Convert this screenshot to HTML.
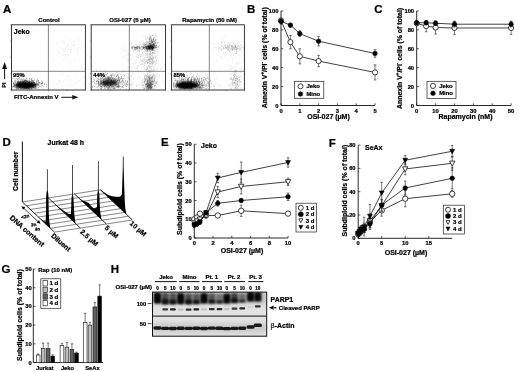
<!DOCTYPE html>
<html lang="en"><head><meta charset="utf-8"><title>Figure</title>
<style>
html,body{margin:0;padding:0;background:#fff;}
body{width:520px;height:371px;overflow:hidden;}
svg{display:block;filter:grayscale(1) blur(0.45px);font-family:'Liberation Sans', sans-serif;fill:#000;}
text{stroke:#000;stroke-width:0.22px;}
</style></head><body>
<svg width="520" height="371" viewBox="0 0 520 371" style="font-family:'Liberation Sans',sans-serif">
<defs>
<filter id="b1" x="-30%" y="-50%" width="160%" height="200%"><feGaussianBlur stdDeviation="1.3"/></filter>
<filter id="b2" x="-50%" y="-50%" width="200%" height="200%"><feGaussianBlur stdDeviation="0.8"/></filter>
<filter id="b3" x="-10%" y="-50%" width="120%" height="200%"><feGaussianBlur stdDeviation="2"/></filter>
<filter id="b4" x="-50%" y="-80%" width="200%" height="260%"><feGaussianBlur stdDeviation="0.6"/></filter>
<clipPath id="cpA0"><rect x="11.9" y="25.2" width="73.1" height="64.4"/></clipPath>
<clipPath id="cpA1"><rect x="91.6" y="25.2" width="73.5" height="64.4"/></clipPath>
<clipPath id="cpA2"><rect x="172.0" y="25.2" width="72.0" height="64.4"/></clipPath>
<clipPath id="cpH"><rect x="152.5" y="292.1" width="114.2" height="44.1"/></clipPath>
</defs>
<rect width="520" height="371" fill="#fff"/>
<text x="3" y="12.5" font-size="11.5" text-anchor="start" font-weight="bold">A</text>
<rect x="11.5" y="24.8" width="73.9" height="65.2" fill="#fff" stroke="#222" stroke-width="0.9"/>
<line x1="48.40" y1="24.80" x2="48.40" y2="90.00" stroke="#333" stroke-width="0.6"/>
<line x1="11.50" y1="71.30" x2="85.40" y2="71.30" stroke="#333" stroke-width="0.6"/>
<text x="49.0" y="21.5" font-size="6" text-anchor="middle" font-weight="bold">Control</text>
<line x1="10.00" y1="24.80" x2="11.50" y2="24.80" stroke="#555" stroke-width="0.4"/>
<line x1="11.50" y1="90.00" x2="11.50" y2="91.50" stroke="#555" stroke-width="0.4"/>
<line x1="10.00" y1="41.10" x2="11.50" y2="41.10" stroke="#555" stroke-width="0.4"/>
<line x1="29.98" y1="90.00" x2="29.98" y2="91.50" stroke="#555" stroke-width="0.4"/>
<line x1="10.00" y1="57.40" x2="11.50" y2="57.40" stroke="#555" stroke-width="0.4"/>
<line x1="48.45" y1="90.00" x2="48.45" y2="91.50" stroke="#555" stroke-width="0.4"/>
<line x1="10.00" y1="73.70" x2="11.50" y2="73.70" stroke="#555" stroke-width="0.4"/>
<line x1="66.93" y1="90.00" x2="66.93" y2="91.50" stroke="#555" stroke-width="0.4"/>
<line x1="10.00" y1="90.00" x2="11.50" y2="90.00" stroke="#555" stroke-width="0.4"/>
<line x1="85.40" y1="90.00" x2="85.40" y2="91.50" stroke="#555" stroke-width="0.4"/>
<rect x="91.2" y="24.8" width="74.3" height="65.2" fill="#fff" stroke="#222" stroke-width="0.9"/>
<line x1="129.30" y1="24.80" x2="129.30" y2="90.00" stroke="#333" stroke-width="0.6"/>
<line x1="91.20" y1="71.30" x2="165.50" y2="71.30" stroke="#333" stroke-width="0.6"/>
<text x="130.0" y="21.5" font-size="6" text-anchor="middle" font-weight="bold">OSI-027 (5 µM)</text>
<line x1="89.70" y1="24.80" x2="91.20" y2="24.80" stroke="#555" stroke-width="0.4"/>
<line x1="91.20" y1="90.00" x2="91.20" y2="91.50" stroke="#555" stroke-width="0.4"/>
<line x1="89.70" y1="41.10" x2="91.20" y2="41.10" stroke="#555" stroke-width="0.4"/>
<line x1="109.78" y1="90.00" x2="109.78" y2="91.50" stroke="#555" stroke-width="0.4"/>
<line x1="89.70" y1="57.40" x2="91.20" y2="57.40" stroke="#555" stroke-width="0.4"/>
<line x1="128.35" y1="90.00" x2="128.35" y2="91.50" stroke="#555" stroke-width="0.4"/>
<line x1="89.70" y1="73.70" x2="91.20" y2="73.70" stroke="#555" stroke-width="0.4"/>
<line x1="146.93" y1="90.00" x2="146.93" y2="91.50" stroke="#555" stroke-width="0.4"/>
<line x1="89.70" y1="90.00" x2="91.20" y2="90.00" stroke="#555" stroke-width="0.4"/>
<line x1="165.50" y1="90.00" x2="165.50" y2="91.50" stroke="#555" stroke-width="0.4"/>
<rect x="171.6" y="24.8" width="72.80000000000001" height="65.2" fill="#fff" stroke="#222" stroke-width="0.9"/>
<line x1="209.30" y1="24.80" x2="209.30" y2="90.00" stroke="#333" stroke-width="0.6"/>
<line x1="171.60" y1="71.30" x2="244.40" y2="71.30" stroke="#333" stroke-width="0.6"/>
<text x="209.6" y="21.5" font-size="6" text-anchor="middle" font-weight="bold">Rapamycin (50 nM)</text>
<line x1="170.10" y1="24.80" x2="171.60" y2="24.80" stroke="#555" stroke-width="0.4"/>
<line x1="171.60" y1="90.00" x2="171.60" y2="91.50" stroke="#555" stroke-width="0.4"/>
<line x1="170.10" y1="41.10" x2="171.60" y2="41.10" stroke="#555" stroke-width="0.4"/>
<line x1="189.80" y1="90.00" x2="189.80" y2="91.50" stroke="#555" stroke-width="0.4"/>
<line x1="170.10" y1="57.40" x2="171.60" y2="57.40" stroke="#555" stroke-width="0.4"/>
<line x1="208.00" y1="90.00" x2="208.00" y2="91.50" stroke="#555" stroke-width="0.4"/>
<line x1="170.10" y1="73.70" x2="171.60" y2="73.70" stroke="#555" stroke-width="0.4"/>
<line x1="226.20" y1="90.00" x2="226.20" y2="91.50" stroke="#555" stroke-width="0.4"/>
<line x1="170.10" y1="90.00" x2="171.60" y2="90.00" stroke="#555" stroke-width="0.4"/>
<line x1="244.40" y1="90.00" x2="244.40" y2="91.50" stroke="#555" stroke-width="0.4"/>
<text x="13.8" y="33.5" font-size="7" text-anchor="start" font-weight="bold">Jeko</text>
<text x="13.9" y="98.8" font-size="6" text-anchor="start" font-weight="bold">FITC-Annexin V</text>
<line x1="61.30" y1="97.30" x2="73.00" y2="97.30" stroke="#111" stroke-width="1.0"/>
<polygon points="72.3,95.0 78.4,97.3 72.3,99.6" fill="#111"/>
<line x1="4.60" y1="68.00" x2="4.60" y2="79.20" stroke="#111" stroke-width="1.0"/>
<polygon points="2.1,69 4.6,62 7.1,69" fill="#111"/>
<text x="6.4" y="87.4" font-size="5" text-anchor="start" font-weight="bold" transform="rotate(-90 6.4 87.4)">PI</text>
<g clip-path="url(#cpA0)">
<ellipse cx="26.0" cy="85.2" rx="11.0" ry="3.0" fill="#000" fill-opacity="0.95" filter="url(#b1)"/>
<ellipse cx="24.0" cy="85.5" rx="7.5" ry="2.3" fill="#000" fill-opacity="0.9" filter="url(#b1)"/>
<path d="M26.5 87.8h0.55M19.6 84.0h0.55M23.0 86.7h0.55M18.8 84.9h0.55M27.0 84.9h0.55M37.0 88.9h0.55M22.7 80.9h0.55M21.7 87.6h0.55M30.3 84.5h0.55M29.3 88.5h0.55M27.3 85.1h0.55M19.2 82.7h0.55M26.3 85.4h0.55M31.9 86.7h0.55M16.0 84.7h0.55M22.9 86.0h0.55M16.4 78.6h0.55M12.1 87.1h0.55M24.7 86.6h0.55M16.6 85.0h0.55M28.6 84.8h0.55M27.7 87.5h0.55M25.0 83.3h0.55M22.3 84.1h0.55M26.1 87.9h0.55M27.4 80.7h0.55M14.6 87.9h0.55M22.8 82.8h0.55M18.9 81.5h0.55M20.2 88.1h0.55M34.8 84.3h0.55M20.2 81.0h0.55M26.2 83.6h0.55M33.4 87.2h0.55M21.9 87.9h0.55M25.6 83.4h0.55M27.4 85.7h0.55M27.0 86.6h0.55M16.9 82.8h0.55M27.1 85.6h0.55M37.1 84.5h0.55M14.4 83.1h0.55M33.2 83.2h0.55M27.4 84.8h0.55M21.5 84.7h0.55M42.1 83.0h0.55M32.4 83.4h0.55M17.1 87.7h0.55M27.1 85.2h0.55M31.0 87.1h0.55M25.0 88.0h0.55M31.8 86.2h0.55M31.7 82.3h0.55M37.7 86.9h0.55M21.2 83.7h0.55M22.9 89.4h0.55M27.5 79.1h0.55M17.2 81.9h0.55M22.0 86.5h0.55M25.0 86.8h0.55M33.5 86.7h0.55M35.4 84.4h0.55M16.2 85.9h0.55M20.3 86.4h0.55M31.5 84.4h0.55M22.9 78.3h0.55M25.7 86.4h0.55M36.3 81.7h0.55M31.9 87.3h0.55M23.9 84.0h0.55M23.6 82.1h0.55M24.5 85.6h0.55M38.4 82.0h0.55M23.2 82.0h0.55M24.1 80.2h0.55M29.3 84.5h0.55M25.6 86.0h0.55M25.0 87.5h0.55M17.8 84.2h0.55M26.4 87.5h0.55M23.0 84.7h0.55M35.6 84.3h0.55M31.6 86.2h0.55M26.3 87.6h0.55M31.7 83.6h0.55M23.8 83.9h0.55M34.7 84.1h0.55M26.5 84.8h0.55M31.1 82.1h0.55M16.4 87.5h0.55M29.2 83.5h0.55M13.3 85.9h0.55M24.1 85.6h0.55M19.5 85.7h0.55M27.8 83.4h0.55M20.0 85.6h0.55M28.1 87.3h0.55M30.3 82.7h0.55M25.1 83.5h0.55M24.9 85.8h0.55M32.0 84.8h0.55M30.6 84.7h0.55M18.4 83.8h0.55M25.9 79.5h0.55M26.8 84.0h0.55M18.3 78.4h0.55M28.5 85.6h0.55M19.8 82.6h0.55M34.1 82.6h0.55M28.0 84.0h0.55M27.2 85.4h0.55M21.9 80.6h0.55M25.6 79.7h0.55M17.7 78.9h0.55M29.3 81.9h0.55M33.1 81.6h0.55M12.9 86.4h0.55M32.4 80.8h0.55M19.9 85.4h0.55M32.6 83.7h0.55M27.5 84.4h0.55M14.5 86.2h0.55M37.7 85.1h0.55M26.0 84.9h0.55M24.4 81.9h0.55M25.3 86.2h0.55M18.9 83.9h0.55M35.1 86.9h0.55M22.3 84.5h0.55M20.3 79.0h0.55M21.6 83.8h0.55M16.5 87.1h0.55M36.3 83.6h0.55M25.3 82.4h0.55M34.0 83.9h0.55M26.6 80.7h0.55M21.1 84.9h0.55M22.1 87.8h0.55M26.6 81.5h0.55M23.6 82.2h0.55M24.2 83.5h0.55M15.7 87.4h0.55M20.2 82.3h0.55M39.4 82.7h0.55M21.3 87.1h0.55M18.3 87.0h0.55M29.1 83.6h0.55M37.5 81.5h0.55M15.2 80.3h0.55M24.9 82.6h0.55M21.6 78.4h0.55M12.8 86.7h0.55M32.2 82.8h0.55M26.3 85.9h0.55M20.6 87.9h0.55M30.0 81.4h0.55M22.3 87.0h0.55M25.4 87.8h0.55M17.9 82.5h0.55M17.0 81.9h0.55M36.9 84.3h0.55M22.5 80.1h0.55M28.8 88.7h0.55M26.2 77.9h0.55M23.1 81.5h0.55M22.5 83.8h0.55M31.4 84.0h0.55M24.1 85.1h0.55M25.3 85.4h0.55M26.7 84.0h0.55M35.7 87.8h0.55M31.8 78.6h0.55M29.5 84.6h0.55M22.1 82.6h0.55M15.7 85.0h0.55M33.9 85.2h0.55M34.0 82.0h0.55M25.4 82.8h0.55M30.7 86.8h0.55M32.6 85.6h0.55M33.0 82.7h0.55M38.3 80.5h0.55M16.8 85.4h0.55M30.4 86.8h0.55M33.3 85.2h0.55M41.2 84.0h0.55M38.1 83.1h0.55M17.6 84.0h0.55M13.3 83.1h0.55M32.9 86.7h0.55M18.6 83.5h0.55M26.4 83.4h0.55M33.0 81.2h0.55M13.7 84.5h0.55M28.5 84.1h0.55M26.8 87.5h0.55M24.6 85.6h0.55M26.8 86.0h0.55M19.8 85.6h0.55M14.7 84.8h0.55M25.2 84.2h0.55M18.9 83.7h0.55M13.7 86.7h0.55M30.4 81.6h0.55M26.0 88.4h0.55M29.7 84.7h0.55M18.8 82.5h0.55M21.4 83.2h0.55M18.7 82.7h0.55M19.6 85.0h0.55M28.0 82.6h0.55M20.4 87.8h0.55M29.3 82.4h0.55M29.2 78.2h0.55M42.3 82.6h0.55M15.6 79.0h0.55M33.4 84.5h0.55M25.8 87.6h0.55M26.4 86.4h0.55M15.2 80.9h0.55M22.9 82.5h0.55M25.9 85.5h0.55M27.1 84.6h0.55M24.2 87.6h0.55M26.3 88.2h0.55M21.1 85.6h0.55M22.4 81.6h0.55M36.9 84.7h0.55M26.9 81.9h0.55M17.4 84.4h0.55M19.2 84.9h0.55M27.7 82.2h0.55M26.9 84.3h0.55M26.1 84.1h0.55M26.8 85.8h0.55M32.8 87.5h0.55M30.8 83.2h0.55M28.2 82.3h0.55M18.4 80.0h0.55M30.5 82.0h0.55M21.2 86.1h0.55M35.0 84.7h0.55M16.6 81.8h0.55M25.4 83.6h0.55M26.4 84.7h0.55M16.2 86.0h0.55M39.9 82.9h0.55M37.9 83.9h0.55M22.9 79.5h0.55M32.5 81.4h0.55M29.5 89.1h0.55M28.5 83.7h0.55M26.0 85.2h0.55M27.1 83.6h0.55M18.1 82.3h0.55M24.4 84.4h0.55M25.1 84.6h0.55M35.8 84.4h0.55M29.1 79.3h0.55M26.5 84.2h0.55M38.4 82.2h0.55M22.2 83.1h0.55M23.5 85.2h0.55M12.3 86.4h0.55M38.7 87.1h0.55M34.0 83.2h0.55M33.7 87.2h0.55M31.7 87.9h0.55M27.4 87.8h0.55M28.2 88.5h0.55M24.5 84.2h0.55M24.9 84.1h0.55M26.9 86.9h0.55M38.3 80.8h0.55M30.8 85.2h0.55M26.0 83.1h0.55M22.0 83.6h0.55M21.5 79.7h0.55M39.0 82.1h0.55M30.5 84.5h0.55M27.0 87.1h0.55M23.8 87.4h0.55M17.8 84.4h0.55M26.0 84.1h0.55M33.3 82.3h0.55M23.4 85.7h0.55M24.7 83.9h0.55M24.8 86.3h0.55M14.1 84.5h0.55M24.7 80.4h0.55M19.8 82.2h0.55M33.4 80.5h0.55M20.5 81.2h0.55M31.0 88.3h0.55M38.4 85.2h0.55M24.1 80.3h0.55M21.8 86.4h0.55M28.0 88.1h0.55M26.5 83.6h0.55M18.7 82.7h0.55M30.1 83.7h0.55M42.2 85.4h0.55M24.5 86.4h0.55M24.9 87.9h0.55M18.3 88.0h0.55M29.0 87.9h0.55M16.8 88.4h0.55M17.9 86.5h0.55M36.5 80.3h0.55M19.4 84.2h0.55M34.9 85.5h0.55M38.4 83.5h0.55M28.5 87.2h0.55M30.8 83.6h0.55M41.7 82.0h0.55M25.0 88.6h0.55M21.9 86.5h0.55M15.9 85.2h0.55M26.8 87.2h0.55M38.0 87.6h0.55M34.0 85.6h0.55M19.2 77.7h0.55M19.8 82.7h0.55M22.6 83.3h0.55M28.8 81.8h0.55M24.9 85.2h0.55M28.2 87.9h0.55M28.8 83.2h0.55M24.2 81.4h0.55M28.1 83.3h0.55M25.8 81.1h0.55M30.4 85.3h0.55M41.1 85.8h0.55M31.1 82.6h0.55M26.9 86.8h0.55M13.3 83.2h0.55M29.5 82.0h0.55M15.5 86.8h0.55M33.2 82.8h0.55M32.0 85.5h0.55M25.3 84.3h0.55M23.6 82.6h0.55M21.2 88.5h0.55M31.5 84.5h0.55M44.1 84.2h0.55M28.2 86.6h0.55M20.4 87.1h0.55M17.4 88.1h0.55M26.1 85.5h0.55M25.1 82.9h0.55M17.5 83.1h0.55M27.4 86.0h0.55M17.5 86.2h0.55M35.2 88.5h0.55M34.8 85.8h0.55M35.0 87.6h0.55M22.8 88.8h0.55M30.5 85.1h0.55M25.5 80.4h0.55M23.5 81.3h0.55M23.9 80.6h0.55M16.4 89.1h0.55M15.2 82.2h0.55M32.7 88.0h0.55M25.0 86.2h0.55M34.3 87.4h0.55M13.0 84.3h0.55M20.4 84.0h0.55M27.9 84.8h0.55M29.6 85.1h0.55M23.6 83.1h0.55M34.5 84.5h0.55M28.1 89.1h0.55M17.0 79.8h0.55M19.2 85.3h0.55M32.8 82.1h0.55M30.1 85.1h0.55M37.0 84.4h0.55M31.2 86.8h0.55M37.0 80.1h0.55M23.5 87.7h0.55M24.2 82.9h0.55M17.7 86.3h0.55M46.3 85.1h0.55M25.1 77.4h0.55M38.9 82.5h0.55M21.5 85.2h0.55M27.8 89.0h0.55M13.5 85.4h0.55M23.5 85.3h0.55M34.2 80.6h0.55M16.7 88.6h0.55M29.1 84.7h0.55M18.4 84.0h0.55M22.6 80.1h0.55M22.9 87.1h0.55M22.3 86.6h0.55M20.0 88.1h0.55M24.1 86.1h0.55M18.5 81.8h0.55M16.4 88.3h0.55M26.1 81.1h0.55M33.4 84.0h0.55M14.6 85.4h0.55M26.5 87.1h0.55M21.4 85.8h0.55M18.9 85.7h0.55M33.2 82.5h0.55M22.5 81.0h0.55M38.2 84.8h0.55M20.4 82.6h0.55M29.5 80.9h0.55M24.7 81.1h0.55M20.6 83.2h0.55M31.1 79.4h0.55M25.3 80.8h0.55M31.2 80.0h0.55M26.1 85.1h0.55M18.0 85.7h0.55M26.9 80.4h0.55M34.0 82.7h0.55M19.4 87.2h0.55M26.2 84.0h0.55M13.1 83.7h0.55M31.6 89.4h0.55M18.1 83.7h0.55M12.4 81.4h0.55M26.0 80.9h0.55M35.1 85.5h0.55M14.6 85.5h0.55M18.0 80.8h0.55M20.7 81.8h0.55M17.7 86.1h0.55M29.5 86.2h0.55M20.2 82.8h0.55M20.9 86.3h0.55M31.0 86.2h0.55M20.6 79.6h0.55M29.9 83.7h0.55M18.9 85.8h0.55M17.0 83.0h0.55M12.2 78.6h0.55M41.0 83.8h0.55M24.0 86.7h0.55M28.4 89.0h0.55M26.3 78.5h0.55M26.9 81.4h0.55M41.4 87.3h0.55M18.4 88.1h0.55M14.4 87.4h0.55M18.6 85.0h0.55M16.1 81.3h0.55M32.3 86.4h0.55M32.9 82.6h0.55M19.0 77.5h0.55M23.7 86.6h0.55M30.6 88.7h0.55M18.1 89.1h0.55M34.6 89.0h0.55M18.1 84.5h0.55M24.3 81.2h0.55M14.8 84.1h0.55M18.9 78.4h0.55M37.3 79.8h0.55M32.9 84.9h0.55M23.4 81.8h0.55M19.7 84.1h0.55M26.3 88.2h0.55M25.8 84.5h0.55M25.8 88.0h0.55M17.7 82.4h0.55M26.0 83.7h0.55M26.2 87.1h0.55M36.6 81.1h0.55M41.1 83.8h0.55M25.4 80.9h0.55M20.5 84.9h0.55M26.0 89.2h0.55M21.8 82.5h0.55M20.7 85.2h0.55M26.0 82.1h0.55M18.4 81.4h0.55M31.2 81.1h0.55M25.7 88.7h0.55M25.1 86.0h0.55M20.8 82.6h0.55M19.1 86.6h0.55M24.6 83.7h0.55M22.2 86.8h0.55M28.3 85.4h0.55M26.5 85.4h0.55M15.9 86.3h0.55M27.0 83.0h0.55M16.0 83.5h0.55M21.7 79.8h0.55M24.2 83.4h0.55M27.2 84.2h0.55M27.7 81.9h0.55M25.3 84.9h0.55M23.2 85.9h0.55M23.6 80.6h0.55M18.9 82.3h0.55M24.4 82.0h0.55M22.2 86.7h0.55M27.2 89.4h0.55M17.1 87.0h0.55M28.3 83.6h0.55M27.6 88.7h0.55M25.4 80.4h0.55M23.1 88.8h0.55M30.8 82.8h0.55M13.5 76.8h0.55M28.4 89.0h0.55M28.7 81.7h0.55M29.5 85.1h0.55M21.4 84.0h0.55M24.5 84.9h0.55M31.5 80.4h0.55M29.9 82.7h0.55M28.1 85.9h0.55M14.7 85.2h0.55M30.7 88.0h0.55M35.6 84.8h0.55M28.3 82.6h0.55M14.4 85.3h0.55M33.9 79.2h0.55M25.4 81.1h0.55M29.4 82.0h0.55M14.9 86.1h0.55M16.4 84.4h0.55M21.5 81.7h0.55M36.4 83.6h0.55M23.6 83.2h0.55M28.6 83.2h0.55M40.1 86.7h0.55M38.9 86.4h0.55M25.7 83.0h0.55M24.6 82.1h0.55M16.7 85.4h0.55M21.1 84.3h0.55M29.8 87.5h0.55M27.4 87.0h0.55M34.3 84.5h0.55M20.5 84.1h0.55M26.1 82.2h0.55M32.2 82.1h0.55M31.1 81.8h0.55M34.9 83.5h0.55M29.6 83.4h0.55M24.1 86.7h0.55M29.3 83.5h0.55M18.7 84.0h0.55M13.7 81.2h0.55M31.0 89.2h0.55M26.1 86.0h0.55M13.3 86.8h0.55M23.7 88.8h0.55M21.8 83.9h0.55M19.8 86.6h0.55M23.9 81.2h0.55M33.5 87.9h0.55M29.5 89.4h0.55M21.8 85.8h0.55M26.4 86.7h0.55M32.4 88.2h0.55M25.5 85.8h0.55M30.7 82.1h0.55M31.8 82.7h0.55M39.8 82.8h0.55M35.4 84.2h0.55M28.9 85.0h0.55M28.9 85.9h0.55M32.6 80.5h0.55M26.2 87.9h0.55M33.6 86.7h0.55M41.8 83.6h0.55M25.3 84.3h0.55M26.1 86.2h0.55M28.0 85.8h0.55M37.0 79.8h0.55M26.3 86.7h0.55M19.0 79.3h0.55M25.0 87.5h0.55M25.0 85.7h0.55M32.6 84.3h0.55M34.7 88.5h0.55M14.7 81.2h0.55M19.4 85.1h0.55M29.1 88.8h0.55M21.4 84.0h0.55M14.6 83.4h0.55M34.6 84.9h0.55M30.4 83.3h0.55M30.3 89.0h0.55M22.8 82.0h0.55M34.5 87.1h0.55M24.6 81.0h0.55M35.1 86.5h0.55M19.4 84.3h0.55M19.8 77.2h0.55M28.1 84.6h0.55M21.0 81.5h0.55M31.8 83.3h0.55M28.5 89.0h0.55M19.3 81.4h0.55M27.1 81.5h0.55M23.8 88.7h0.55M33.6 84.9h0.55M21.6 89.0h0.55M23.1 85.5h0.55M35.9 82.1h0.55M44.0 84.4h0.55M42.1 88.1h0.55M27.0 87.3h0.55M28.2 84.6h0.55M38.5 84.7h0.55M25.5 84.3h0.55M18.9 82.9h0.55M30.0 84.6h0.55M20.0 81.3h0.55M13.7 83.2h0.55M15.3 86.7h0.55M31.7 86.4h0.55M20.6 84.2h0.55M25.4 82.7h0.55M28.2 84.7h0.55M31.3 79.8h0.55M23.9 80.9h0.55M30.4 86.9h0.55M19.6 83.2h0.55M23.7 85.7h0.55M18.5 88.1h0.55M35.3 86.5h0.55M26.3 84.7h0.55M23.8 86.5h0.55M24.8 83.6h0.55M32.0 86.7h0.55M14.1 85.8h0.55M18.4 82.1h0.55M23.6 84.8h0.55M46.3 84.1h0.55M34.0 78.9h0.55M25.6 84.1h0.55M32.1 83.8h0.55M42.5 83.3h0.55M24.7 79.9h0.55M23.6 83.6h0.55M36.0 84.5h0.55M30.4 84.9h0.55M31.7 81.3h0.55M22.5 86.4h0.55M41.5 81.1h0.55M39.8 84.0h0.55M30.9 88.4h0.55M31.8 82.6h0.55M31.5 87.7h0.55M25.0 83.5h0.55M29.9 83.7h0.55M31.8 85.2h0.55M23.8 87.6h0.55M13.3 78.3h0.55M29.4 82.2h0.55M20.7 81.7h0.55M23.9 81.5h0.55M21.8 82.1h0.55M23.8 82.2h0.55M36.0 82.0h0.55M28.5 85.0h0.55M35.2 85.8h0.55M41.9 82.5h0.55M26.7 85.0h0.55M12.4 89.3h0.55M19.5 85.5h0.55M17.1 82.8h0.55M22.6 84.4h0.55M27.1 82.0h0.55M29.2 87.1h0.55M14.7 82.3h0.55M28.8 84.0h0.55M25.6 87.8h0.55M24.1 83.2h0.55M25.9 85.1h0.55M22.3 81.7h0.55M21.7 82.3h0.55M13.4 83.1h0.55M40.9 83.5h0.55M41.9 83.1h0.55M36.8 83.0h0.55M32.0 84.1h0.55M21.2 86.4h0.55M37.8 85.1h0.55M26.0 85.2h0.55M24.2 88.7h0.55M27.2 85.4h0.55M23.1 86.3h0.55M25.8 80.6h0.55M18.0 84.2h0.55M23.6 84.4h0.55M44.3 83.9h0.55M26.0 78.6h0.55M24.6 87.1h0.55M30.7 83.5h0.55M32.0 83.4h0.55M17.8 83.9h0.55M24.9 84.0h0.55M33.7 85.7h0.55M28.6 81.0h0.55M27.5 82.0h0.55M38.6 85.4h0.55M21.2 85.0h0.55M27.1 83.5h0.55M22.4 83.0h0.55M38.1 82.3h0.55M21.3 87.9h0.55M22.4 81.6h0.55M31.7 88.9h0.55M31.2 87.0h0.55M37.4 83.3h0.55M14.2 86.8h0.55M32.4 80.5h0.55M24.2 79.8h0.55M21.3 81.0h0.55M30.7 83.5h0.55M19.3 83.7h0.55M23.6 84.9h0.55M14.8 78.6h0.55M21.4 86.0h0.55M29.4 80.6h0.55M28.9 82.7h0.55M38.9 83.4h0.55M24.9 81.4h0.55M14.5 80.8h0.55M20.6 81.8h0.55M19.3 84.6h0.55M17.0 86.3h0.55M29.9 86.2h0.55M21.5 81.8h0.55M31.9 82.0h0.55M25.6 85.9h0.55M29.3 78.9h0.55M27.3 88.1h0.55M31.4 83.2h0.55M26.8 82.4h0.55M36.1 85.6h0.55M29.8 87.5h0.55M29.6 85.6h0.55M29.7 87.5h0.55M15.1 85.0h0.55M25.2 88.0h0.55M24.5 88.1h0.55M28.1 84.3h0.55M15.9 88.6h0.55M39.2 85.1h0.55M27.3 84.8h0.55M17.1 82.0h0.55M13.2 83.8h0.55M24.3 86.8h0.55M25.8 80.9h0.55M20.9 86.4h0.55M27.2 85.6h0.55M21.5 85.4h0.55M30.8 78.4h0.55M20.8 84.3h0.55M26.2 86.4h0.55M34.1 82.5h0.55M46.6 84.9h0.55M18.6 77.9h0.55M22.9 86.5h0.55M19.9 82.7h0.55M32.6 87.0h0.55M17.5 79.4h0.55M22.7 86.5h0.55M26.3 83.9h0.55M18.9 86.9h0.55M19.0 82.0h0.55M22.8 82.9h0.55M15.2 82.3h0.55M23.3 82.6h0.55M27.7 83.8h0.55M25.1 81.7h0.55M12.7 87.9h0.55M32.7 82.6h0.55M30.8 79.8h0.55M25.9 87.9h0.55M19.6 87.7h0.55M31.4 86.9h0.55M22.0 87.8h0.55M17.4 82.2h0.55M20.2 84.1h0.55M37.8 80.7h0.55M28.2 80.6h0.55M35.5 87.3h0.55M22.8 82.7h0.55M21.8 84.8h0.55M25.3 82.8h0.55M45.9 86.8h0.55M22.6 86.0h0.55M25.8 81.2h0.55M29.0 85.6h0.55M35.9 88.5h0.55M22.7 83.2h0.55M12.9 82.4h0.55M24.3 87.4h0.55M26.6 85.0h0.55M27.4 81.5h0.55M36.8 83.5h0.55M29.0 82.5h0.55M32.8 85.4h0.55M17.9 84.9h0.55M33.3 87.8h0.55M42.9 86.6h0.55M32.5 80.2h0.55M28.5 85.7h0.55M27.7 87.1h0.55M40.4 85.9h0.55M19.3 87.5h0.55M25.6 83.1h0.55M30.1 81.9h0.55M32.3 87.2h0.55M23.1 81.6h0.55M28.9 78.6h0.55M24.3 87.5h0.55M27.4 82.6h0.55M25.5 83.7h0.55M17.6 80.7h0.55M26.3 80.9h0.55M33.3 81.4h0.55M19.0 83.6h0.55M24.6 85.6h0.55M31.7 78.2h0.55M18.2 86.7h0.55M27.9 81.3h0.55M18.2 81.6h0.55" stroke="#000" stroke-width="0.55" stroke-opacity="0.6" fill="none"/>
<path d="M74.1 45.7h0.55M67.3 64.0h0.55M54.2 59.3h0.55M84.6 53.1h0.55M60.3 49.6h0.55M70.2 65.3h0.55M69.8 52.3h0.55M80.7 49.4h0.55M63.9 52.1h0.55M77.1 52.1h0.55M61.3 59.9h0.55M78.1 49.9h0.55M61.1 64.7h0.55M64.7 43.8h0.55M70.9 43.0h0.55M69.0 62.7h0.55M71.3 49.6h0.55M60.7 56.5h0.55M74.6 58.8h0.55M57.4 42.2h0.55M78.2 47.6h0.55M78.9 40.2h0.55M62.8 51.0h0.55M62.3 49.3h0.55M69.6 47.6h0.55M68.1 45.2h0.55M59.2 47.3h0.55M73.1 44.8h0.55M49.6 53.7h0.55M64.1 60.6h0.55M64.4 36.5h0.55M65.5 49.2h0.55M70.8 47.1h0.55M56.9 53.4h0.55M73.3 43.3h0.55M66.4 49.0h0.55M62.1 42.7h0.55M55.7 54.9h0.55M57.4 50.7h0.55M71.2 48.9h0.55M59.3 52.6h0.55M68.6 48.3h0.55M77.6 39.1h0.55M77.3 54.2h0.55M82.0 52.0h0.55M65.3 48.9h0.55M58.2 56.9h0.55M77.2 58.5h0.55M70.8 42.4h0.55M78.1 44.5h0.55M68.1 60.8h0.55M78.8 59.9h0.55M75.6 44.8h0.55M74.4 41.7h0.55M72.5 45.5h0.55M71.6 46.5h0.55M70.1 38.9h0.55M70.0 50.2h0.55M76.9 41.0h0.55M63.4 41.5h0.55M83.6 56.4h0.55M67.0 45.2h0.55M76.9 49.5h0.55M67.2 54.4h0.55M65.8 55.7h0.55M65.2 50.3h0.55M56.5 44.2h0.55M61.6 62.2h0.55M65.1 54.5h0.55M69.9 50.0h0.55M76.4 55.0h0.55M59.0 53.4h0.55M71.2 62.8h0.55M74.0 59.6h0.55M84.2 46.2h0.55M61.7 49.4h0.55M73.4 41.0h0.55M70.7 51.7h0.55M58.8 51.1h0.55M67.8 68.9h0.55M65.6 50.7h0.55M47.1 35.3h0.55M73.4 45.3h0.55M72.9 50.8h0.55M64.0 41.2h0.55M56.0 43.9h0.55M81.3 47.4h0.55M70.4 52.4h0.55M77.2 48.8h0.55M80.7 43.8h0.55M63.3 55.5h0.55M75.3 46.2h0.55M65.8 46.5h0.55M67.4 40.3h0.55M67.2 44.5h0.55M68.0 54.6h0.55M78.0 38.7h0.55M69.1 49.5h0.55M66.6 55.0h0.55M65.5 47.4h0.55M71.1 51.7h0.55M59.9 42.2h0.55M63.5 59.2h0.55M67.5 57.7h0.55M62.9 51.6h0.55M66.9 37.7h0.55" stroke="#000" stroke-width="0.55" stroke-opacity="0.22" fill="none"/>
<path d="M55.5 74.7h0.55M83.1 77.3h0.55M69.0 70.0h0.55M78.5 80.4h0.55M59.9 80.3h0.55M66.0 79.3h0.55M70.2 80.9h0.55M50.7 84.0h0.55M75.4 88.9h0.55M79.2 80.7h0.55M54.5 86.2h0.55M52.4 83.6h0.55M69.5 79.5h0.55M59.5 81.4h0.55M42.3 81.1h0.55M74.1 76.4h0.55M67.6 87.1h0.55M61.2 74.1h0.55M67.4 85.8h0.55M58.5 80.5h0.55M67.0 77.2h0.55M55.6 79.9h0.55M58.4 83.4h0.55M69.9 84.7h0.55M60.5 82.4h0.55M61.5 86.0h0.55M82.7 78.2h0.55M74.6 82.2h0.55M74.0 73.2h0.55M71.3 84.8h0.55M70.8 81.8h0.55M80.6 78.9h0.55M65.8 86.8h0.55M84.6 84.5h0.55M56.5 66.9h0.55M63.4 81.2h0.55M52.2 73.7h0.55M62.6 86.3h0.55M80.5 78.4h0.55M59.4 81.4h0.55M66.1 79.7h0.55M62.4 82.8h0.55M58.6 84.2h0.55M54.1 87.4h0.55M66.6 76.1h0.55M48.7 88.9h0.55M67.1 76.3h0.55M66.2 82.4h0.55M59.4 86.8h0.55M55.9 84.6h0.55M52.2 76.3h0.55M84.7 77.5h0.55M52.6 78.7h0.55M81.6 80.7h0.55M72.0 86.7h0.55M62.4 74.5h0.55M54.4 83.3h0.55M76.4 84.0h0.55M83.3 83.8h0.55M56.7 83.3h0.55M63.0 88.6h0.55M76.5 83.4h0.55M69.4 85.3h0.55M71.4 71.5h0.55" stroke="#000" stroke-width="0.55" stroke-opacity="0.22" fill="none"/>
</g>
<g clip-path="url(#cpA1)">
<ellipse cx="109.0" cy="82.8" rx="8.5" ry="3.3" fill="#000" fill-opacity="0.62" filter="url(#b1)"/>
<ellipse cx="107.5" cy="83" rx="4.5" ry="1.8" fill="#000" fill-opacity="0.5" filter="url(#b1)"/>
<path d="M120.6 76.6h0.55M107.8 76.5h0.55M107.7 88.0h0.55M102.0 85.3h0.55M94.5 82.7h0.55M106.8 80.5h0.55M104.3 82.4h0.55M114.1 82.4h0.55M97.8 80.9h0.55M121.9 79.4h0.55M107.9 83.3h0.55M104.1 79.8h0.55M103.5 76.8h0.55M100.6 79.3h0.55M105.5 85.3h0.55M110.1 85.5h0.55M108.5 81.4h0.55M98.3 82.5h0.55M107.8 81.0h0.55M102.6 77.6h0.55M111.3 87.8h0.55M125.5 83.9h0.55M107.4 79.1h0.55M96.5 81.7h0.55M98.3 86.0h0.55M96.0 81.3h0.55M116.0 76.5h0.55M103.6 78.3h0.55M110.5 82.7h0.55M104.8 83.7h0.55M110.8 81.9h0.55M121.6 86.5h0.55M104.3 86.5h0.55M107.2 83.7h0.55M103.3 82.4h0.55M117.3 81.2h0.55M101.5 84.6h0.55M100.6 86.2h0.55M98.5 82.6h0.55M98.3 84.2h0.55M113.9 80.9h0.55M131.3 76.4h0.55M101.7 78.1h0.55M117.9 85.5h0.55M112.1 84.2h0.55M100.9 89.0h0.55M107.7 82.5h0.55M108.1 85.9h0.55M104.3 87.9h0.55M126.0 86.5h0.55M94.2 79.7h0.55M113.2 81.5h0.55M112.8 82.8h0.55M105.2 78.2h0.55M111.2 84.3h0.55M117.3 86.6h0.55M111.3 80.3h0.55M115.8 81.1h0.55M93.1 81.4h0.55M122.3 81.3h0.55M128.9 79.3h0.55M118.1 84.1h0.55M118.4 82.4h0.55M98.3 89.3h0.55M109.0 84.9h0.55M103.3 84.6h0.55M105.1 81.4h0.55M118.0 76.4h0.55M103.3 81.9h0.55M108.9 78.7h0.55M94.2 86.3h0.55M108.7 82.2h0.55M110.7 89.3h0.55M104.2 85.4h0.55M104.0 85.8h0.55M125.7 83.3h0.55M100.0 83.2h0.55M101.3 85.0h0.55M103.3 86.2h0.55M120.0 79.3h0.55M127.4 84.4h0.55M104.0 81.9h0.55M106.4 81.2h0.55M118.8 79.4h0.55M102.4 76.2h0.55M122.1 87.3h0.55M121.8 82.6h0.55M110.6 83.6h0.55M122.9 78.6h0.55M101.3 86.7h0.55M119.8 84.9h0.55M106.9 84.0h0.55M103.6 84.3h0.55M110.9 82.2h0.55M108.2 89.0h0.55M101.8 84.9h0.55M96.7 83.8h0.55M102.2 87.5h0.55M122.1 86.1h0.55M126.3 84.2h0.55M115.4 83.7h0.55M105.7 84.5h0.55M109.4 81.9h0.55M112.3 78.7h0.55M101.0 80.9h0.55M101.8 77.9h0.55M110.8 82.8h0.55M107.3 83.4h0.55M101.2 73.7h0.55M113.2 82.4h0.55M107.8 85.0h0.55M118.5 83.0h0.55M110.0 78.3h0.55M107.5 87.6h0.55M111.1 79.4h0.55M108.6 77.2h0.55M104.5 77.8h0.55M106.7 82.2h0.55M116.2 86.4h0.55M115.4 87.2h0.55M120.7 83.2h0.55M95.9 77.3h0.55M106.7 79.6h0.55M106.6 78.5h0.55M111.4 81.6h0.55M106.2 74.9h0.55M105.7 82.8h0.55M116.5 85.0h0.55M111.5 81.7h0.55M100.3 84.2h0.55M121.1 78.4h0.55M118.3 76.2h0.55M105.2 79.6h0.55M116.9 87.2h0.55M103.9 86.6h0.55M119.3 80.4h0.55M108.2 87.4h0.55M103.3 80.9h0.55M106.9 88.7h0.55M103.6 84.3h0.55M111.6 80.4h0.55M111.5 85.6h0.55M110.3 79.0h0.55M105.4 78.4h0.55M110.8 83.4h0.55M94.3 82.1h0.55M112.0 82.0h0.55M119.4 80.6h0.55M112.3 88.3h0.55M106.8 80.5h0.55M108.5 79.3h0.55M108.9 87.5h0.55M105.4 88.3h0.55M105.2 83.7h0.55M102.3 75.0h0.55M119.9 79.8h0.55M109.9 84.9h0.55M117.9 82.4h0.55M107.9 88.8h0.55M110.6 76.6h0.55M108.6 85.1h0.55M113.8 79.7h0.55M116.9 87.9h0.55M112.0 82.0h0.55M104.4 86.6h0.55M103.5 79.6h0.55M123.8 76.4h0.55M107.7 77.6h0.55M107.6 79.8h0.55M122.2 78.0h0.55M119.0 87.3h0.55M114.4 87.9h0.55M106.7 83.4h0.55M129.5 78.0h0.55M113.3 81.8h0.55M114.5 79.4h0.55M108.6 88.4h0.55M98.3 83.6h0.55M98.9 84.4h0.55M113.4 80.6h0.55M113.3 73.9h0.55M108.0 79.1h0.55M100.3 77.6h0.55M98.0 83.9h0.55M107.3 82.7h0.55M97.9 78.9h0.55M117.5 80.7h0.55M119.6 88.9h0.55M133.5 78.3h0.55M117.3 78.4h0.55M105.1 81.3h0.55M102.8 79.4h0.55M105.1 84.5h0.55M118.0 74.8h0.55M115.1 82.2h0.55M114.9 82.5h0.55M111.8 81.9h0.55M115.5 81.5h0.55M122.0 80.9h0.55M101.2 86.5h0.55M106.2 80.3h0.55M98.5 81.8h0.55M123.4 82.3h0.55M120.8 82.8h0.55M116.2 81.6h0.55M100.1 86.5h0.55M111.4 82.3h0.55M108.1 83.0h0.55M110.7 82.1h0.55M108.4 78.1h0.55M114.3 78.8h0.55M106.7 77.9h0.55M117.1 83.1h0.55M112.0 79.3h0.55M107.6 77.8h0.55M109.1 83.3h0.55M106.3 84.5h0.55M116.8 74.9h0.55M107.7 89.4h0.55M112.4 82.4h0.55M106.7 81.9h0.55M97.7 86.8h0.55M117.5 82.6h0.55M101.2 79.8h0.55M113.5 77.8h0.55M96.3 81.9h0.55M102.2 85.9h0.55M105.7 77.8h0.55M103.2 81.9h0.55M100.2 83.9h0.55M108.0 78.6h0.55M113.2 82.1h0.55M106.4 85.1h0.55M112.5 82.6h0.55M103.8 77.2h0.55M109.8 84.0h0.55M114.8 82.8h0.55M110.4 84.2h0.55M106.2 87.1h0.55M101.0 86.6h0.55M111.4 84.0h0.55M112.9 83.6h0.55M107.9 77.7h0.55M103.6 81.7h0.55M114.5 83.2h0.55M130.6 80.6h0.55M107.5 82.7h0.55M112.8 78.8h0.55M113.1 88.7h0.55M111.0 80.7h0.55M104.1 84.0h0.55M121.5 81.3h0.55M107.9 87.6h0.55M103.5 84.1h0.55M108.2 82.6h0.55M111.4 81.4h0.55M105.4 82.8h0.55M109.6 78.1h0.55M98.8 85.1h0.55M108.1 79.3h0.55M116.4 84.5h0.55M126.3 82.8h0.55M115.9 86.9h0.55M112.3 82.2h0.55M119.8 86.6h0.55M118.5 78.4h0.55M123.8 84.9h0.55M119.0 81.4h0.55M109.0 83.1h0.55M112.1 82.6h0.55M111.5 86.2h0.55M112.5 73.8h0.55M111.7 83.7h0.55M103.5 76.0h0.55M92.5 87.4h0.55M104.4 74.0h0.55M93.2 78.1h0.55M110.6 75.3h0.55M110.0 89.2h0.55M96.1 76.9h0.55M115.7 82.8h0.55M117.2 80.0h0.55M110.8 74.7h0.55M123.8 80.9h0.55M125.5 85.1h0.55M100.0 81.5h0.55M118.6 86.3h0.55M113.7 80.8h0.55M113.5 82.3h0.55M117.8 80.7h0.55M104.0 83.7h0.55M103.1 83.8h0.55M103.7 83.1h0.55M109.2 79.7h0.55M97.9 79.1h0.55M101.3 88.4h0.55M114.8 77.6h0.55M109.4 78.5h0.55M113.2 81.9h0.55M94.3 80.5h0.55M105.4 72.4h0.55M110.3 83.8h0.55M105.1 85.3h0.55M117.7 77.6h0.55M109.5 79.6h0.55M110.1 84.1h0.55M110.1 89.1h0.55M115.9 78.4h0.55M106.1 75.7h0.55M119.3 86.4h0.55M113.8 88.7h0.55M111.3 80.9h0.55M110.3 73.0h0.55M114.3 88.4h0.55M118.4 81.5h0.55M117.8 87.0h0.55M113.1 82.1h0.55M117.3 80.7h0.55M111.0 80.4h0.55M120.4 88.5h0.55M109.8 88.3h0.55M92.8 73.3h0.55M121.1 78.4h0.55M100.3 80.8h0.55M108.4 76.6h0.55M102.7 82.3h0.55M127.4 81.8h0.55M114.1 81.9h0.55M97.0 80.3h0.55M114.5 81.0h0.55M106.7 80.4h0.55M125.9 83.7h0.55M101.3 78.9h0.55M110.5 81.7h0.55M107.1 87.8h0.55M106.5 83.9h0.55M92.2 81.8h0.55M113.5 84.6h0.55M123.9 84.0h0.55M94.2 86.9h0.55M119.7 84.4h0.55M129.5 87.9h0.55M113.6 82.1h0.55M108.4 80.6h0.55M119.2 86.0h0.55M114.4 84.5h0.55M105.1 81.9h0.55M115.9 76.1h0.55M105.8 74.6h0.55M95.2 83.8h0.55M126.9 85.5h0.55M107.1 85.7h0.55M104.9 76.9h0.55M112.8 86.7h0.55M97.1 80.1h0.55M98.8 83.9h0.55M105.9 84.1h0.55M105.7 78.9h0.55M110.6 79.8h0.55M119.3 73.6h0.55M106.1 78.4h0.55M114.1 74.7h0.55M115.0 84.1h0.55M101.0 82.6h0.55M111.9 86.1h0.55M102.2 83.8h0.55M118.8 79.6h0.55M113.8 83.8h0.55M110.1 80.7h0.55M98.9 84.9h0.55M111.0 83.6h0.55M103.6 78.1h0.55M115.9 82.3h0.55M109.0 82.5h0.55M103.3 81.0h0.55M117.7 86.1h0.55M105.1 80.8h0.55M119.6 80.8h0.55M107.5 72.9h0.55M107.4 81.8h0.55M111.0 80.5h0.55M103.8 73.2h0.55M106.3 83.5h0.55M108.7 84.8h0.55M122.7 79.2h0.55M122.4 80.7h0.55M107.9 78.2h0.55M123.4 85.5h0.55M109.6 75.9h0.55M113.2 81.0h0.55M112.4 82.5h0.55M130.0 84.3h0.55M112.0 81.7h0.55M100.1 77.4h0.55M120.8 82.2h0.55M106.6 84.0h0.55M107.5 78.0h0.55M118.3 87.5h0.55M116.8 86.8h0.55M116.6 75.7h0.55M118.1 78.2h0.55M124.0 75.5h0.55M109.6 86.8h0.55M117.8 84.9h0.55M103.8 85.3h0.55M107.1 78.6h0.55M118.8 77.4h0.55M113.2 82.6h0.55M98.9 82.7h0.55M113.0 78.7h0.55M108.5 82.9h0.55M103.2 85.0h0.55M113.6 83.3h0.55M106.6 77.9h0.55M97.0 73.4h0.55M100.8 81.2h0.55M124.7 83.0h0.55M97.4 81.2h0.55M111.8 80.5h0.55M115.1 79.4h0.55M115.3 85.3h0.55M99.8 82.1h0.55M107.3 82.8h0.55M111.2 78.2h0.55M116.6 79.7h0.55M104.6 83.0h0.55M100.3 78.1h0.55M118.3 77.0h0.55M119.2 80.9h0.55M113.1 87.3h0.55M104.9 83.1h0.55M113.4 88.4h0.55M110.9 81.7h0.55M117.0 81.0h0.55M99.6 76.5h0.55M111.0 79.9h0.55M108.7 88.3h0.55M100.8 83.7h0.55M111.8 85.4h0.55M110.3 85.3h0.55M106.6 82.3h0.55M113.3 81.4h0.55M98.2 82.8h0.55M109.6 85.1h0.55M113.6 84.2h0.55M112.4 84.4h0.55M118.9 82.9h0.55M100.0 79.1h0.55M97.5 81.2h0.55M112.0 78.3h0.55M113.8 86.5h0.55M127.6 73.5h0.55M115.1 81.4h0.55M116.7 80.9h0.55M103.0 77.5h0.55M97.7 82.2h0.55M131.7 87.7h0.55M112.7 81.6h0.55M115.9 84.9h0.55M114.7 82.7h0.55M125.0 80.7h0.55M120.1 82.6h0.55M101.5 80.0h0.55M98.4 80.2h0.55M121.8 83.9h0.55M122.2 84.0h0.55M114.2 85.5h0.55M111.9 82.9h0.55M111.4 76.3h0.55M104.3 84.5h0.55M122.8 81.0h0.55M115.5 81.1h0.55M114.2 76.1h0.55M113.1 79.9h0.55M118.7 79.2h0.55M114.2 82.1h0.55M116.2 76.2h0.55M100.3 82.5h0.55M114.2 82.8h0.55M128.2 77.6h0.55M105.7 79.7h0.55M108.9 78.7h0.55M117.4 86.1h0.55M117.9 71.7h0.55M115.2 80.9h0.55M96.6 75.3h0.55M114.2 80.5h0.55M100.2 85.9h0.55M103.2 79.7h0.55M114.5 82.9h0.55M107.5 78.8h0.55M136.1 86.1h0.55M116.5 87.0h0.55M116.0 76.7h0.55M102.6 77.7h0.55M104.7 86.8h0.55M101.2 81.5h0.55M105.6 81.2h0.55M100.9 83.7h0.55M104.5 77.0h0.55M108.3 85.5h0.55M101.7 82.4h0.55M98.2 84.3h0.55M98.7 79.5h0.55M113.8 84.5h0.55M110.5 79.3h0.55M118.5 86.3h0.55M118.7 87.0h0.55M107.2 86.1h0.55M115.6 84.5h0.55M98.0 85.0h0.55M128.9 70.9h0.55M119.9 85.8h0.55M108.2 81.1h0.55M100.3 82.7h0.55M113.2 81.1h0.55M94.5 76.5h0.55M103.5 80.0h0.55M116.2 85.1h0.55M110.6 88.3h0.55M105.9 79.7h0.55M117.9 78.5h0.55M101.4 88.4h0.55M112.4 78.6h0.55M103.0 82.5h0.55M113.8 78.6h0.55M101.8 86.4h0.55M105.1 76.3h0.55M126.5 88.8h0.55M100.9 81.1h0.55M115.0 88.5h0.55M100.0 80.7h0.55M98.9 75.7h0.55M111.3 84.4h0.55M115.6 86.2h0.55M103.4 85.2h0.55M111.1 81.3h0.55M113.2 80.1h0.55M114.9 81.1h0.55M95.1 78.8h0.55M123.4 81.1h0.55M114.7 71.6h0.55M106.5 83.1h0.55M101.5 82.2h0.55M98.7 85.5h0.55M114.5 80.3h0.55M107.2 84.7h0.55M100.6 77.2h0.55M105.6 79.8h0.55M123.0 74.5h0.55M107.3 88.3h0.55M105.1 84.8h0.55M121.2 77.4h0.55M113.8 82.0h0.55M110.4 86.3h0.55M105.0 84.4h0.55M97.1 83.9h0.55M100.3 78.7h0.55M106.0 79.6h0.55M108.2 82.7h0.55M113.0 86.2h0.55M114.6 78.8h0.55M111.9 77.6h0.55M111.8 87.1h0.55M101.6 78.4h0.55M92.1 86.8h0.55M105.7 83.3h0.55M102.1 86.0h0.55M107.7 85.2h0.55M99.7 85.6h0.55M100.8 78.4h0.55M109.2 79.4h0.55M111.0 85.0h0.55M104.6 88.7h0.55M114.1 88.1h0.55M101.5 83.6h0.55M110.3 83.2h0.55M125.6 86.5h0.55M104.4 82.4h0.55M119.7 82.0h0.55M121.4 77.9h0.55M122.4 86.5h0.55M103.2 77.8h0.55M126.7 84.5h0.55M111.0 76.3h0.55M107.9 86.9h0.55M108.1 78.0h0.55M115.0 85.8h0.55M110.4 75.6h0.55M108.5 80.5h0.55M120.7 87.2h0.55M104.0 78.9h0.55M101.3 82.6h0.55M116.6 80.3h0.55M115.8 72.6h0.55M119.1 83.6h0.55M101.1 84.1h0.55M119.0 77.6h0.55M114.0 84.7h0.55M124.6 79.0h0.55M99.6 78.1h0.55M111.8 82.3h0.55M107.7 79.4h0.55M104.1 75.8h0.55M119.4 85.4h0.55M106.1 86.5h0.55M104.0 74.0h0.55M117.2 75.0h0.55M118.2 84.7h0.55M118.2 80.3h0.55M103.4 83.9h0.55M109.5 87.1h0.55M118.6 80.7h0.55M104.6 77.8h0.55M103.8 70.8h0.55M116.9 83.2h0.55M123.0 78.4h0.55M100.4 83.6h0.55M98.0 76.5h0.55M108.9 86.8h0.55M115.1 85.9h0.55M108.8 77.3h0.55M104.2 80.6h0.55M111.3 80.0h0.55M102.0 80.6h0.55M109.6 77.6h0.55M104.7 84.1h0.55M132.2 83.3h0.55M116.8 83.8h0.55M103.1 80.2h0.55M101.7 87.7h0.55M106.4 83.1h0.55M96.3 70.8h0.55M103.9 79.6h0.55M103.9 82.1h0.55M117.3 86.4h0.55M106.5 81.0h0.55M103.4 81.2h0.55M98.9 79.5h0.55M100.2 85.1h0.55M109.4 80.4h0.55M108.2 79.8h0.55M119.4 79.2h0.55M104.8 84.6h0.55M118.8 80.1h0.55M112.1 75.3h0.55M110.0 84.9h0.55M93.3 79.4h0.55M99.3 83.8h0.55M116.2 83.9h0.55M121.6 87.4h0.55M111.7 86.7h0.55M116.3 79.9h0.55M106.6 81.6h0.55M106.9 76.9h0.55M104.5 89.3h0.55M118.1 84.2h0.55M112.8 88.2h0.55M108.1 81.0h0.55M107.3 73.7h0.55M114.6 88.7h0.55M112.7 82.7h0.55M103.1 82.9h0.55M124.2 82.5h0.55M112.1 85.0h0.55M110.1 84.5h0.55M122.3 75.6h0.55M118.5 86.9h0.55M109.3 80.1h0.55M114.4 80.3h0.55M104.7 86.2h0.55M120.1 74.5h0.55M94.2 83.0h0.55M115.7 84.6h0.55M103.1 82.0h0.55M101.9 77.1h0.55M108.4 79.0h0.55M112.2 77.0h0.55M115.1 83.2h0.55M124.7 85.7h0.55M113.0 86.6h0.55M117.3 79.2h0.55M105.0 83.3h0.55M115.9 84.6h0.55M111.3 80.2h0.55M106.2 81.7h0.55M109.5 83.2h0.55M111.6 86.0h0.55M113.3 80.5h0.55M105.8 82.5h0.55M103.9 75.1h0.55M116.2 82.2h0.55M95.9 87.3h0.55M122.9 87.3h0.55M104.2 82.5h0.55M115.7 79.8h0.55M96.3 81.6h0.55M131.6 84.9h0.55M121.9 86.2h0.55M122.9 78.2h0.55M117.6 74.8h0.55M108.2 78.0h0.55M113.0 75.3h0.55M102.6 76.5h0.55M116.7 87.1h0.55M100.7 81.5h0.55M107.7 83.2h0.55M118.3 87.2h0.55M100.8 87.6h0.55M107.0 80.2h0.55M111.4 87.9h0.55M98.9 83.9h0.55M119.7 82.3h0.55M112.8 84.2h0.55M97.4 76.3h0.55M109.6 79.0h0.55M103.6 81.8h0.55M104.5 84.9h0.55M110.6 80.7h0.55M104.1 81.8h0.55M118.0 86.4h0.55M104.2 88.2h0.55M118.1 85.5h0.55M109.6 87.6h0.55M117.1 80.6h0.55M105.5 81.0h0.55M105.8 83.6h0.55M100.4 81.0h0.55M114.8 80.2h0.55M117.8 89.2h0.55M127.6 81.5h0.55M120.7 78.2h0.55M112.1 84.3h0.55M113.2 82.6h0.55M109.8 87.5h0.55M122.1 80.5h0.55M117.8 80.2h0.55M103.1 79.4h0.55M104.3 81.7h0.55M112.6 77.4h0.55M108.1 89.2h0.55M119.8 78.1h0.55M106.8 81.3h0.55M107.7 85.8h0.55M106.2 84.9h0.55M93.7 83.5h0.55M117.2 75.4h0.55M100.0 83.8h0.55M105.3 78.0h0.55M116.0 81.4h0.55M109.4 83.1h0.55M110.1 77.5h0.55M96.1 80.3h0.55M109.3 76.9h0.55M97.7 86.4h0.55M112.5 81.2h0.55M113.0 84.7h0.55M109.9 79.4h0.55M127.0 80.2h0.55M114.4 87.7h0.55M114.9 78.2h0.55M111.2 74.7h0.55M108.4 84.0h0.55M118.0 77.5h0.55M119.1 80.5h0.55M99.2 86.1h0.55M118.8 78.9h0.55M114.3 86.0h0.55M118.0 79.4h0.55M113.9 88.6h0.55M99.7 87.9h0.55M100.3 80.3h0.55M125.1 81.4h0.55M112.1 78.8h0.55M98.2 83.1h0.55M112.9 87.1h0.55M107.0 76.2h0.55M94.7 86.2h0.55M96.7 78.7h0.55M112.3 74.8h0.55M107.9 82.5h0.55M112.4 83.3h0.55M115.0 79.5h0.55M92.5 86.8h0.55M107.5 73.5h0.55M103.1 82.4h0.55M105.5 80.7h0.55M109.0 82.4h0.55M107.8 85.1h0.55M97.9 78.9h0.55M106.0 82.4h0.55M126.7 86.3h0.55M101.2 83.1h0.55M96.0 83.9h0.55M112.3 80.8h0.55M115.0 83.6h0.55M113.9 82.5h0.55M100.7 88.4h0.55M118.3 85.3h0.55M103.5 81.3h0.55M100.6 72.0h0.55M104.9 85.3h0.55M109.1 85.5h0.55M115.9 78.4h0.55M115.2 73.9h0.55M109.8 77.5h0.55M117.7 86.2h0.55M110.7 77.8h0.55M117.4 80.4h0.55M98.3 83.2h0.55M96.9 87.4h0.55M116.4 82.2h0.55M98.5 81.9h0.55M107.5 80.0h0.55M109.2 89.1h0.55M106.0 86.8h0.55M106.2 81.9h0.55M121.6 76.4h0.55M117.3 84.7h0.55M129.0 79.3h0.55M110.2 86.0h0.55M109.8 83.8h0.55M116.0 83.5h0.55M125.2 85.0h0.55M100.1 84.4h0.55M110.7 78.7h0.55M108.5 80.9h0.55M111.3 77.2h0.55M115.5 80.3h0.55M106.5 86.8h0.55M110.4 81.6h0.55M104.4 78.9h0.55M104.5 76.7h0.55M108.8 84.6h0.55M108.8 86.6h0.55M100.3 88.2h0.55M123.0 82.5h0.55M108.9 86.7h0.55M98.5 78.0h0.55M119.1 83.0h0.55M103.8 79.5h0.55M114.2 83.0h0.55M109.9 85.5h0.55M112.1 86.8h0.55M111.4 78.1h0.55M105.2 87.6h0.55M110.3 80.3h0.55M126.9 78.0h0.55M110.5 76.2h0.55M113.6 82.3h0.55M101.3 83.5h0.55M98.6 81.5h0.55M127.9 84.6h0.55M106.9 81.0h0.55M127.3 82.3h0.55M114.4 76.2h0.55M110.6 82.5h0.55M114.0 78.7h0.55M115.3 80.4h0.55M119.8 81.9h0.55M113.6 83.1h0.55M111.2 75.4h0.55M111.5 75.7h0.55M121.2 81.0h0.55M116.8 84.3h0.55M101.7 83.8h0.55M104.7 86.0h0.55M112.7 87.8h0.55M104.8 84.4h0.55M106.9 82.2h0.55M102.1 78.0h0.55M107.8 78.3h0.55M113.5 80.3h0.55M118.3 83.4h0.55M110.1 83.2h0.55M127.2 82.3h0.55M109.4 81.7h0.55M136.5 84.9h0.55M118.3 83.2h0.55M114.1 83.6h0.55M105.9 83.6h0.55M108.7 78.0h0.55M111.5 84.4h0.55M126.0 84.1h0.55M98.5 81.4h0.55M125.8 80.6h0.55M116.0 79.1h0.55M111.2 83.4h0.55M107.1 77.5h0.55M115.7 82.8h0.55M100.5 86.2h0.55M117.9 85.0h0.55M115.8 84.8h0.55M115.0 82.8h0.55M118.4 86.3h0.55M119.1 81.6h0.55M109.8 80.5h0.55" stroke="#000" stroke-width="0.55" stroke-opacity="0.55" fill="none"/>
<ellipse cx="150.3" cy="47.4" rx="3.0" ry="1.0" fill="#000" fill-opacity="0.9" filter="url(#b2)"/>
<ellipse cx="151.5" cy="46.8" rx="1.6" ry="1.5" fill="#000" fill-opacity="0.6" filter="url(#b2)"/>
<path d="M150.6 47.0h0.55M153.2 49.8h0.55M151.4 49.5h0.55M152.5 48.2h0.55M143.8 47.6h0.55M154.1 45.8h0.55M157.8 48.1h0.55M154.6 47.3h0.55M149.3 47.6h0.55M147.6 46.5h0.55M151.2 47.2h0.55M147.1 47.0h0.55M152.6 47.7h0.55M148.6 49.4h0.55M153.4 47.8h0.55M154.7 44.7h0.55M143.8 45.8h0.55M151.2 44.9h0.55M148.1 46.0h0.55M145.8 48.1h0.55M148.3 47.8h0.55M149.6 46.3h0.55M153.6 47.6h0.55M145.4 46.1h0.55M153.7 45.1h0.55M156.8 45.1h0.55M152.2 45.9h0.55M152.0 49.4h0.55M150.3 45.2h0.55M146.5 49.1h0.55M152.0 49.2h0.55M151.5 47.0h0.55M152.6 47.2h0.55M158.5 46.3h0.55M152.6 47.2h0.55M151.7 48.2h0.55M155.3 47.2h0.55M146.0 48.7h0.55M146.6 49.0h0.55M149.1 47.7h0.55M148.2 47.7h0.55M152.5 47.1h0.55M149.3 47.7h0.55M155.9 45.6h0.55M155.2 47.8h0.55M152.8 47.5h0.55M149.1 45.9h0.55M152.3 50.4h0.55M152.9 45.8h0.55M146.9 45.9h0.55M151.4 47.6h0.55M152.6 44.3h0.55M151.0 46.0h0.55M155.3 44.9h0.55M154.2 45.8h0.55M147.7 47.0h0.55M150.7 47.7h0.55M147.6 48.9h0.55M152.2 48.4h0.55M147.5 49.0h0.55M153.3 48.1h0.55M151.5 46.5h0.55M153.4 48.9h0.55M149.8 46.5h0.55M145.6 46.3h0.55M156.0 49.5h0.55M149.7 48.4h0.55M154.7 47.5h0.55M151.7 48.3h0.55M152.5 48.5h0.55M156.2 45.2h0.55M151.4 47.1h0.55M154.8 45.5h0.55M145.6 47.4h0.55M153.1 46.2h0.55M149.5 49.3h0.55M149.9 48.0h0.55M150.3 46.0h0.55M151.4 47.2h0.55M155.6 45.4h0.55M144.4 47.3h0.55M150.4 48.0h0.55M148.0 47.6h0.55M154.0 44.3h0.55M148.9 46.7h0.55M151.8 48.0h0.55M149.0 47.7h0.55M152.4 49.0h0.55M153.5 45.3h0.55M149.0 48.0h0.55M150.5 46.2h0.55M145.8 47.5h0.55M151.3 47.8h0.55M153.0 48.2h0.55M148.5 46.3h0.55M153.9 47.5h0.55M143.7 45.5h0.55M144.4 45.1h0.55M145.9 48.0h0.55M148.7 47.1h0.55M150.4 44.8h0.55M150.0 45.9h0.55M150.1 47.2h0.55M152.6 49.5h0.55M148.8 48.8h0.55M146.3 48.4h0.55M146.3 44.5h0.55M157.1 47.1h0.55M142.8 47.9h0.55M149.7 47.8h0.55M155.0 47.8h0.55M151.8 46.9h0.55M147.6 49.8h0.55M150.3 49.4h0.55M153.1 47.1h0.55M154.2 45.7h0.55M147.4 50.3h0.55M152.7 46.4h0.55M151.1 49.0h0.55M153.8 50.1h0.55M154.7 45.8h0.55M149.2 47.6h0.55M145.7 46.7h0.55M151.6 48.0h0.55M156.0 47.7h0.55M152.5 50.1h0.55M151.0 48.1h0.55M158.0 47.2h0.55M147.0 48.9h0.55M153.2 46.8h0.55M148.5 46.7h0.55M150.5 50.6h0.55M150.6 46.0h0.55M155.1 46.5h0.55M147.3 47.3h0.55M148.6 45.6h0.55M145.2 44.0h0.55M151.9 48.8h0.55M148.8 46.0h0.55M151.7 46.4h0.55M146.9 46.7h0.55M149.1 45.7h0.55M153.6 45.6h0.55M149.7 47.5h0.55M152.3 50.8h0.55M152.0 48.3h0.55M149.2 48.3h0.55M145.3 45.0h0.55M153.5 47.2h0.55M150.8 45.4h0.55M153.4 48.4h0.55M143.9 46.9h0.55M145.0 47.3h0.55M143.4 47.1h0.55M147.5 46.3h0.55M153.6 44.9h0.55M152.1 48.1h0.55M150.2 45.1h0.55M150.7 45.4h0.55M152.7 46.8h0.55M149.3 46.2h0.55M151.6 47.6h0.55M150.7 48.7h0.55M143.3 47.6h0.55M149.1 47.5h0.55M154.6 47.2h0.55M149.0 48.5h0.55M149.8 44.4h0.55M148.4 47.8h0.55M148.7 45.8h0.55M153.9 45.4h0.55M149.4 47.2h0.55M147.0 46.6h0.55M140.3 48.1h0.55M148.5 48.9h0.55M144.0 43.7h0.55M144.5 47.1h0.55M152.8 50.1h0.55M152.6 48.5h0.55M144.2 49.4h0.55M153.0 47.4h0.55M151.8 45.1h0.55M147.8 45.5h0.55M152.7 48.3h0.55M145.1 48.6h0.55M146.4 46.1h0.55M145.7 46.8h0.55M146.7 47.6h0.55M153.1 44.6h0.55M146.0 46.7h0.55M146.6 49.6h0.55M147.3 50.5h0.55M150.9 47.0h0.55M149.2 50.0h0.55M153.1 46.4h0.55M148.0 46.0h0.55M146.2 43.9h0.55M148.7 48.6h0.55M150.4 46.7h0.55M147.3 50.7h0.55M151.2 47.7h0.55M156.1 47.5h0.55M148.4 44.5h0.55M150.4 49.5h0.55M154.6 46.7h0.55M148.2 47.0h0.55M147.6 43.9h0.55M146.8 48.6h0.55M151.5 48.7h0.55M151.9 46.3h0.55M149.8 47.4h0.55M150.4 47.8h0.55M154.3 48.7h0.55M153.0 47.4h0.55M145.8 49.8h0.55M150.2 46.9h0.55M150.6 46.3h0.55M152.5 46.5h0.55M149.5 43.4h0.55M148.2 46.0h0.55M148.8 48.7h0.55M144.5 47.6h0.55M150.1 46.0h0.55M148.3 47.7h0.55M151.7 44.2h0.55M146.9 46.8h0.55M148.8 48.0h0.55M147.1 48.3h0.55M146.8 46.1h0.55M152.4 48.6h0.55M148.7 50.0h0.55M151.6 46.6h0.55M146.6 48.3h0.55M150.5 44.9h0.55M144.8 44.3h0.55M148.7 48.1h0.55M148.6 47.3h0.55M152.0 47.5h0.55M150.7 46.3h0.55M149.6 46.8h0.55M152.8 48.4h0.55M150.8 49.8h0.55M151.9 46.9h0.55M152.6 44.7h0.55M150.0 49.1h0.55M149.2 48.1h0.55M151.2 48.2h0.55M148.8 47.5h0.55M151.4 50.7h0.55M153.7 47.3h0.55M152.9 48.0h0.55M148.9 44.4h0.55M146.0 46.4h0.55M150.0 46.2h0.55M149.8 47.2h0.55M153.7 47.7h0.55M148.9 46.1h0.55M149.5 49.8h0.55M152.5 45.6h0.55M148.6 46.5h0.55" stroke="#000" stroke-width="0.55" stroke-opacity="0.55" fill="none"/>
<path d="M133.7 47.6h0.55M134.5 48.7h0.55M145.6 45.9h0.55M139.2 49.0h0.55M136.4 47.1h0.55M149.8 49.2h0.55M147.7 48.0h0.55M136.0 48.9h0.55M139.3 48.2h0.55M141.8 48.8h0.55M134.2 47.6h0.55M139.1 46.6h0.55M136.4 48.3h0.55M146.4 48.3h0.55M132.8 49.9h0.55M149.8 45.4h0.55M135.5 47.3h0.55M137.3 48.7h0.55M132.4 46.2h0.55M148.3 47.3h0.55M146.7 49.9h0.55M132.3 49.1h0.55M141.0 46.6h0.55M138.4 49.1h0.55M142.5 48.9h0.55M137.4 48.4h0.55M149.2 48.0h0.55M135.1 47.8h0.55M146.6 46.6h0.55M136.1 47.0h0.55M143.3 48.4h0.55M139.1 47.7h0.55M141.0 49.6h0.55M140.9 47.2h0.55M142.9 44.9h0.55M132.3 47.2h0.55M132.1 47.9h0.55M149.4 48.0h0.55M135.8 47.6h0.55M137.8 46.7h0.55M135.6 49.2h0.55M143.3 46.8h0.55M149.7 48.4h0.55M138.7 47.3h0.55M137.1 46.3h0.55M137.6 49.1h0.55M131.5 44.8h0.55M132.7 46.6h0.55M131.9 48.0h0.55M137.2 47.2h0.55M149.7 48.4h0.55M133.7 47.5h0.55M141.4 47.1h0.55M134.9 50.0h0.55M131.7 47.3h0.55M146.9 47.4h0.55M133.4 46.4h0.55M133.6 46.8h0.55M146.5 48.3h0.55M135.6 48.2h0.55M134.8 47.6h0.55M148.9 46.8h0.55M134.7 48.3h0.55M146.8 45.7h0.55M136.8 47.2h0.55M141.7 47.3h0.55M136.9 46.6h0.55M137.4 47.7h0.55M148.7 46.8h0.55M148.2 46.7h0.55M134.3 49.6h0.55M144.8 48.4h0.55M133.7 48.9h0.55M136.7 47.6h0.55M132.3 48.6h0.55M143.3 48.4h0.55M144.8 48.9h0.55M145.2 50.2h0.55M145.7 47.3h0.55M138.5 47.9h0.55M134.4 47.5h0.55M131.1 43.7h0.55M139.4 46.1h0.55M148.7 47.6h0.55M139.5 48.3h0.55M142.7 47.0h0.55M148.4 48.8h0.55M147.4 49.0h0.55M145.1 47.1h0.55M142.3 49.2h0.55M135.4 49.5h0.55M145.2 48.1h0.55M138.9 46.5h0.55M144.4 49.2h0.55M135.2 47.4h0.55M148.9 47.2h0.55M134.1 47.7h0.55M146.0 47.0h0.55M147.9 48.8h0.55M133.9 48.5h0.55M147.4 48.9h0.55M143.2 48.2h0.55M142.5 46.7h0.55M135.8 47.4h0.55M137.2 48.6h0.55M135.5 47.2h0.55M139.4 50.8h0.55M143.3 47.3h0.55M144.8 47.0h0.55M144.4 48.9h0.55M137.6 48.4h0.55M137.4 47.6h0.55M145.5 47.3h0.55M149.5 48.1h0.55M135.2 48.5h0.55M138.8 48.4h0.55M136.2 47.3h0.55M149.5 48.1h0.55M131.3 48.5h0.55M148.0 48.4h0.55M145.6 44.2h0.55M137.3 46.6h0.55M143.9 46.7h0.55M138.0 47.3h0.55M143.1 47.8h0.55M139.1 48.6h0.55M148.4 48.3h0.55M139.7 47.5h0.55M146.4 47.6h0.55M141.9 49.5h0.55M138.1 46.9h0.55M149.4 47.9h0.55M134.7 49.3h0.55M148.3 48.0h0.55M149.6 45.4h0.55M147.1 48.0h0.55M142.6 47.2h0.55M142.8 47.5h0.55M148.6 48.8h0.55M139.2 48.1h0.55M146.7 47.3h0.55M145.7 48.6h0.55M147.3 48.1h0.55M139.4 47.7h0.55M143.4 47.9h0.55M132.8 47.9h0.55M132.4 47.2h0.55M133.0 47.1h0.55M145.0 47.6h0.55M137.7 46.6h0.55M148.3 46.2h0.55M132.5 49.0h0.55M134.3 47.3h0.55M146.9 47.6h0.55M139.0 47.5h0.55M135.2 47.6h0.55M145.8 47.6h0.55M135.5 47.7h0.55M149.5 46.7h0.55M136.2 48.6h0.55M147.3 46.8h0.55M140.1 48.7h0.55M148.8 45.5h0.55M136.6 46.4h0.55M148.6 48.7h0.55M136.8 47.4h0.55M139.5 46.9h0.55M143.0 48.0h0.55M141.5 46.4h0.55M143.7 47.7h0.55M144.2 45.2h0.55M136.1 47.1h0.55M131.2 46.9h0.55M144.7 48.2h0.55M142.4 48.6h0.55M141.7 46.7h0.55M140.4 49.4h0.55M148.6 46.9h0.55M136.6 45.3h0.55M148.3 45.0h0.55M134.2 49.3h0.55M144.2 47.5h0.55M148.9 46.9h0.55M133.9 46.8h0.55M145.6 46.4h0.55M136.2 49.1h0.55M132.1 47.5h0.55M139.2 49.6h0.55M144.3 47.4h0.55M136.4 45.0h0.55M149.1 48.5h0.55M131.0 47.2h0.55M136.1 47.3h0.55M137.5 49.3h0.55M138.0 47.3h0.55M136.7 48.9h0.55M131.4 47.6h0.55M135.0 46.8h0.55M136.0 48.2h0.55M143.8 46.9h0.55" stroke="#000" stroke-width="0.55" stroke-opacity="0.4" fill="none"/>
<path d="M155.1 39.7h0.55M154.4 44.3h0.55M152.2 44.6h0.55M153.5 37.8h0.55M153.4 39.1h0.55M151.3 39.1h0.55M154.2 38.0h0.55M151.4 40.4h0.55M153.5 39.7h0.55M149.6 38.2h0.55M152.3 42.8h0.55M153.0 44.2h0.55M150.0 38.6h0.55M151.0 40.9h0.55M150.7 42.6h0.55M153.8 41.8h0.55M150.2 40.4h0.55M153.1 45.0h0.55M155.8 45.1h0.55M152.9 44.6h0.55M148.0 41.9h0.55M152.3 48.5h0.55M154.6 47.8h0.55M151.3 41.3h0.55M154.8 42.2h0.55M153.6 46.1h0.55M153.1 40.1h0.55M151.4 43.7h0.55M150.7 42.7h0.55M151.4 40.4h0.55M152.2 41.8h0.55M153.3 37.8h0.55M153.1 40.9h0.55M151.3 36.5h0.55M152.2 49.4h0.55M153.0 47.0h0.55M148.0 46.2h0.55M150.1 43.4h0.55M150.0 45.5h0.55M151.5 46.3h0.55M151.3 45.6h0.55M151.4 45.3h0.55M149.9 39.8h0.55M153.7 43.8h0.55M152.7 40.9h0.55M147.9 39.0h0.55M152.1 39.1h0.55M149.2 43.8h0.55M156.3 45.7h0.55M150.9 38.4h0.55M151.1 47.8h0.55M152.2 46.9h0.55M151.5 41.4h0.55M151.9 41.1h0.55M155.9 42.3h0.55M152.6 45.5h0.55M154.1 41.4h0.55M154.9 39.2h0.55M149.6 43.5h0.55M156.3 36.3h0.55M153.8 42.9h0.55M154.4 46.0h0.55M149.9 43.4h0.55M154.1 44.8h0.55M153.1 44.0h0.55M150.7 44.7h0.55M157.8 42.9h0.55M153.5 40.0h0.55M151.4 41.8h0.55M152.5 42.3h0.55M154.3 46.3h0.55M154.9 47.4h0.55M153.5 43.8h0.55M155.1 40.2h0.55M155.7 40.3h0.55M149.0 41.9h0.55M150.8 46.7h0.55M149.7 43.5h0.55M152.3 42.3h0.55M155.7 40.2h0.55M153.7 45.1h0.55M149.4 43.4h0.55M151.3 42.3h0.55M154.6 42.8h0.55M150.7 47.6h0.55M151.8 42.0h0.55M152.8 47.6h0.55M147.5 46.2h0.55M154.0 42.7h0.55M152.9 45.2h0.55M153.5 42.1h0.55M149.6 40.0h0.55M150.1 41.7h0.55M150.6 39.8h0.55M152.7 44.0h0.55M152.2 42.5h0.55M152.4 44.2h0.55M156.5 45.0h0.55M155.3 33.1h0.55M150.3 43.4h0.55M150.4 37.1h0.55M156.3 43.0h0.55M151.3 39.9h0.55M155.5 42.8h0.55M156.0 46.6h0.55M150.7 37.4h0.55M151.4 43.1h0.55M152.3 42.3h0.55M149.9 36.8h0.55M149.6 44.4h0.55M151.0 42.6h0.55M154.2 41.0h0.55M150.9 40.3h0.55M151.5 52.1h0.55M150.9 41.3h0.55M148.6 37.1h0.55M155.8 39.7h0.55M146.2 41.4h0.55M150.4 41.3h0.55M153.4 42.3h0.55M148.6 39.4h0.55M153.6 44.1h0.55M155.2 41.0h0.55M149.9 38.4h0.55M152.6 40.1h0.55M149.3 41.3h0.55M153.3 45.0h0.55M152.3 44.0h0.55M152.6 41.5h0.55M155.5 42.6h0.55M153.2 43.1h0.55M155.4 48.6h0.55M153.6 40.6h0.55M149.0 43.9h0.55M152.7 44.7h0.55M153.3 39.6h0.55M148.4 43.1h0.55M155.4 43.0h0.55M152.2 41.1h0.55M153.0 44.2h0.55M149.8 45.6h0.55M152.2 45.9h0.55M152.8 41.9h0.55M151.2 43.1h0.55M152.2 49.6h0.55M146.7 39.2h0.55M155.5 43.2h0.55M149.3 45.2h0.55M146.6 43.0h0.55M149.6 44.5h0.55M150.0 43.0h0.55M153.4 44.8h0.55M149.8 46.3h0.55M152.8 41.8h0.55M149.6 43.1h0.55M157.6 42.3h0.55M153.4 41.3h0.55M156.9 42.4h0.55M149.5 39.1h0.55M153.7 44.7h0.55" stroke="#000" stroke-width="0.55" stroke-opacity="0.4" fill="none"/>
<path d="M155.6 47.8h0.55M155.6 61.9h0.55M154.3 42.5h0.55M147.6 63.7h0.55M155.1 42.8h0.55M148.4 51.0h0.55M150.3 45.8h0.55M156.0 39.7h0.55M147.3 67.7h0.55M153.0 47.6h0.55M151.3 62.8h0.55M150.0 68.0h0.55M147.9 45.5h0.55M151.8 35.2h0.55M149.1 54.4h0.55M153.6 43.7h0.55M154.2 67.3h0.55M146.4 41.1h0.55M149.0 61.7h0.55M149.5 36.0h0.55M147.0 45.0h0.55M147.1 42.3h0.55M150.8 66.5h0.55M149.9 57.2h0.55M145.5 59.4h0.55M148.9 38.0h0.55M152.1 46.4h0.55M146.9 68.0h0.55M147.7 57.7h0.55M155.3 63.0h0.55M154.5 53.6h0.55M145.6 42.6h0.55M146.4 68.8h0.55M151.6 44.8h0.55M146.9 41.3h0.55M149.7 59.0h0.55M149.1 38.2h0.55M152.2 63.3h0.55M142.9 61.3h0.55M143.9 49.2h0.55M146.8 54.1h0.55M153.5 53.0h0.55M150.0 37.8h0.55M145.4 37.9h0.55M152.0 48.0h0.55M152.6 35.2h0.55M149.8 41.9h0.55M149.5 48.5h0.55M151.8 58.2h0.55M154.1 54.1h0.55M151.0 41.4h0.55M152.1 63.1h0.55M150.4 64.4h0.55M149.4 59.5h0.55M147.8 60.5h0.55M151.3 44.4h0.55M149.6 66.0h0.55M149.8 56.6h0.55M153.3 41.6h0.55M152.0 60.3h0.55M153.1 58.2h0.55M145.8 56.0h0.55M152.2 52.4h0.55M148.7 63.4h0.55M148.1 62.0h0.55M147.9 56.8h0.55M154.1 37.5h0.55M153.0 43.6h0.55M148.3 71.2h0.55M147.1 49.9h0.55M150.5 58.4h0.55M149.1 39.9h0.55M155.5 56.1h0.55M146.1 57.5h0.55M145.0 63.2h0.55M149.7 70.9h0.55M150.5 51.9h0.55M150.9 46.6h0.55M152.8 40.9h0.55M156.7 47.4h0.55M149.5 51.4h0.55M148.9 70.7h0.55M145.2 53.9h0.55M151.2 60.0h0.55M153.1 62.1h0.55M149.7 35.5h0.55M154.0 43.6h0.55M150.6 55.0h0.55M155.0 37.1h0.55M151.5 40.6h0.55M147.3 62.8h0.55M148.6 59.9h0.55M145.9 40.1h0.55M145.3 39.4h0.55M151.3 66.2h0.55M153.1 52.5h0.55M156.4 46.7h0.55M150.3 61.6h0.55M149.8 59.8h0.55M147.2 71.8h0.55M153.5 38.8h0.55M151.7 63.4h0.55M148.7 52.0h0.55M152.6 44.2h0.55M152.2 53.4h0.55M144.9 35.8h0.55M152.7 39.6h0.55M150.9 39.0h0.55M149.3 60.6h0.55M149.2 61.2h0.55M155.7 44.0h0.55M155.1 46.4h0.55M156.0 63.6h0.55M147.1 49.3h0.55M148.5 47.9h0.55M153.2 70.0h0.55M146.9 55.1h0.55M148.3 54.9h0.55M145.1 57.6h0.55M156.1 36.5h0.55M153.7 49.8h0.55M151.9 64.2h0.55M151.2 59.1h0.55M149.2 67.9h0.55M149.3 46.5h0.55M152.3 52.6h0.55M148.4 43.7h0.55M154.2 41.9h0.55M149.0 38.4h0.55M147.9 42.4h0.55M154.4 41.1h0.55M150.1 51.2h0.55M152.2 50.2h0.55M149.3 63.3h0.55M143.7 63.8h0.55M152.1 55.0h0.55M146.5 59.3h0.55M153.7 52.3h0.55M145.8 46.5h0.55M144.9 53.6h0.55M151.4 58.3h0.55M151.8 70.3h0.55M150.8 65.2h0.55M146.9 37.5h0.55M153.2 58.7h0.55M146.1 38.4h0.55M149.1 58.0h0.55M148.1 66.4h0.55M149.4 60.9h0.55M153.1 39.4h0.55M148.6 50.7h0.55M152.2 42.2h0.55M152.6 59.4h0.55M145.4 61.3h0.55M147.0 62.3h0.55M149.3 48.2h0.55M148.7 57.1h0.55M151.4 42.7h0.55M144.7 69.4h0.55M152.7 69.7h0.55M152.7 36.1h0.55M150.0 55.9h0.55M146.4 61.6h0.55M150.5 43.5h0.55M148.9 36.2h0.55M152.2 35.1h0.55M150.2 61.2h0.55M152.7 35.5h0.55M149.2 49.3h0.55M154.8 64.5h0.55M143.6 36.9h0.55M147.5 61.1h0.55M152.0 51.0h0.55M146.0 49.4h0.55M152.7 52.9h0.55M146.8 48.0h0.55M150.8 66.9h0.55M147.8 59.8h0.55M149.2 49.3h0.55M151.0 39.5h0.55M150.2 53.7h0.55M149.4 72.0h0.55M157.0 68.0h0.55M150.5 37.5h0.55M147.6 48.2h0.55M153.3 52.4h0.55M153.0 50.0h0.55M154.2 39.1h0.55M155.9 41.9h0.55M147.7 54.8h0.55M153.7 61.7h0.55M153.9 61.5h0.55M150.5 59.9h0.55M151.2 59.9h0.55M141.5 35.3h0.55M148.8 43.1h0.55M155.9 47.5h0.55M145.1 44.5h0.55M148.9 49.4h0.55M151.4 49.8h0.55M152.2 47.6h0.55M155.4 35.4h0.55M145.2 67.0h0.55M150.6 70.4h0.55M153.1 57.8h0.55M146.6 45.1h0.55M150.4 51.7h0.55M156.2 68.8h0.55M154.4 57.2h0.55M152.1 60.8h0.55M142.7 60.9h0.55M150.1 71.3h0.55M151.7 59.2h0.55M149.6 39.0h0.55M150.3 53.7h0.55M159.8 69.1h0.55M149.9 39.8h0.55M147.6 36.9h0.55M151.2 36.9h0.55M149.6 37.6h0.55M149.6 41.1h0.55M150.2 63.5h0.55M152.8 57.2h0.55M151.2 62.1h0.55M146.9 55.6h0.55M150.1 48.1h0.55M151.9 64.1h0.55M149.1 41.3h0.55M153.9 48.3h0.55M152.8 50.4h0.55M147.5 60.2h0.55M151.5 63.2h0.55M156.5 56.0h0.55M155.2 57.5h0.55M150.3 45.4h0.55M153.2 56.9h0.55M148.5 66.2h0.55M146.2 51.3h0.55M152.2 62.8h0.55M151.2 53.8h0.55M152.0 54.0h0.55M150.4 57.5h0.55M151.5 40.2h0.55M149.0 43.0h0.55M151.9 41.5h0.55M153.0 54.8h0.55M150.3 59.8h0.55M152.9 61.2h0.55M145.2 42.7h0.55M148.1 47.3h0.55M154.8 40.4h0.55M155.8 59.2h0.55M151.3 50.6h0.55M150.2 45.1h0.55M146.7 43.3h0.55M151.6 70.1h0.55M152.8 52.8h0.55M146.1 71.7h0.55M152.2 46.9h0.55M152.0 43.0h0.55M151.8 61.5h0.55M147.1 68.7h0.55M152.1 41.1h0.55M146.0 66.9h0.55M155.0 56.7h0.55M150.9 68.5h0.55M147.0 70.0h0.55M154.5 50.8h0.55M154.0 69.8h0.55M148.5 41.7h0.55M157.1 51.4h0.55M147.5 51.4h0.55M151.4 44.1h0.55M154.0 52.9h0.55M143.7 62.8h0.55M153.5 39.0h0.55M150.3 52.8h0.55M150.5 54.4h0.55M147.3 42.3h0.55M151.5 58.8h0.55M147.2 44.4h0.55M147.6 56.1h0.55M149.2 56.2h0.55M146.8 62.7h0.55M155.2 69.6h0.55M146.5 69.3h0.55M148.2 53.6h0.55M149.6 44.7h0.55M150.5 44.0h0.55M152.9 64.1h0.55M153.0 63.1h0.55M149.6 64.4h0.55M149.3 65.8h0.55M150.6 55.9h0.55M153.0 68.2h0.55M152.6 59.3h0.55M149.0 58.4h0.55M144.3 66.0h0.55M156.9 59.1h0.55M153.4 63.4h0.55M151.3 69.4h0.55M151.5 49.6h0.55M148.9 62.8h0.55M147.5 46.0h0.55M149.5 53.0h0.55M149.8 67.3h0.55M148.6 71.0h0.55M146.1 70.1h0.55M149.6 63.0h0.55M152.2 66.4h0.55M149.0 67.7h0.55M150.6 57.6h0.55M144.3 44.0h0.55M149.9 35.7h0.55M150.1 63.2h0.55M146.8 63.1h0.55M145.3 62.0h0.55M151.7 56.5h0.55M148.1 59.3h0.55M152.0 61.6h0.55M149.2 54.7h0.55M152.4 59.4h0.55M149.5 43.3h0.55M146.0 54.8h0.55M150.2 58.3h0.55M149.5 56.0h0.55M152.5 44.5h0.55M149.1 39.7h0.55M149.3 59.2h0.55M153.1 39.2h0.55" stroke="#000" stroke-width="0.55" stroke-opacity="0.36" fill="none"/>
<path d="M152.1 52.1h0.55M148.4 57.5h0.55M143.4 46.4h0.55M137.4 34.3h0.55M146.9 56.9h0.55M155.2 44.1h0.55M140.9 49.7h0.55M138.0 47.7h0.55M148.3 62.3h0.55M134.2 47.6h0.55M129.8 59.5h0.55M142.3 53.4h0.55M140.6 47.4h0.55M143.5 44.7h0.55M141.5 60.9h0.55M147.7 60.3h0.55M143.9 63.4h0.55M141.2 71.9h0.55M142.2 59.4h0.55M149.8 59.4h0.55M152.1 56.2h0.55M151.7 58.0h0.55M150.3 54.4h0.55M122.3 50.0h0.55M138.4 73.1h0.55M143.2 42.3h0.55M146.8 59.2h0.55M134.1 60.7h0.55M155.4 58.3h0.55M147.5 49.4h0.55M141.1 55.6h0.55M146.6 53.4h0.55M143.0 48.5h0.55M140.1 56.7h0.55M149.0 53.8h0.55M142.2 52.7h0.55M135.5 62.5h0.55M141.0 48.6h0.55M144.6 60.6h0.55M137.9 52.2h0.55M154.3 60.4h0.55M137.8 57.6h0.55M157.7 58.9h0.55M151.7 49.2h0.55M138.8 50.8h0.55M146.3 50.1h0.55M153.7 58.4h0.55M144.1 63.0h0.55M137.1 65.6h0.55M146.2 53.0h0.55M159.4 57.6h0.55M135.0 44.0h0.55M149.3 39.2h0.55M145.5 50.0h0.55M144.6 51.6h0.55M142.7 44.5h0.55M143.2 42.7h0.55M152.7 61.2h0.55M149.6 50.5h0.55M138.5 43.5h0.55M156.4 75.4h0.55M136.4 58.3h0.55M150.1 54.4h0.55M146.8 62.3h0.55M153.9 50.8h0.55M148.0 69.5h0.55M152.9 44.6h0.55M145.3 46.4h0.55M152.3 55.7h0.55M147.9 50.7h0.55M160.5 68.1h0.55M140.6 44.0h0.55M153.9 51.0h0.55M148.8 58.7h0.55M146.7 61.3h0.55M141.5 64.8h0.55M148.6 59.5h0.55M135.2 74.4h0.55M135.9 53.0h0.55M150.5 58.2h0.55M134.6 63.6h0.55M155.6 54.2h0.55M143.6 54.4h0.55M147.3 53.0h0.55M146.0 51.6h0.55M148.5 47.7h0.55M143.6 52.3h0.55M142.9 44.4h0.55M144.6 59.7h0.55M152.9 44.0h0.55M153.5 73.2h0.55M154.4 70.2h0.55M148.1 65.5h0.55M144.1 55.0h0.55M133.8 52.0h0.55M150.0 66.4h0.55M151.4 58.1h0.55M142.7 61.1h0.55M151.2 50.9h0.55M154.6 65.1h0.55M146.2 50.3h0.55M152.9 57.5h0.55M147.7 42.8h0.55M133.4 51.4h0.55M142.2 60.6h0.55M142.7 53.0h0.55M149.2 53.1h0.55M139.5 62.9h0.55M142.5 56.0h0.55M138.8 66.5h0.55M145.3 37.3h0.55M146.0 61.1h0.55M152.4 60.6h0.55M151.1 44.3h0.55M146.7 46.3h0.55M147.2 63.6h0.55M146.3 48.1h0.55M146.3 51.5h0.55M156.4 61.4h0.55M128.1 53.9h0.55M144.3 60.4h0.55M147.7 49.7h0.55M153.4 58.9h0.55M137.9 65.2h0.55M148.0 59.2h0.55M151.6 39.1h0.55M142.4 61.8h0.55M132.2 57.0h0.55M143.0 49.4h0.55M137.1 67.7h0.55M150.1 42.7h0.55M139.6 71.5h0.55M158.0 51.5h0.55M146.5 69.1h0.55M139.9 56.2h0.55M142.0 46.0h0.55M137.9 57.3h0.55M148.3 59.2h0.55M156.0 60.9h0.55M144.0 65.0h0.55M152.0 49.4h0.55M138.9 60.5h0.55M147.7 62.4h0.55M161.7 54.4h0.55M135.7 49.1h0.55M154.2 48.9h0.55M153.8 62.5h0.55M132.4 62.9h0.55M135.5 50.0h0.55M138.7 45.9h0.55M152.3 66.4h0.55M142.5 44.2h0.55M144.4 57.8h0.55M150.5 50.1h0.55M146.4 42.6h0.55M147.1 57.5h0.55M143.3 55.0h0.55M153.4 68.0h0.55M140.1 74.6h0.55M157.3 55.1h0.55M143.2 64.7h0.55M139.9 64.9h0.55M150.1 52.4h0.55M148.7 49.7h0.55M131.7 69.4h0.55M147.1 53.6h0.55M136.1 56.3h0.55M139.7 54.2h0.55M151.0 55.5h0.55M139.5 51.7h0.55M148.0 62.5h0.55M142.9 66.6h0.55M159.0 53.6h0.55M144.8 45.6h0.55M137.3 57.0h0.55M137.8 44.7h0.55M139.2 51.5h0.55M146.4 66.3h0.55M145.5 75.0h0.55M152.3 59.5h0.55M146.7 48.1h0.55M146.4 62.8h0.55M147.7 38.7h0.55M144.6 51.0h0.55M147.5 68.7h0.55M151.0 62.5h0.55M151.0 45.6h0.55M141.6 43.3h0.55M133.1 63.4h0.55M139.8 56.2h0.55M147.4 51.8h0.55M128.0 59.8h0.55M142.1 52.0h0.55M148.6 41.3h0.55M141.5 63.0h0.55M137.6 51.4h0.55M157.7 48.6h0.55M155.1 45.9h0.55M143.6 58.5h0.55M154.7 50.1h0.55M154.5 61.5h0.55M137.5 54.4h0.55M164.2 65.2h0.55M138.9 53.5h0.55M143.6 51.3h0.55M137.7 40.9h0.55M146.0 47.8h0.55M136.2 62.3h0.55M145.4 80.9h0.55M153.0 46.6h0.55M146.9 48.3h0.55M143.5 59.2h0.55M156.2 60.4h0.55M139.1 51.2h0.55M152.2 57.2h0.55M143.3 43.8h0.55M146.9 54.2h0.55M145.6 63.7h0.55M146.3 69.6h0.55M145.0 55.2h0.55M139.9 54.5h0.55M141.4 60.2h0.55M148.4 65.4h0.55M144.6 60.4h0.55M137.2 50.6h0.55M140.4 59.4h0.55M140.5 64.3h0.55M144.9 50.9h0.55M146.6 45.9h0.55M146.0 60.6h0.55" stroke="#000" stroke-width="0.55" stroke-opacity="0.28" fill="none"/>
<ellipse cx="149.5" cy="86.0" rx="2.4" ry="2.8" fill="#000" fill-opacity="0.55" filter="url(#b2)"/>
<path d="M150.6 83.4h0.55M152.8 83.1h0.55M149.6 86.5h0.55M147.0 86.6h0.55M147.7 76.9h0.55M145.6 76.7h0.55M145.9 88.4h0.55M147.3 83.9h0.55M147.6 85.4h0.55M153.3 85.0h0.55M149.1 77.4h0.55M147.2 88.7h0.55M154.6 79.3h0.55M150.3 86.9h0.55M152.2 76.5h0.55M149.6 85.3h0.55M147.6 82.0h0.55M154.8 81.9h0.55M151.9 83.5h0.55M155.5 78.1h0.55M153.5 78.6h0.55M152.1 86.6h0.55M149.8 87.5h0.55M145.4 80.5h0.55M151.9 76.1h0.55M151.8 88.8h0.55M149.3 85.1h0.55M146.9 78.2h0.55M145.7 80.5h0.55M151.8 84.5h0.55M154.0 78.6h0.55M151.0 84.0h0.55M154.3 85.3h0.55M146.4 78.2h0.55M148.1 78.8h0.55M145.3 79.4h0.55M153.6 84.7h0.55M150.3 82.0h0.55M147.7 81.9h0.55M143.4 84.9h0.55M148.7 84.4h0.55M148.3 82.4h0.55M147.8 78.3h0.55M151.6 83.3h0.55M149.5 80.6h0.55M151.5 83.6h0.55M146.6 81.6h0.55M146.4 85.3h0.55M150.2 84.6h0.55M149.0 79.3h0.55M148.5 82.2h0.55M150.1 88.0h0.55M150.2 88.7h0.55M146.1 87.9h0.55M147.0 87.6h0.55M151.0 81.7h0.55M153.4 81.5h0.55M154.2 87.9h0.55M146.3 77.6h0.55M153.3 83.0h0.55M152.1 74.2h0.55M149.3 81.5h0.55M151.1 79.9h0.55M152.3 77.4h0.55M155.8 86.2h0.55M145.6 79.7h0.55M151.5 81.5h0.55M148.9 82.1h0.55M148.6 79.7h0.55M152.3 80.9h0.55M145.8 84.3h0.55M148.4 76.9h0.55M150.2 81.0h0.55M144.3 81.7h0.55M152.5 81.8h0.55M149.1 80.5h0.55M150.0 84.0h0.55M155.8 82.7h0.55M149.5 82.7h0.55M148.1 81.4h0.55M147.5 86.1h0.55M144.4 86.8h0.55M153.2 79.9h0.55M150.4 82.6h0.55M151.1 84.4h0.55M150.0 83.9h0.55M148.9 79.1h0.55M146.6 79.5h0.55M146.6 85.9h0.55M150.9 84.9h0.55M149.8 73.0h0.55M155.2 83.8h0.55M147.7 80.2h0.55M145.8 84.5h0.55M154.3 76.2h0.55M145.0 87.4h0.55M152.1 77.9h0.55M154.5 77.2h0.55M148.9 81.8h0.55M141.8 80.3h0.55M148.0 77.2h0.55M143.5 85.6h0.55M150.0 84.5h0.55M146.7 77.1h0.55M152.8 75.5h0.55M150.7 81.8h0.55M147.5 85.2h0.55M147.6 85.1h0.55M144.2 88.7h0.55M148.7 76.0h0.55M156.9 79.3h0.55M146.9 82.7h0.55M150.9 87.5h0.55M147.5 85.7h0.55M152.3 81.3h0.55M151.0 78.3h0.55M148.6 87.7h0.55M143.1 88.0h0.55M153.7 82.5h0.55M151.6 77.4h0.55M147.7 80.7h0.55M142.8 80.0h0.55M150.9 81.1h0.55M150.5 79.1h0.55M147.4 80.7h0.55M148.1 83.1h0.55M150.4 81.1h0.55M147.3 86.6h0.55M150.6 82.9h0.55M148.7 83.3h0.55M148.9 84.9h0.55M147.3 84.1h0.55M146.4 83.3h0.55M150.8 83.7h0.55M147.7 86.2h0.55M151.3 79.4h0.55M153.3 89.0h0.55M143.9 89.0h0.55M146.8 80.9h0.55M152.7 75.6h0.55M148.5 81.2h0.55M146.5 84.1h0.55M149.1 87.4h0.55M151.2 82.5h0.55M150.3 81.9h0.55M146.5 80.1h0.55M148.4 88.6h0.55M148.5 87.8h0.55M149.3 76.8h0.55M142.0 84.7h0.55M148.6 80.6h0.55M144.7 78.7h0.55M154.4 74.3h0.55M155.0 75.7h0.55M155.4 85.4h0.55M152.3 81.5h0.55M147.7 84.7h0.55M152.8 78.1h0.55M148.7 81.8h0.55M151.6 82.0h0.55M146.2 75.8h0.55M147.3 75.2h0.55M151.1 85.5h0.55M155.7 84.1h0.55M149.3 78.8h0.55M157.5 82.9h0.55M159.2 86.6h0.55M149.3 79.0h0.55M146.0 86.4h0.55M147.5 83.7h0.55M152.9 70.7h0.55M150.4 83.3h0.55M149.5 74.2h0.55M149.9 87.2h0.55M149.9 88.5h0.55M151.5 89.3h0.55M149.5 89.2h0.55M151.2 83.2h0.55M144.8 79.7h0.55M152.3 81.1h0.55M155.7 83.2h0.55M150.1 85.3h0.55M144.4 81.0h0.55M154.3 83.6h0.55M148.3 87.7h0.55M138.8 84.9h0.55M150.8 77.7h0.55M153.9 80.6h0.55M151.7 76.9h0.55M149.9 77.6h0.55M142.4 86.0h0.55M145.5 78.5h0.55M150.1 78.2h0.55M151.9 82.0h0.55M145.8 87.3h0.55M147.3 81.6h0.55M151.1 81.6h0.55M142.7 87.9h0.55M142.5 85.7h0.55M148.6 85.6h0.55M150.4 88.0h0.55M147.7 78.4h0.55M141.3 84.4h0.55M149.5 80.2h0.55M144.7 88.4h0.55M151.8 87.4h0.55M149.1 78.2h0.55M151.7 77.6h0.55M147.6 89.1h0.55M152.4 84.4h0.55M153.9 79.1h0.55M150.9 77.9h0.55M154.2 81.9h0.55M147.2 83.2h0.55M152.7 79.9h0.55M150.4 86.1h0.55M145.9 76.5h0.55M149.2 83.3h0.55M147.6 83.4h0.55M147.5 74.1h0.55M149.8 84.9h0.55M153.2 77.1h0.55M148.3 71.1h0.55M149.9 80.3h0.55M144.2 82.2h0.55M149.8 87.8h0.55M153.6 81.0h0.55M147.6 88.7h0.55M149.1 85.1h0.55M144.7 80.6h0.55M145.1 86.5h0.55M152.8 88.1h0.55M146.2 84.5h0.55M155.9 82.1h0.55M144.4 75.6h0.55M151.0 86.7h0.55M145.3 85.1h0.55M150.1 76.9h0.55M145.8 83.8h0.55M149.6 86.9h0.55M148.9 82.8h0.55M147.8 87.2h0.55M151.3 87.1h0.55M154.8 76.1h0.55M147.4 81.9h0.55M152.6 85.7h0.55M149.8 87.9h0.55M157.3 73.9h0.55M141.7 83.0h0.55M147.0 86.9h0.55M143.0 89.4h0.55M148.6 78.7h0.55M163.0 81.5h0.55M150.7 78.1h0.55M155.9 87.4h0.55M154.1 76.8h0.55M147.9 89.2h0.55M151.2 88.0h0.55M155.4 85.8h0.55M150.1 72.6h0.55M150.2 80.0h0.55M151.3 87.0h0.55M144.1 76.4h0.55M146.6 82.2h0.55M150.7 82.8h0.55M151.4 87.7h0.55M146.2 84.7h0.55M148.3 84.7h0.55M149.0 81.2h0.55M148.9 83.4h0.55M151.9 82.7h0.55M149.8 86.9h0.55M150.0 82.5h0.55M144.4 88.5h0.55M145.7 75.0h0.55M150.6 89.3h0.55M143.8 82.5h0.55M150.4 88.9h0.55M147.1 83.8h0.55M146.6 87.6h0.55M147.0 80.6h0.55M146.4 83.7h0.55M147.0 82.5h0.55M149.6 84.4h0.55M159.3 75.3h0.55M141.9 82.5h0.55M149.4 82.1h0.55M148.6 79.5h0.55M152.8 82.4h0.55M148.1 75.7h0.55M154.2 85.5h0.55M149.2 79.0h0.55M144.5 77.6h0.55M145.5 84.7h0.55M147.6 75.1h0.55M152.5 84.5h0.55M152.4 79.9h0.55M147.3 81.7h0.55M151.2 84.6h0.55M148.1 83.6h0.55M150.0 86.5h0.55M151.6 76.9h0.55M147.2 88.2h0.55M148.9 76.7h0.55M150.2 83.8h0.55M149.7 77.2h0.55M146.6 79.2h0.55M147.8 80.6h0.55M152.1 80.1h0.55M150.1 80.5h0.55M153.8 81.8h0.55M156.7 77.5h0.55M148.6 77.2h0.55M145.0 86.2h0.55M149.9 75.4h0.55M157.5 81.5h0.55M151.2 88.9h0.55M145.0 83.3h0.55M147.7 80.9h0.55M154.2 79.8h0.55M144.4 78.8h0.55M148.7 80.4h0.55M148.3 84.0h0.55M148.3 88.1h0.55M154.1 80.5h0.55M147.0 79.7h0.55M146.5 86.7h0.55M153.0 74.3h0.55M151.6 81.1h0.55M143.2 81.7h0.55M151.7 77.8h0.55M151.7 78.4h0.55M147.2 85.0h0.55M150.2 75.1h0.55M150.4 78.7h0.55M147.7 80.0h0.55M147.3 83.6h0.55M147.0 76.5h0.55M148.4 88.6h0.55M144.6 81.7h0.55M149.2 81.9h0.55M144.0 81.4h0.55M149.7 79.9h0.55M149.1 78.4h0.55M145.7 88.9h0.55M152.4 84.2h0.55M156.3 82.7h0.55M154.1 88.1h0.55M144.5 79.7h0.55M153.9 86.3h0.55M150.2 83.3h0.55M149.2 78.8h0.55M147.3 86.9h0.55M149.4 75.8h0.55M154.3 86.4h0.55M151.3 78.8h0.55M147.9 85.2h0.55M147.9 86.0h0.55M151.5 80.2h0.55M156.0 83.0h0.55M145.6 81.3h0.55M149.4 77.4h0.55M148.0 77.7h0.55M146.7 83.3h0.55M150.8 85.8h0.55M151.3 74.4h0.55M144.3 82.8h0.55M145.7 85.6h0.55M153.6 83.7h0.55M150.5 78.2h0.55M151.2 88.2h0.55M147.6 77.1h0.55M148.0 86.3h0.55M147.6 73.0h0.55M145.4 84.3h0.55M149.4 84.6h0.55M152.6 84.2h0.55M145.7 79.3h0.55M153.1 81.5h0.55M151.9 76.2h0.55M146.3 83.7h0.55" stroke="#000" stroke-width="0.55" stroke-opacity="0.5" fill="none"/>
<path d="M136.5 78.1h0.55M125.8 78.0h0.55M137.6 51.4h0.55M124.4 58.1h0.55M123.5 56.5h0.55M132.6 74.4h0.55M124.3 50.7h0.55M123.2 87.4h0.55M134.8 50.0h0.55M144.4 67.7h0.55M121.4 75.2h0.55M131.1 85.8h0.55M122.3 71.4h0.55M133.5 81.8h0.55M134.4 67.8h0.55M132.3 54.5h0.55M121.0 63.1h0.55M137.5 71.1h0.55M132.7 67.8h0.55M134.3 78.7h0.55M136.7 68.2h0.55M142.7 61.5h0.55M130.9 67.2h0.55M142.8 67.3h0.55M124.4 45.4h0.55M131.3 59.1h0.55M124.4 69.6h0.55M129.3 75.6h0.55M142.6 63.4h0.55M144.4 77.1h0.55M131.8 66.6h0.55M126.9 60.9h0.55M128.1 55.4h0.55M142.5 79.3h0.55M131.0 84.6h0.55M125.0 76.4h0.55M140.9 54.5h0.55M132.7 75.4h0.55M130.7 66.7h0.55M142.6 84.8h0.55M138.7 45.3h0.55M120.4 78.2h0.55M144.2 65.1h0.55M131.4 81.8h0.55M124.5 71.1h0.55M142.8 45.3h0.55M130.5 74.7h0.55M137.1 67.9h0.55M138.8 55.3h0.55M124.9 50.2h0.55M144.6 62.1h0.55M134.1 69.1h0.55M121.4 65.6h0.55M133.4 45.7h0.55M120.5 51.4h0.55M144.5 74.3h0.55M136.7 68.5h0.55M129.5 76.9h0.55M140.0 62.8h0.55M139.9 56.0h0.55M137.5 79.3h0.55M125.9 54.4h0.55M122.3 47.6h0.55M141.4 60.8h0.55M142.2 64.4h0.55M128.6 54.0h0.55M129.7 86.1h0.55M130.1 55.0h0.55M126.9 50.2h0.55M143.5 73.4h0.55M133.3 51.2h0.55M137.7 57.0h0.55M135.1 62.8h0.55M122.2 56.8h0.55M121.8 73.1h0.55M123.7 51.0h0.55M132.4 72.7h0.55M135.7 50.0h0.55M144.9 69.9h0.55M142.5 87.1h0.55M138.5 78.8h0.55M129.6 85.7h0.55M128.6 68.5h0.55M137.4 51.8h0.55M128.6 60.9h0.55M139.1 78.4h0.55M138.2 50.7h0.55M123.0 73.6h0.55M140.1 58.9h0.55M122.3 84.5h0.55M127.9 60.1h0.55M144.4 58.9h0.55M136.3 56.7h0.55M141.4 68.2h0.55M143.2 86.0h0.55M126.6 68.2h0.55M139.9 76.9h0.55M129.3 67.4h0.55M121.6 48.6h0.55M122.7 70.2h0.55M123.2 70.6h0.55M135.8 70.6h0.55M136.0 57.8h0.55M141.2 56.5h0.55M127.4 59.2h0.55M139.1 46.3h0.55M126.7 51.9h0.55M127.8 57.3h0.55M136.4 67.0h0.55M129.8 84.2h0.55M145.0 75.1h0.55M127.9 67.2h0.55M125.9 75.8h0.55M142.0 64.1h0.55M141.8 47.0h0.55M124.1 74.5h0.55M128.4 75.3h0.55M132.8 73.2h0.55M121.7 81.7h0.55M129.3 78.6h0.55" stroke="#000" stroke-width="0.55" stroke-opacity="0.25" fill="none"/>
</g>
<g clip-path="url(#cpA2)">
<ellipse cx="187.0" cy="85.3" rx="11.5" ry="3.3" fill="#000" fill-opacity="0.95" filter="url(#b1)"/>
<ellipse cx="185.5" cy="85.6" rx="8.0" ry="2.6" fill="#000" fill-opacity="0.9" filter="url(#b1)"/>
<path d="M185.7 78.0h0.55M185.7 81.8h0.55M206.3 83.8h0.55M191.8 84.7h0.55M193.2 81.4h0.55M189.7 83.7h0.55M210.1 79.9h0.55M199.7 82.7h0.55M196.1 79.2h0.55M181.1 86.4h0.55M193.7 79.5h0.55M185.9 86.5h0.55M189.6 82.6h0.55M191.0 83.0h0.55M184.9 88.3h0.55M194.9 84.5h0.55M203.9 77.4h0.55M198.5 85.9h0.55M191.2 73.8h0.55M199.0 82.7h0.55M198.9 79.1h0.55M187.6 84.4h0.55M185.0 83.0h0.55M182.1 82.5h0.55M179.7 89.0h0.55M181.1 81.9h0.55M189.5 81.2h0.55M176.3 88.8h0.55M189.4 83.6h0.55M194.1 84.7h0.55M177.6 83.2h0.55M197.6 79.8h0.55M184.4 82.8h0.55M194.3 80.7h0.55M191.3 78.6h0.55M185.3 83.0h0.55M183.2 83.9h0.55M182.5 84.6h0.55M204.1 85.9h0.55M198.5 89.0h0.55M177.2 85.2h0.55M196.6 82.4h0.55M191.4 82.7h0.55M186.0 88.1h0.55M196.5 81.9h0.55M184.4 76.8h0.55M187.0 87.0h0.55M190.9 83.8h0.55M180.7 84.6h0.55M191.1 88.5h0.55M188.7 84.3h0.55M183.4 79.3h0.55M182.0 77.1h0.55M192.2 83.9h0.55M197.3 79.9h0.55M192.4 85.1h0.55M181.8 79.5h0.55M196.1 82.8h0.55M191.0 78.8h0.55M194.7 82.8h0.55M199.8 82.5h0.55M181.4 86.2h0.55M188.2 88.9h0.55M184.2 83.4h0.55M181.7 81.0h0.55M197.8 85.4h0.55M173.8 86.3h0.55M193.3 86.3h0.55M184.5 89.3h0.55M199.7 87.7h0.55M190.2 86.5h0.55M187.9 86.9h0.55M190.7 81.0h0.55M192.9 81.9h0.55M189.7 83.7h0.55M187.5 84.4h0.55M188.3 84.2h0.55M194.0 85.2h0.55M179.5 84.2h0.55M189.5 82.6h0.55M188.4 78.3h0.55M185.2 87.1h0.55M196.0 86.2h0.55M178.0 81.0h0.55M186.2 85.9h0.55M181.9 85.5h0.55M194.3 84.4h0.55M185.3 77.5h0.55M189.9 79.8h0.55M192.9 81.9h0.55M193.5 81.0h0.55M182.9 82.9h0.55M187.2 80.1h0.55M188.5 82.3h0.55M196.7 85.3h0.55M196.0 76.7h0.55M205.2 73.9h0.55M191.1 86.5h0.55M185.3 84.2h0.55M185.0 81.9h0.55M195.3 87.6h0.55M203.7 87.6h0.55M192.5 76.6h0.55M184.4 83.5h0.55M191.9 88.1h0.55M191.8 81.7h0.55M189.8 83.0h0.55M182.9 87.5h0.55M184.7 79.8h0.55M198.8 81.6h0.55M191.4 79.3h0.55M189.5 77.9h0.55M173.1 87.7h0.55M207.2 78.2h0.55M191.2 84.3h0.55M178.8 78.8h0.55M196.6 83.0h0.55M182.6 87.8h0.55M194.5 88.1h0.55M189.7 88.8h0.55M179.0 83.8h0.55M195.4 84.5h0.55M177.6 84.9h0.55M201.4 86.3h0.55M190.0 82.7h0.55M180.4 88.1h0.55M173.4 85.3h0.55M203.8 88.2h0.55M202.4 85.8h0.55M178.3 86.5h0.55M204.1 81.5h0.55M191.0 82.6h0.55M187.5 79.5h0.55M188.7 83.0h0.55M187.1 83.5h0.55M202.2 87.1h0.55M190.8 79.6h0.55M208.1 83.7h0.55M197.3 88.6h0.55M179.8 87.8h0.55M186.3 75.0h0.55M181.5 83.2h0.55M193.0 75.4h0.55M191.6 86.9h0.55M184.2 80.8h0.55M182.4 82.4h0.55M197.0 84.9h0.55M188.6 77.4h0.55M209.5 84.8h0.55M182.3 81.8h0.55M196.5 81.4h0.55M189.9 86.6h0.55M201.6 85.3h0.55M190.6 86.1h0.55M181.6 83.9h0.55M186.7 81.5h0.55M198.5 85.0h0.55M201.7 84.8h0.55M195.6 87.3h0.55M187.0 83.3h0.55M205.0 78.2h0.55M194.8 86.2h0.55M191.0 86.0h0.55M205.9 85.1h0.55M202.8 80.1h0.55M181.3 80.0h0.55M187.7 83.2h0.55M187.6 84.4h0.55M185.8 79.7h0.55M176.2 80.2h0.55M197.5 86.1h0.55M190.2 87.8h0.55M190.4 82.1h0.55M202.0 81.6h0.55M184.5 81.5h0.55M191.9 85.8h0.55M185.6 83.8h0.55M188.5 87.7h0.55M189.4 88.3h0.55M201.4 78.9h0.55M182.8 83.8h0.55M191.3 82.6h0.55M176.8 82.8h0.55M188.4 79.7h0.55M183.2 82.7h0.55M201.6 80.2h0.55M196.1 85.3h0.55M194.0 84.2h0.55M206.0 79.0h0.55M202.4 77.9h0.55M195.9 82.3h0.55M183.3 86.4h0.55M176.6 85.8h0.55M189.2 83.8h0.55M186.3 72.1h0.55M183.7 82.3h0.55M186.9 81.4h0.55M174.7 82.8h0.55M202.8 79.7h0.55M179.3 82.5h0.55M183.5 81.7h0.55M174.9 86.6h0.55M197.7 83.4h0.55M197.9 83.9h0.55M186.7 83.6h0.55M179.8 84.7h0.55M185.3 82.6h0.55M172.9 84.0h0.55M201.9 87.8h0.55M190.0 87.1h0.55M182.9 85.2h0.55M181.4 88.9h0.55M194.6 84.9h0.55M203.0 80.5h0.55M178.1 77.7h0.55M184.3 81.5h0.55M173.7 83.8h0.55M195.6 85.5h0.55M190.9 87.9h0.55M209.8 82.0h0.55M188.4 81.1h0.55M185.6 86.8h0.55M183.1 88.3h0.55M197.2 82.3h0.55M174.9 85.3h0.55M196.2 89.0h0.55M191.7 85.2h0.55M185.0 83.9h0.55M181.4 76.6h0.55M199.0 88.8h0.55M206.2 86.4h0.55M185.5 84.5h0.55M194.3 82.4h0.55M205.2 79.6h0.55M183.9 83.7h0.55M187.2 83.7h0.55M178.5 88.0h0.55M188.2 79.7h0.55M188.8 89.3h0.55M185.7 84.2h0.55M182.8 88.3h0.55M175.2 80.6h0.55M177.4 85.3h0.55M180.7 88.5h0.55M195.3 84.5h0.55M184.9 78.7h0.55M181.8 82.9h0.55M195.4 86.0h0.55M194.6 79.0h0.55M182.7 78.8h0.55M183.8 84.9h0.55M195.5 80.6h0.55M192.8 86.5h0.55M182.0 79.8h0.55M191.7 77.4h0.55M189.2 81.3h0.55M181.7 80.9h0.55M197.5 84.0h0.55M193.4 84.9h0.55M180.4 80.6h0.55M199.0 88.0h0.55M197.7 84.7h0.55M177.6 85.7h0.55M207.4 78.0h0.55M179.1 77.7h0.55M181.2 74.1h0.55M186.6 83.4h0.55M196.5 83.2h0.55M194.8 86.7h0.55M201.9 83.1h0.55M193.2 83.1h0.55M202.2 85.7h0.55M191.3 81.1h0.55M185.4 83.2h0.55M179.7 82.9h0.55M190.3 87.0h0.55M190.4 81.2h0.55M178.3 80.2h0.55M179.0 86.5h0.55M187.1 84.0h0.55M187.7 83.1h0.55M198.4 85.9h0.55M189.8 82.7h0.55M189.4 86.8h0.55M192.2 85.6h0.55M189.0 88.6h0.55M199.0 87.2h0.55M199.4 83.3h0.55M193.7 84.5h0.55M186.9 81.9h0.55M201.6 83.3h0.55M194.3 86.1h0.55M185.6 89.0h0.55M181.5 81.1h0.55M201.0 80.5h0.55M191.2 79.5h0.55M182.6 82.2h0.55M186.9 88.7h0.55M213.5 86.7h0.55M200.7 84.2h0.55M177.1 84.2h0.55M188.3 78.1h0.55M178.1 86.6h0.55M173.5 85.6h0.55M191.1 80.2h0.55M211.9 84.8h0.55M204.0 83.4h0.55M189.9 82.2h0.55M186.0 80.5h0.55M191.4 81.7h0.55M199.1 80.7h0.55M175.9 85.7h0.55M207.0 85.2h0.55M192.1 83.4h0.55M204.5 82.6h0.55M203.3 77.4h0.55M183.8 88.4h0.55M194.1 85.4h0.55M204.0 84.3h0.55M199.0 82.3h0.55M185.2 83.3h0.55M197.9 79.8h0.55M183.3 79.1h0.55M176.1 83.7h0.55M194.4 78.1h0.55M202.6 87.1h0.55M197.5 88.1h0.55M177.7 71.7h0.55M197.7 78.5h0.55M195.9 85.1h0.55M185.2 84.9h0.55M199.0 85.6h0.55M197.8 86.8h0.55M194.2 87.2h0.55M175.5 84.2h0.55M199.0 87.2h0.55M197.1 78.3h0.55M194.2 83.6h0.55M187.2 79.7h0.55M193.2 89.1h0.55M186.6 86.1h0.55M181.3 79.4h0.55M191.9 83.7h0.55M185.6 84.2h0.55M198.5 84.8h0.55M196.3 88.0h0.55M181.8 87.5h0.55M206.8 74.6h0.55M178.9 89.0h0.55M193.8 82.3h0.55M199.7 82.1h0.55M201.6 89.2h0.55M199.0 79.2h0.55M201.0 79.3h0.55M203.1 84.3h0.55M188.6 83.5h0.55M185.3 82.4h0.55M183.1 82.5h0.55M201.1 89.4h0.55M194.8 85.0h0.55M175.7 85.0h0.55M180.1 83.3h0.55M185.1 85.2h0.55M190.4 82.4h0.55M198.9 81.7h0.55M187.8 83.6h0.55M198.1 81.8h0.55M174.6 85.2h0.55M186.3 83.2h0.55M193.9 83.4h0.55M186.1 83.3h0.55M193.5 84.1h0.55M207.9 82.0h0.55M188.5 83.1h0.55M182.6 86.5h0.55M181.5 83.4h0.55M208.2 83.6h0.55M189.1 83.2h0.55M195.3 84.7h0.55M201.1 85.5h0.55M199.7 85.7h0.55M180.7 78.2h0.55M198.6 80.3h0.55M197.5 74.7h0.55M194.1 87.0h0.55M199.1 88.1h0.55M184.2 88.8h0.55M188.8 84.6h0.55M184.5 88.2h0.55M196.7 84.0h0.55M183.3 83.7h0.55M193.2 78.6h0.55M179.1 81.3h0.55M188.3 82.0h0.55M186.1 87.4h0.55M190.8 82.4h0.55M187.8 85.5h0.55M187.4 85.1h0.55M200.0 77.9h0.55M183.6 81.4h0.55M187.2 78.9h0.55M181.6 83.0h0.55M199.0 83.6h0.55M180.9 83.5h0.55M194.3 83.5h0.55M200.7 85.8h0.55M205.1 80.8h0.55M200.8 87.3h0.55M195.4 78.1h0.55M178.1 84.3h0.55M201.8 85.5h0.55M200.8 81.3h0.55M197.5 78.4h0.55M197.1 86.4h0.55M190.3 81.7h0.55M184.6 86.9h0.55M199.8 86.9h0.55M201.6 84.1h0.55M179.7 84.1h0.55M198.2 87.7h0.55M191.9 85.5h0.55M198.0 80.7h0.55M192.2 84.7h0.55M200.1 86.1h0.55M199.3 84.8h0.55M198.0 84.8h0.55M176.5 83.6h0.55M197.4 83.7h0.55M190.1 80.7h0.55M179.0 79.0h0.55M196.3 88.1h0.55M176.7 81.8h0.55M198.1 84.9h0.55M205.7 78.7h0.55M184.9 84.7h0.55M198.3 81.1h0.55M195.8 80.4h0.55M176.9 80.6h0.55M195.4 87.5h0.55M190.9 88.2h0.55M196.7 76.6h0.55M189.8 85.0h0.55M200.0 87.2h0.55M192.3 79.7h0.55M196.1 86.5h0.55M202.6 82.2h0.55M191.4 80.5h0.55M199.1 82.8h0.55M191.9 82.4h0.55M194.7 79.1h0.55M197.0 82.5h0.55M201.3 81.4h0.55M189.0 87.2h0.55M197.2 83.8h0.55M193.8 88.9h0.55M179.4 83.1h0.55M193.1 85.4h0.55M202.2 84.4h0.55M185.2 84.7h0.55M173.1 83.4h0.55M191.7 83.7h0.55M207.6 81.7h0.55M189.4 82.1h0.55M189.8 82.9h0.55M183.9 86.1h0.55M192.2 85.5h0.55M184.5 87.4h0.55M181.4 79.3h0.55M189.2 85.0h0.55M182.2 83.5h0.55M202.1 83.1h0.55M178.9 84.7h0.55M189.1 77.1h0.55M183.4 85.1h0.55M176.9 84.6h0.55M205.4 79.0h0.55M176.7 82.7h0.55M190.7 86.2h0.55M210.9 83.3h0.55M177.0 80.8h0.55M202.1 82.7h0.55M191.4 88.7h0.55M184.7 87.0h0.55M189.5 81.6h0.55M180.8 87.7h0.55M191.0 83.6h0.55M203.8 81.6h0.55M186.3 85.6h0.55M191.1 80.8h0.55M201.0 78.5h0.55M208.3 88.7h0.55M184.4 77.6h0.55M192.6 86.0h0.55M184.6 78.7h0.55M183.8 84.0h0.55M186.1 83.4h0.55M183.9 82.5h0.55M173.7 76.3h0.55M183.0 84.0h0.55M191.1 80.9h0.55M201.1 83.9h0.55M184.9 87.6h0.55M188.3 81.5h0.55M196.0 85.0h0.55M196.7 80.0h0.55M188.8 85.5h0.55M189.3 86.4h0.55M186.7 87.3h0.55M185.3 85.6h0.55M174.7 89.1h0.55M193.9 80.6h0.55M187.4 87.9h0.55M207.6 82.2h0.55M186.7 81.9h0.55M197.4 88.0h0.55M198.5 84.9h0.55M205.2 88.8h0.55M177.6 79.0h0.55M204.4 85.1h0.55M190.0 82.2h0.55M188.9 83.2h0.55M186.9 77.3h0.55M186.2 87.4h0.55M186.6 84.9h0.55M194.6 79.3h0.55M190.4 81.0h0.55M181.0 89.1h0.55M189.2 83.8h0.55M211.2 82.9h0.55M193.4 85.9h0.55M186.2 84.2h0.55M205.7 85.0h0.55M182.4 86.8h0.55M188.4 85.3h0.55M184.7 87.3h0.55M187.6 79.9h0.55M196.6 84.4h0.55M195.2 82.9h0.55M183.0 84.5h0.55M188.6 84.0h0.55M190.6 81.9h0.55M186.0 82.9h0.55M189.5 87.5h0.55M183.1 82.2h0.55M183.0 79.8h0.55M190.2 86.3h0.55M180.2 87.6h0.55M193.7 83.2h0.55M188.0 84.6h0.55M181.3 81.2h0.55M184.1 83.5h0.55M185.4 88.1h0.55M188.3 87.0h0.55M190.9 84.7h0.55M187.9 83.2h0.55M181.8 78.4h0.55M203.0 85.3h0.55M198.2 85.8h0.55M190.8 87.9h0.55M192.8 85.5h0.55M187.4 87.6h0.55M190.6 80.3h0.55M214.4 88.4h0.55M199.0 87.3h0.55M199.4 89.0h0.55M186.1 86.6h0.55M195.3 85.8h0.55M193.7 81.9h0.55M199.7 86.5h0.55M201.4 88.0h0.55M195.7 81.4h0.55M204.3 80.2h0.55M191.9 85.7h0.55M194.4 84.7h0.55M184.0 86.4h0.55M214.1 86.5h0.55M192.6 81.5h0.55M190.8 85.4h0.55M202.6 88.2h0.55M185.3 83.0h0.55M189.7 83.2h0.55M182.6 80.3h0.55M190.0 87.1h0.55M194.8 79.4h0.55M188.6 86.9h0.55M184.3 87.4h0.55M187.1 82.3h0.55M188.7 82.9h0.55M185.1 80.6h0.55M198.4 81.5h0.55M195.9 84.8h0.55M191.1 86.5h0.55M178.8 84.7h0.55M194.5 87.3h0.55M178.0 85.0h0.55M191.5 80.2h0.55M190.2 89.3h0.55M184.3 88.4h0.55M182.1 81.8h0.55M208.6 85.9h0.55M187.3 84.7h0.55M198.6 75.5h0.55M193.6 78.6h0.55M199.5 86.8h0.55M178.5 83.4h0.55M179.8 81.0h0.55M189.4 86.0h0.55M187.1 79.8h0.55M191.2 82.0h0.55M198.8 87.2h0.55M192.4 77.3h0.55M189.5 85.2h0.55M195.9 83.0h0.55M191.3 78.2h0.55M184.9 83.7h0.55M181.8 78.7h0.55M176.3 86.1h0.55M186.1 87.0h0.55M205.0 86.4h0.55M185.9 85.5h0.55M195.4 87.7h0.55M187.8 80.2h0.55M196.1 83.0h0.55M190.0 87.3h0.55M185.1 81.8h0.55M202.1 82.8h0.55M187.3 88.6h0.55M186.7 82.2h0.55M194.7 81.5h0.55M179.6 86.4h0.55M196.9 85.3h0.55M196.7 82.0h0.55M209.1 86.4h0.55M183.9 86.3h0.55M195.8 84.6h0.55M185.9 89.1h0.55M190.7 87.2h0.55M193.5 87.9h0.55M188.9 88.2h0.55M184.1 81.8h0.55M185.7 85.5h0.55M192.5 84.6h0.55M194.8 82.3h0.55M195.6 85.3h0.55M198.8 85.2h0.55M200.6 84.1h0.55M173.3 82.6h0.55M185.0 87.3h0.55M188.3 78.7h0.55M183.9 87.2h0.55M199.3 84.4h0.55M196.6 85.3h0.55M188.8 76.0h0.55M201.3 78.3h0.55M186.6 81.3h0.55M186.9 86.6h0.55M198.0 82.2h0.55M194.0 82.9h0.55M202.7 76.5h0.55M193.1 82.8h0.55M196.6 85.1h0.55M184.8 86.7h0.55M181.2 83.3h0.55M189.7 85.1h0.55M193.5 82.0h0.55M198.6 81.7h0.55M187.7 81.4h0.55M199.6 88.7h0.55M189.4 84.6h0.55M209.7 82.1h0.55M196.3 86.2h0.55M198.3 85.5h0.55M194.2 83.6h0.55M192.0 85.5h0.55M192.3 81.7h0.55M190.4 84.1h0.55M199.6 83.0h0.55M175.1 87.0h0.55M187.3 84.0h0.55M195.7 79.5h0.55M182.1 83.1h0.55M188.8 84.0h0.55M183.4 81.2h0.55M193.8 89.1h0.55M197.6 85.8h0.55M203.0 87.3h0.55M194.3 81.7h0.55M183.2 83.0h0.55M192.0 87.9h0.55M194.9 79.3h0.55M202.6 85.7h0.55M193.1 82.6h0.55M173.2 84.7h0.55M196.2 80.6h0.55M193.8 85.2h0.55M194.3 80.1h0.55M197.8 79.9h0.55M193.3 89.3h0.55M183.9 81.9h0.55M192.9 76.9h0.55M200.6 87.8h0.55M188.7 81.6h0.55M190.0 71.9h0.55M178.7 84.2h0.55M200.3 87.6h0.55M185.2 85.6h0.55M185.7 83.9h0.55M181.9 86.5h0.55M187.5 80.8h0.55M201.3 84.9h0.55M202.7 86.1h0.55M203.2 84.9h0.55M181.6 77.4h0.55M194.1 83.0h0.55M203.4 79.8h0.55M210.6 87.1h0.55M176.9 81.8h0.55M176.8 85.6h0.55M194.0 80.8h0.55M180.7 80.2h0.55M193.2 84.9h0.55M189.5 81.3h0.55M190.9 86.5h0.55M195.5 87.9h0.55M198.3 87.5h0.55M191.4 77.4h0.55M187.6 85.1h0.55M183.7 76.8h0.55M185.7 84.6h0.55M198.8 82.7h0.55M195.6 86.8h0.55M208.3 86.1h0.55M188.3 80.2h0.55M197.2 83.5h0.55M199.1 78.1h0.55M179.1 89.3h0.55M191.1 88.8h0.55M196.2 86.3h0.55M179.5 81.2h0.55M186.6 87.7h0.55M179.0 87.3h0.55M191.0 81.6h0.55M186.3 88.0h0.55M183.6 87.7h0.55M205.5 78.6h0.55M181.1 81.8h0.55M188.4 84.7h0.55M179.4 86.0h0.55M193.1 83.6h0.55M176.0 84.2h0.55M190.5 84.0h0.55M187.9 84.7h0.55M198.0 86.5h0.55M179.7 86.2h0.55M183.8 84.2h0.55M187.5 85.3h0.55M208.6 82.8h0.55M176.3 87.2h0.55M192.3 82.6h0.55M192.5 84.3h0.55M195.6 85.4h0.55M190.9 81.7h0.55M192.0 83.2h0.55M192.2 85.0h0.55M184.3 84.5h0.55M187.7 82.2h0.55M174.6 80.2h0.55M186.4 84.5h0.55M182.6 84.9h0.55M187.3 86.4h0.55M196.3 88.8h0.55M193.1 83.3h0.55M193.9 77.3h0.55M199.6 83.9h0.55M193.5 79.8h0.55M189.4 88.1h0.55M188.7 86.4h0.55M177.7 82.1h0.55M194.6 82.1h0.55M200.0 84.1h0.55M198.9 78.1h0.55M188.8 86.1h0.55M195.4 83.1h0.55M206.1 80.6h0.55M200.7 88.0h0.55M190.8 82.0h0.55M190.4 88.0h0.55M191.1 80.9h0.55M191.6 87.0h0.55M185.1 82.8h0.55M196.5 81.4h0.55M183.3 83.9h0.55M182.3 86.1h0.55M192.8 85.8h0.55M187.3 87.3h0.55M196.7 83.0h0.55M189.5 77.3h0.55M188.4 83.0h0.55M193.7 86.6h0.55M191.4 79.6h0.55M183.2 80.2h0.55M207.7 84.9h0.55M185.4 83.4h0.55M206.1 85.6h0.55M183.9 86.3h0.55M182.1 82.6h0.55M199.0 84.4h0.55M186.5 80.8h0.55M179.6 85.3h0.55M201.5 88.1h0.55M197.8 89.3h0.55M181.5 84.3h0.55M200.3 81.9h0.55M191.3 81.7h0.55M214.1 79.4h0.55M205.1 84.8h0.55M184.5 89.3h0.55M187.1 75.9h0.55M181.6 76.6h0.55M189.9 78.6h0.55M196.2 85.6h0.55M190.3 79.9h0.55M176.2 87.2h0.55M182.2 87.2h0.55M202.3 85.0h0.55M200.0 87.4h0.55M188.0 84.6h0.55M188.3 86.4h0.55M189.7 88.4h0.55M174.3 82.1h0.55M197.6 81.5h0.55M183.5 83.6h0.55M190.8 83.6h0.55M191.6 82.3h0.55M201.6 86.8h0.55M203.3 85.7h0.55M193.8 84.5h0.55M182.9 86.7h0.55M175.1 80.1h0.55M191.9 85.7h0.55M194.9 86.1h0.55M187.0 86.6h0.55M182.3 88.3h0.55M197.4 87.1h0.55M180.8 85.3h0.55M197.7 83.8h0.55M174.3 78.5h0.55M181.1 85.2h0.55M176.3 83.3h0.55M201.4 83.3h0.55M179.2 77.8h0.55M195.5 84.7h0.55M191.6 88.8h0.55M209.4 87.9h0.55M206.2 88.9h0.55M195.1 79.9h0.55M195.8 81.0h0.55M172.9 86.7h0.55M181.5 83.4h0.55M187.9 85.3h0.55M177.0 85.2h0.55M181.0 86.1h0.55M181.8 83.5h0.55M199.2 84.9h0.55M193.4 82.1h0.55M186.5 84.4h0.55M187.0 82.8h0.55M192.1 85.4h0.55M183.2 79.4h0.55M187.1 79.1h0.55M173.9 86.2h0.55M195.6 85.3h0.55M198.2 81.0h0.55M192.8 83.7h0.55M193.8 80.7h0.55M208.0 78.9h0.55M177.5 81.5h0.55M180.0 86.0h0.55M196.0 83.6h0.55M199.2 83.1h0.55M196.5 87.9h0.55M197.1 87.4h0.55M191.2 83.5h0.55M176.0 81.2h0.55M186.0 85.0h0.55M177.1 83.4h0.55M190.4 85.6h0.55M187.9 84.8h0.55M196.1 81.0h0.55M196.4 84.6h0.55M176.8 81.7h0.55M190.8 89.2h0.55M186.8 84.2h0.55M197.3 86.5h0.55M199.2 83.4h0.55M191.1 81.2h0.55M187.9 88.3h0.55M194.1 86.3h0.55M196.6 83.8h0.55M185.3 85.4h0.55M182.2 78.1h0.55M186.0 85.8h0.55M184.2 84.3h0.55M191.0 84.5h0.55M188.6 83.8h0.55M189.4 86.1h0.55M191.0 85.4h0.55M203.7 79.5h0.55M200.4 85.0h0.55M184.1 83.3h0.55M188.5 80.5h0.55M187.1 81.1h0.55M183.7 81.5h0.55M176.9 82.2h0.55M191.2 84.7h0.55M200.2 88.5h0.55M181.1 79.8h0.55M194.0 79.0h0.55M185.8 77.9h0.55M191.9 88.5h0.55M182.0 89.3h0.55M187.2 79.0h0.55M188.3 78.7h0.55M191.3 88.5h0.55M188.1 88.2h0.55M195.3 87.0h0.55M189.0 85.7h0.55M191.2 82.5h0.55M185.5 84.5h0.55M179.4 80.5h0.55M185.2 82.9h0.55M185.4 79.0h0.55M209.7 84.6h0.55M206.2 88.5h0.55M184.8 80.0h0.55M185.5 88.6h0.55M194.5 85.9h0.55M182.9 80.4h0.55M180.1 81.5h0.55M207.0 83.3h0.55M199.0 79.9h0.55M175.0 80.0h0.55M173.0 83.6h0.55M181.7 83.9h0.55M191.3 86.7h0.55M194.3 80.2h0.55M174.4 88.4h0.55M191.3 87.7h0.55M194.8 82.2h0.55M184.7 83.3h0.55M188.7 88.4h0.55M178.9 81.3h0.55M190.1 82.9h0.55M198.1 88.1h0.55M193.5 84.0h0.55M180.0 85.3h0.55M191.2 85.3h0.55M200.8 81.8h0.55M187.9 82.2h0.55M204.4 83.0h0.55M174.9 86.2h0.55M187.7 81.1h0.55M176.0 87.2h0.55M188.6 84.9h0.55M174.2 87.7h0.55M184.2 89.0h0.55M190.5 86.8h0.55M192.7 87.1h0.55M193.2 83.9h0.55M199.9 86.6h0.55M195.7 81.3h0.55M196.1 83.7h0.55M180.1 87.2h0.55M187.8 84.4h0.55M218.8 86.2h0.55M210.3 80.7h0.55M196.1 82.5h0.55M198.4 86.0h0.55M185.5 84.5h0.55M207.4 87.9h0.55M185.7 83.2h0.55M188.5 80.9h0.55M209.5 77.7h0.55M192.6 80.2h0.55" stroke="#000" stroke-width="0.55" stroke-opacity="0.6" fill="none"/>
<path d="M234.7 53.2h0.55M241.5 47.8h0.55M214.0 43.2h0.55M221.0 49.4h0.55M233.0 53.5h0.55M240.0 45.5h0.55M233.0 55.5h0.55M233.1 47.5h0.55M234.5 49.9h0.55M235.0 46.4h0.55M243.1 47.0h0.55M235.3 44.9h0.55M221.4 45.3h0.55M227.2 42.8h0.55M232.3 50.2h0.55M224.6 45.0h0.55M228.7 48.5h0.55M226.8 48.4h0.55M225.4 46.2h0.55M235.9 47.7h0.55M227.8 47.4h0.55M222.5 46.5h0.55M225.3 47.8h0.55M231.0 47.8h0.55M232.7 44.7h0.55M241.9 45.7h0.55M234.4 47.9h0.55M214.5 50.8h0.55M233.6 51.0h0.55M224.3 48.3h0.55M220.5 49.8h0.55M222.6 47.9h0.55M218.8 47.9h0.55M226.0 48.5h0.55M239.4 47.0h0.55M235.7 47.6h0.55M217.8 51.9h0.55M229.9 44.9h0.55M226.8 47.6h0.55M229.2 46.3h0.55M236.4 49.8h0.55M226.3 51.8h0.55M228.3 46.9h0.55M241.7 41.3h0.55M216.8 49.0h0.55M227.9 49.0h0.55M234.2 43.8h0.55M221.3 47.1h0.55M225.9 47.5h0.55M220.8 42.4h0.55M231.9 49.2h0.55M226.0 48.6h0.55M236.6 48.2h0.55M238.4 45.2h0.55M231.0 46.0h0.55M227.8 46.2h0.55M232.7 48.7h0.55M231.1 45.4h0.55M221.5 51.0h0.55M238.8 48.5h0.55M232.4 42.7h0.55M236.6 51.5h0.55M220.4 48.0h0.55M237.3 46.4h0.55M235.3 43.5h0.55M219.7 48.0h0.55M231.0 42.0h0.55M230.2 45.3h0.55M232.3 50.7h0.55M228.9 50.5h0.55M234.4 46.8h0.55M227.2 45.4h0.55M232.4 49.7h0.55M225.5 47.5h0.55M231.4 48.1h0.55M238.2 49.0h0.55M227.0 45.1h0.55M235.7 49.4h0.55M224.0 42.8h0.55M227.8 50.9h0.55M228.9 44.0h0.55M240.1 46.2h0.55M224.9 46.1h0.55M239.9 49.3h0.55M219.6 49.3h0.55M229.5 48.4h0.55M237.6 48.8h0.55M235.9 48.7h0.55M223.0 47.4h0.55M221.4 43.2h0.55M237.3 42.3h0.55M221.1 42.3h0.55M235.0 47.5h0.55M226.7 47.1h0.55M230.6 47.3h0.55M242.4 47.0h0.55M237.0 45.3h0.55M220.2 44.1h0.55M233.1 43.2h0.55M231.0 50.4h0.55M229.9 49.7h0.55M240.8 44.5h0.55M217.6 47.0h0.55M233.0 48.6h0.55M231.6 51.2h0.55M224.9 46.2h0.55M243.7 48.0h0.55M221.0 50.2h0.55M230.8 43.6h0.55M231.2 45.9h0.55M214.0 47.5h0.55M219.8 45.9h0.55M223.3 52.4h0.55M236.6 49.6h0.55M237.8 48.0h0.55M235.1 45.4h0.55M232.4 49.6h0.55M213.9 49.0h0.55M232.2 46.4h0.55M226.7 46.6h0.55M239.5 44.2h0.55M240.8 47.4h0.55M236.0 49.9h0.55M236.8 48.9h0.55M222.8 49.5h0.55M231.2 46.2h0.55M221.2 46.5h0.55M237.4 50.3h0.55M221.5 48.6h0.55M229.0 45.7h0.55M224.4 48.7h0.55M227.0 49.5h0.55M234.1 49.2h0.55M226.3 47.8h0.55M232.3 46.4h0.55M223.0 48.5h0.55M241.2 51.5h0.55M225.7 47.9h0.55M238.3 46.0h0.55M212.0 44.7h0.55M223.0 48.1h0.55M229.0 46.9h0.55M239.5 49.8h0.55M226.9 47.8h0.55M233.5 50.0h0.55M225.0 52.8h0.55M234.8 47.1h0.55M221.3 45.6h0.55M236.9 48.6h0.55M207.8 47.4h0.55M216.2 47.9h0.55M231.9 48.8h0.55M223.7 47.7h0.55M238.6 47.0h0.55M239.2 48.3h0.55M227.3 50.3h0.55M235.3 46.2h0.55M234.4 45.7h0.55M217.9 50.2h0.55M235.1 46.2h0.55M229.1 47.8h0.55M240.4 48.6h0.55M240.5 49.2h0.55M225.6 47.6h0.55M225.9 45.0h0.55M232.0 49.9h0.55M235.5 46.6h0.55M227.4 46.4h0.55M229.7 52.1h0.55M235.2 49.6h0.55M233.8 45.1h0.55M239.4 46.4h0.55M232.4 47.0h0.55M223.7 45.8h0.55M217.0 43.2h0.55M236.7 49.4h0.55M228.0 49.3h0.55M227.9 48.1h0.55M228.3 46.6h0.55M218.5 48.0h0.55M227.5 49.0h0.55M210.6 45.2h0.55M227.4 46.8h0.55M223.6 46.3h0.55M233.9 48.1h0.55M228.9 44.6h0.55M231.8 46.1h0.55M236.1 51.6h0.55M224.7 45.3h0.55M228.7 47.9h0.55M227.8 46.1h0.55" stroke="#000" stroke-width="0.55" stroke-opacity="0.3" fill="none"/>
<path d="M239.9 48.1h0.55M231.7 46.8h0.55M229.4 50.2h0.55M224.8 43.1h0.55M230.6 56.5h0.55M237.3 40.3h0.55M236.3 52.9h0.55M223.9 41.6h0.55M241.8 59.3h0.55M230.6 55.4h0.55M225.5 45.0h0.55M232.9 47.2h0.55M228.2 43.0h0.55M228.5 49.6h0.55M228.2 52.5h0.55M231.5 65.8h0.55M229.0 41.6h0.55M221.5 57.7h0.55M235.3 46.4h0.55M228.8 51.7h0.55M239.5 55.4h0.55M235.4 53.4h0.55M235.9 52.6h0.55M233.2 48.8h0.55M240.1 49.9h0.55M230.0 50.9h0.55M225.9 57.4h0.55M234.2 40.9h0.55M215.2 47.0h0.55M229.8 42.3h0.55M233.4 44.0h0.55M229.5 45.1h0.55M239.9 56.8h0.55M236.4 63.2h0.55M232.8 58.4h0.55M229.6 42.7h0.55M238.9 50.5h0.55M227.9 43.0h0.55M229.5 52.7h0.55M236.7 57.8h0.55M235.8 53.6h0.55M230.7 49.1h0.55M220.4 37.9h0.55M236.1 37.8h0.55M239.8 49.4h0.55M231.0 53.5h0.55M241.7 57.8h0.55M243.1 47.9h0.55M227.9 50.5h0.55M229.1 51.6h0.55M224.3 56.6h0.55M235.4 49.6h0.55M236.5 43.2h0.55M235.8 56.7h0.55M224.4 52.5h0.55M227.3 52.4h0.55M223.2 42.2h0.55M222.0 50.0h0.55M223.7 39.4h0.55M222.2 37.6h0.55M230.9 48.5h0.55M234.7 47.3h0.55M235.9 53.5h0.55M231.9 58.9h0.55M227.9 49.8h0.55M232.0 61.0h0.55M235.5 46.4h0.55M230.2 54.7h0.55M232.3 42.2h0.55" stroke="#000" stroke-width="0.55" stroke-opacity="0.22" fill="none"/>
<ellipse cx="234" cy="47.5" rx="3.5" ry="1.0" fill="#000" fill-opacity="0.22" filter="url(#b2)"/>
<path d="M235.9 85.4h0.55M234.5 71.6h0.55M234.8 83.6h0.55M237.4 84.5h0.55M229.3 71.5h0.55M232.8 74.0h0.55M235.9 87.5h0.55M236.8 77.8h0.55M234.3 83.0h0.55M234.3 77.0h0.55M237.3 87.4h0.55M237.0 85.9h0.55M230.8 85.4h0.55M240.0 82.0h0.55M232.1 79.6h0.55M239.3 84.8h0.55M234.0 82.1h0.55M237.3 80.2h0.55M235.0 72.6h0.55M237.7 79.2h0.55M235.5 84.8h0.55M239.7 78.2h0.55M237.7 83.3h0.55M237.7 80.2h0.55M241.0 74.8h0.55M233.2 75.6h0.55M239.8 76.6h0.55M235.7 79.3h0.55M230.6 79.5h0.55M237.1 88.0h0.55M234.8 74.5h0.55M241.0 68.6h0.55M233.9 85.4h0.55M235.7 78.3h0.55M236.3 80.4h0.55M232.2 84.8h0.55M240.1 87.0h0.55M241.0 81.9h0.55M235.5 87.1h0.55M230.3 77.4h0.55M236.1 76.8h0.55M236.1 78.3h0.55M231.6 77.4h0.55M235.0 88.3h0.55M232.5 80.2h0.55M241.3 87.8h0.55M233.2 79.2h0.55M233.4 87.1h0.55M235.3 80.5h0.55M231.4 79.4h0.55M234.0 81.1h0.55M235.1 82.2h0.55M233.9 77.6h0.55M234.7 72.8h0.55M236.9 78.8h0.55M231.1 70.0h0.55M234.1 67.2h0.55M237.9 63.9h0.55M233.4 77.4h0.55M235.4 71.2h0.55M237.2 79.2h0.55M234.9 69.9h0.55M235.0 88.0h0.55M232.7 83.5h0.55M236.7 83.2h0.55M235.4 87.6h0.55M234.8 77.7h0.55M238.1 73.1h0.55M235.2 74.8h0.55M235.8 70.4h0.55M233.1 80.1h0.55M232.5 82.0h0.55M233.2 82.4h0.55M233.4 77.8h0.55M234.2 88.5h0.55M234.0 83.1h0.55M237.8 80.3h0.55M242.0 69.4h0.55M232.5 86.9h0.55M237.3 76.7h0.55M235.9 78.4h0.55M234.5 82.6h0.55M237.2 81.8h0.55M231.3 88.2h0.55M238.2 77.1h0.55M236.2 82.3h0.55M232.2 83.0h0.55M240.7 81.4h0.55M238.3 85.5h0.55M239.3 79.7h0.55M230.7 88.7h0.55M234.6 76.9h0.55M233.8 72.4h0.55M237.6 81.0h0.55M239.9 88.5h0.55M229.3 78.1h0.55M235.6 77.4h0.55M235.1 79.1h0.55M238.8 82.3h0.55M235.4 80.2h0.55M231.3 83.2h0.55M234.9 70.6h0.55M233.0 84.9h0.55M235.6 75.9h0.55M236.4 84.0h0.55M243.1 74.0h0.55M237.8 81.5h0.55M231.3 68.5h0.55M228.4 85.9h0.55M232.7 79.4h0.55M234.7 75.0h0.55M242.8 79.9h0.55M239.8 69.3h0.55M233.8 84.9h0.55M239.5 79.9h0.55M239.5 79.6h0.55M239.5 81.5h0.55M236.6 77.2h0.55M233.4 75.4h0.55M231.7 80.9h0.55M235.1 87.8h0.55M238.8 77.7h0.55M231.1 74.8h0.55M230.2 87.0h0.55M237.3 81.6h0.55M226.6 81.1h0.55M234.1 73.8h0.55M237.9 82.5h0.55M241.6 70.3h0.55M230.8 79.4h0.55M232.1 84.9h0.55M242.8 88.2h0.55M234.6 73.4h0.55M235.1 86.4h0.55M236.2 86.1h0.55M239.0 80.5h0.55M235.9 81.3h0.55M234.4 75.8h0.55M235.4 83.9h0.55M236.5 69.7h0.55M235.9 87.4h0.55M241.5 78.8h0.55M232.7 85.0h0.55M237.2 84.6h0.55M239.7 77.4h0.55M236.6 73.3h0.55M232.6 68.7h0.55M233.2 79.4h0.55M235.0 71.6h0.55M236.5 80.2h0.55M234.7 83.8h0.55M230.7 78.5h0.55M233.1 75.4h0.55M237.2 88.6h0.55M238.2 80.0h0.55M230.9 82.7h0.55M234.3 87.1h0.55M230.0 73.2h0.55M233.7 75.6h0.55M235.7 80.3h0.55M234.4 74.8h0.55M233.6 79.7h0.55M231.5 77.7h0.55M229.4 73.7h0.55M235.4 78.7h0.55M234.6 81.1h0.55M240.3 81.2h0.55M230.1 84.6h0.55M236.9 70.5h0.55M239.9 72.0h0.55M229.1 86.1h0.55M237.7 78.5h0.55M230.2 88.8h0.55M237.2 83.1h0.55M240.3 72.5h0.55M235.5 84.6h0.55M236.4 75.0h0.55M233.2 82.9h0.55M236.4 88.8h0.55M234.9 80.8h0.55M235.0 85.6h0.55M236.8 83.1h0.55M238.2 86.1h0.55M230.1 65.5h0.55M235.7 78.8h0.55M233.3 83.0h0.55M237.1 84.1h0.55M238.9 76.6h0.55M236.5 86.3h0.55M239.7 88.1h0.55M232.3 81.7h0.55M234.2 79.8h0.55M232.3 79.0h0.55M235.7 82.1h0.55M235.8 88.5h0.55M231.5 78.3h0.55M235.3 75.5h0.55M234.1 76.4h0.55M237.5 87.3h0.55M234.6 82.6h0.55M239.3 83.1h0.55M236.3 84.2h0.55M229.4 83.6h0.55M234.9 80.5h0.55M230.8 74.8h0.55M238.7 77.4h0.55M240.2 82.0h0.55M235.4 83.7h0.55M237.0 79.0h0.55M230.8 78.7h0.55M233.7 78.4h0.55M234.7 82.6h0.55M230.5 79.3h0.55M235.8 76.0h0.55M236.5 71.9h0.55M237.6 77.9h0.55M240.6 76.2h0.55M238.2 86.5h0.55M234.3 74.2h0.55M235.8 78.7h0.55M237.5 85.3h0.55M232.1 80.6h0.55M239.9 84.3h0.55M238.5 86.4h0.55M234.8 71.1h0.55M233.4 78.7h0.55M238.6 80.5h0.55M241.4 84.3h0.55M236.2 79.1h0.55M237.8 81.7h0.55M232.5 83.8h0.55" stroke="#000" stroke-width="0.55" stroke-opacity="0.32" fill="none"/>
<path d="M239.0 46.2h0.55M234.4 77.9h0.55M236.1 52.2h0.55M217.6 58.8h0.55M238.4 62.2h0.55M231.8 85.7h0.55M224.1 35.2h0.55M232.5 44.8h0.55M219.3 81.0h0.55M238.9 59.2h0.55M214.4 54.5h0.55M220.0 85.0h0.55M233.5 40.7h0.55M224.5 35.8h0.55M238.5 83.1h0.55M236.8 78.5h0.55M232.4 63.5h0.55M222.8 49.1h0.55M225.2 76.2h0.55M221.9 43.4h0.55M221.4 57.6h0.55M212.4 44.1h0.55M219.8 56.6h0.55M232.9 35.3h0.55M228.3 59.3h0.55M221.9 59.0h0.55M221.8 87.1h0.55M217.4 55.1h0.55M214.3 63.2h0.55M216.6 43.0h0.55M230.7 50.0h0.55M239.9 47.2h0.55M232.6 86.6h0.55M222.4 41.8h0.55M228.9 69.0h0.55M216.0 79.1h0.55M214.5 84.9h0.55M213.9 72.4h0.55M229.0 44.6h0.55M229.6 83.8h0.55M216.7 62.4h0.55M240.3 63.0h0.55M216.2 82.3h0.55M227.3 35.9h0.55M231.5 73.1h0.55M212.9 75.3h0.55M220.1 70.5h0.55M228.0 45.3h0.55M232.3 83.4h0.55M232.5 47.7h0.55M231.8 52.2h0.55M214.2 79.2h0.55M213.7 83.8h0.55M237.8 49.0h0.55M216.4 60.4h0.55M222.9 80.0h0.55M237.2 63.5h0.55M213.3 47.1h0.55M237.7 54.7h0.55M231.6 68.5h0.55M223.6 73.4h0.55M219.2 51.3h0.55M227.6 45.0h0.55M236.7 76.4h0.55M218.1 51.1h0.55M219.4 48.0h0.55M227.0 50.3h0.55M236.3 47.2h0.55M224.5 42.1h0.55M224.3 55.4h0.55M240.9 45.0h0.55M228.0 69.3h0.55M235.6 40.5h0.55M232.2 53.9h0.55M228.4 85.3h0.55M225.0 59.3h0.55M231.6 82.3h0.55M237.0 47.1h0.55M216.3 76.6h0.55M220.1 39.6h0.55" stroke="#000" stroke-width="0.55" stroke-opacity="0.2" fill="none"/>
</g>
<text x="13.1" y="77.0" font-size="5.8" text-anchor="start" font-weight="bold" style="stroke:#fff;stroke-width:1.4px;stroke-opacity:0.85;stroke-linejoin:round" fill="#fff">95%</text>
<text x="13.1" y="77.0" font-size="5.8" text-anchor="start" font-weight="bold">95%</text>
<text x="93.2" y="77.0" font-size="5.8" text-anchor="start" font-weight="bold" style="stroke:#fff;stroke-width:1.4px;stroke-opacity:0.85;stroke-linejoin:round" fill="#fff">44%</text>
<text x="93.2" y="77.0" font-size="5.8" text-anchor="start" font-weight="bold">44%</text>
<text x="173.6" y="77.0" font-size="5.8" text-anchor="start" font-weight="bold" style="stroke:#fff;stroke-width:1.4px;stroke-opacity:0.85;stroke-linejoin:round" fill="#fff">85%</text>
<text x="173.6" y="77.0" font-size="5.8" text-anchor="start" font-weight="bold">85%</text>
<text x="247" y="12.6" font-size="11.5" text-anchor="start" font-weight="bold">B</text>
<line x1="281.00" y1="10.95" x2="281.00" y2="105.50" stroke="#111" stroke-width="0.9"/>
<line x1="281.00" y1="105.50" x2="375.00" y2="105.50" stroke="#111" stroke-width="0.9"/>
<line x1="281.00" y1="105.50" x2="281.00" y2="103.30" stroke="#111" stroke-width="0.7"/>
<text x="281.0" y="112.5" font-size="5.8" text-anchor="middle" font-weight="bold">0</text>
<line x1="299.80" y1="105.50" x2="299.80" y2="103.30" stroke="#111" stroke-width="0.7"/>
<text x="299.8" y="112.5" font-size="5.8" text-anchor="middle" font-weight="bold">1</text>
<line x1="318.60" y1="105.50" x2="318.60" y2="103.30" stroke="#111" stroke-width="0.7"/>
<text x="318.6" y="112.5" font-size="5.8" text-anchor="middle" font-weight="bold">2</text>
<line x1="337.40" y1="105.50" x2="337.40" y2="103.30" stroke="#111" stroke-width="0.7"/>
<text x="337.4" y="112.5" font-size="5.8" text-anchor="middle" font-weight="bold">3</text>
<line x1="356.20" y1="105.50" x2="356.20" y2="103.30" stroke="#111" stroke-width="0.7"/>
<text x="356.2" y="112.5" font-size="5.8" text-anchor="middle" font-weight="bold">4</text>
<line x1="375.00" y1="105.50" x2="375.00" y2="103.30" stroke="#111" stroke-width="0.7"/>
<text x="375.0" y="112.5" font-size="5.8" text-anchor="middle" font-weight="bold">5</text>
<line x1="281.00" y1="105.50" x2="283.20" y2="105.50" stroke="#111" stroke-width="0.7"/>
<text x="278.4" y="107.5" font-size="5.8" text-anchor="end" font-weight="bold">0</text>
<line x1="281.00" y1="86.59" x2="283.20" y2="86.59" stroke="#111" stroke-width="0.7"/>
<text x="278.4" y="88.59" font-size="5.8" text-anchor="end" font-weight="bold">20</text>
<line x1="281.00" y1="67.68" x2="283.20" y2="67.68" stroke="#111" stroke-width="0.7"/>
<text x="278.4" y="69.68" font-size="5.8" text-anchor="end" font-weight="bold">40</text>
<line x1="281.00" y1="48.77" x2="283.20" y2="48.77" stroke="#111" stroke-width="0.7"/>
<text x="278.4" y="50.769999999999996" font-size="5.8" text-anchor="end" font-weight="bold">60</text>
<line x1="281.00" y1="29.86" x2="283.20" y2="29.86" stroke="#111" stroke-width="0.7"/>
<text x="278.4" y="31.86" font-size="5.8" text-anchor="end" font-weight="bold">80</text>
<line x1="281.00" y1="10.95" x2="283.20" y2="10.95" stroke="#111" stroke-width="0.7"/>
<text x="278.4" y="12.950000000000003" font-size="5.8" text-anchor="end" font-weight="bold">100</text>
<text x="266.8" y="57.8" font-size="6.9" font-weight="bold" text-anchor="middle" transform="rotate(-90 266.8 57.8)">Annexin V<tspan font-size="4.5" dy="-2.3">+</tspan><tspan dy="2.3">/PI</tspan><tspan font-size="4.5" dy="-2.3">-</tspan><tspan dy="2.3"> cells (% of total)</tspan></text>
<text x="328.5" y="118.9" font-size="7" text-anchor="middle" font-weight="bold">OSI-027 (µM)</text>
<polyline points="281.00,20.41 290.40,42.15 299.80,56.33 318.60,61.06 375.00,72.41" fill="none" stroke="#111" stroke-width="0.8"/>
<line x1="290.40" y1="35.54" x2="290.40" y2="48.77" stroke="#222" stroke-width="0.6"/>
<line x1="289.10" y1="35.54" x2="291.70" y2="35.54" stroke="#222" stroke-width="0.6"/>
<line x1="289.10" y1="48.77" x2="291.70" y2="48.77" stroke="#222" stroke-width="0.6"/>
<line x1="299.80" y1="48.77" x2="299.80" y2="63.89" stroke="#222" stroke-width="0.6"/>
<line x1="298.50" y1="48.77" x2="301.10" y2="48.77" stroke="#222" stroke-width="0.6"/>
<line x1="298.50" y1="63.89" x2="301.10" y2="63.89" stroke="#222" stroke-width="0.6"/>
<line x1="318.60" y1="55.39" x2="318.60" y2="66.73" stroke="#222" stroke-width="0.6"/>
<line x1="317.30" y1="55.39" x2="319.90" y2="55.39" stroke="#222" stroke-width="0.6"/>
<line x1="317.30" y1="66.73" x2="319.90" y2="66.73" stroke="#222" stroke-width="0.6"/>
<line x1="375.00" y1="64.85" x2="375.00" y2="79.97" stroke="#222" stroke-width="0.6"/>
<line x1="373.70" y1="64.85" x2="376.30" y2="64.85" stroke="#222" stroke-width="0.6"/>
<line x1="373.70" y1="79.97" x2="376.30" y2="79.97" stroke="#222" stroke-width="0.6"/>
<circle cx="281.00" cy="20.41" r="2.6" fill="#fff" stroke="#111" stroke-width="0.8"/>
<circle cx="290.40" cy="42.15" r="2.6" fill="#fff" stroke="#111" stroke-width="0.8"/>
<circle cx="299.80" cy="56.33" r="2.6" fill="#fff" stroke="#111" stroke-width="0.8"/>
<circle cx="318.60" cy="61.06" r="2.6" fill="#fff" stroke="#111" stroke-width="0.8"/>
<circle cx="375.00" cy="72.41" r="2.6" fill="#fff" stroke="#111" stroke-width="0.8"/>
<polyline points="281.00,21.35 290.40,25.13 299.80,33.64 318.60,41.21 375.00,53.50" fill="none" stroke="#111" stroke-width="0.8"/>
<line x1="281.00" y1="18.52" x2="281.00" y2="24.19" stroke="#222" stroke-width="0.6"/>
<line x1="279.70" y1="18.52" x2="282.30" y2="18.52" stroke="#222" stroke-width="0.6"/>
<line x1="279.70" y1="24.19" x2="282.30" y2="24.19" stroke="#222" stroke-width="0.6"/>
<line x1="290.40" y1="23.24" x2="290.40" y2="27.02" stroke="#222" stroke-width="0.6"/>
<line x1="289.10" y1="23.24" x2="291.70" y2="23.24" stroke="#222" stroke-width="0.6"/>
<line x1="289.10" y1="27.02" x2="291.70" y2="27.02" stroke="#222" stroke-width="0.6"/>
<line x1="299.80" y1="30.81" x2="299.80" y2="36.48" stroke="#222" stroke-width="0.6"/>
<line x1="298.50" y1="30.81" x2="301.10" y2="30.81" stroke="#222" stroke-width="0.6"/>
<line x1="298.50" y1="36.48" x2="301.10" y2="36.48" stroke="#222" stroke-width="0.6"/>
<line x1="318.60" y1="36.48" x2="318.60" y2="45.93" stroke="#222" stroke-width="0.6"/>
<line x1="317.30" y1="36.48" x2="319.90" y2="36.48" stroke="#222" stroke-width="0.6"/>
<line x1="317.30" y1="45.93" x2="319.90" y2="45.93" stroke="#222" stroke-width="0.6"/>
<line x1="375.00" y1="49.72" x2="375.00" y2="57.28" stroke="#222" stroke-width="0.6"/>
<line x1="373.70" y1="49.72" x2="376.30" y2="49.72" stroke="#222" stroke-width="0.6"/>
<line x1="373.70" y1="57.28" x2="376.30" y2="57.28" stroke="#222" stroke-width="0.6"/>
<circle cx="281.00" cy="21.35" r="2.3" fill="#000" stroke="#000" stroke-width="0.5"/>
<circle cx="290.40" cy="25.13" r="2.3" fill="#000" stroke="#000" stroke-width="0.5"/>
<circle cx="299.80" cy="33.64" r="2.3" fill="#000" stroke="#000" stroke-width="0.5"/>
<circle cx="318.60" cy="41.21" r="2.3" fill="#000" stroke="#000" stroke-width="0.5"/>
<circle cx="375.00" cy="53.50" r="2.3" fill="#000" stroke="#000" stroke-width="0.5"/>
<rect x="294.4" y="81.3" width="29.4" height="17.0" fill="#fff" stroke="#222" stroke-width="0.7"/>
<circle cx="300.50" cy="86.30" r="2.5" fill="#fff" stroke="#111" stroke-width="0.8"/>
<text x="306.4" y="88.4" font-size="5.9" text-anchor="start" font-weight="bold">Jeko</text>
<circle cx="300.50" cy="94.00" r="2.3" fill="#000" stroke="#000" stroke-width="0.5"/>
<text x="306.4" y="96.1" font-size="5.9" text-anchor="start" font-weight="bold">Mino</text>
<text x="374.3" y="12.6" font-size="11.5" text-anchor="start" font-weight="bold">C</text>
<line x1="416.70" y1="10.95" x2="416.70" y2="105.50" stroke="#111" stroke-width="0.9"/>
<line x1="416.70" y1="105.50" x2="511.10" y2="105.50" stroke="#111" stroke-width="0.9"/>
<line x1="416.70" y1="105.50" x2="416.70" y2="103.30" stroke="#111" stroke-width="0.7"/>
<text x="416.7" y="112.5" font-size="5.8" text-anchor="middle" font-weight="bold">0</text>
<line x1="435.58" y1="105.50" x2="435.58" y2="103.30" stroke="#111" stroke-width="0.7"/>
<text x="435.58" y="112.5" font-size="5.8" text-anchor="middle" font-weight="bold">10</text>
<line x1="454.46" y1="105.50" x2="454.46" y2="103.30" stroke="#111" stroke-width="0.7"/>
<text x="454.46" y="112.5" font-size="5.8" text-anchor="middle" font-weight="bold">20</text>
<line x1="473.34" y1="105.50" x2="473.34" y2="103.30" stroke="#111" stroke-width="0.7"/>
<text x="473.34" y="112.5" font-size="5.8" text-anchor="middle" font-weight="bold">30</text>
<line x1="492.22" y1="105.50" x2="492.22" y2="103.30" stroke="#111" stroke-width="0.7"/>
<text x="492.21999999999997" y="112.5" font-size="5.8" text-anchor="middle" font-weight="bold">40</text>
<line x1="511.10" y1="105.50" x2="511.10" y2="103.30" stroke="#111" stroke-width="0.7"/>
<text x="511.09999999999997" y="112.5" font-size="5.8" text-anchor="middle" font-weight="bold">50</text>
<line x1="416.70" y1="105.50" x2="418.90" y2="105.50" stroke="#111" stroke-width="0.7"/>
<text x="414.09999999999997" y="107.5" font-size="5.8" text-anchor="end" font-weight="bold">0</text>
<line x1="416.70" y1="86.59" x2="418.90" y2="86.59" stroke="#111" stroke-width="0.7"/>
<text x="414.09999999999997" y="88.59" font-size="5.8" text-anchor="end" font-weight="bold">20</text>
<line x1="416.70" y1="67.68" x2="418.90" y2="67.68" stroke="#111" stroke-width="0.7"/>
<text x="414.09999999999997" y="69.68" font-size="5.8" text-anchor="end" font-weight="bold">40</text>
<line x1="416.70" y1="48.77" x2="418.90" y2="48.77" stroke="#111" stroke-width="0.7"/>
<text x="414.09999999999997" y="50.769999999999996" font-size="5.8" text-anchor="end" font-weight="bold">60</text>
<line x1="416.70" y1="29.86" x2="418.90" y2="29.86" stroke="#111" stroke-width="0.7"/>
<text x="414.09999999999997" y="31.86" font-size="5.8" text-anchor="end" font-weight="bold">80</text>
<line x1="416.70" y1="10.95" x2="418.90" y2="10.95" stroke="#111" stroke-width="0.7"/>
<text x="414.09999999999997" y="12.950000000000003" font-size="5.8" text-anchor="end" font-weight="bold">100</text>
<text x="401.8" y="58.4" font-size="6.9" font-weight="bold" text-anchor="middle" transform="rotate(-90 401.8 58.4)">Annexin V<tspan font-size="4.5" dy="-2.3">+</tspan><tspan dy="2.3">/PI</tspan><tspan font-size="4.5" dy="-2.3">-</tspan><tspan dy="2.3"> cells (% of total)</tspan></text>
<text x="465.5" y="118.9" font-size="7" text-anchor="middle" font-weight="bold">Rapamycin (nM)</text>
<polyline points="416.70,23.24 426.14,26.08 435.58,27.50 454.46,27.97 511.10,27.97" fill="none" stroke="#111" stroke-width="0.8"/>
<line x1="426.14" y1="20.41" x2="426.14" y2="31.75" stroke="#222" stroke-width="0.6"/>
<line x1="424.84" y1="20.41" x2="427.44" y2="20.41" stroke="#222" stroke-width="0.6"/>
<line x1="424.84" y1="31.75" x2="427.44" y2="31.75" stroke="#222" stroke-width="0.6"/>
<line x1="435.58" y1="20.88" x2="435.58" y2="34.11" stroke="#222" stroke-width="0.6"/>
<line x1="434.28" y1="20.88" x2="436.88" y2="20.88" stroke="#222" stroke-width="0.6"/>
<line x1="434.28" y1="34.11" x2="436.88" y2="34.11" stroke="#222" stroke-width="0.6"/>
<line x1="454.46" y1="21.35" x2="454.46" y2="34.58" stroke="#222" stroke-width="0.6"/>
<line x1="453.16" y1="21.35" x2="455.76" y2="21.35" stroke="#222" stroke-width="0.6"/>
<line x1="453.16" y1="34.58" x2="455.76" y2="34.58" stroke="#222" stroke-width="0.6"/>
<line x1="511.10" y1="21.35" x2="511.10" y2="34.58" stroke="#222" stroke-width="0.6"/>
<line x1="509.80" y1="21.35" x2="512.40" y2="21.35" stroke="#222" stroke-width="0.6"/>
<line x1="509.80" y1="34.58" x2="512.40" y2="34.58" stroke="#222" stroke-width="0.6"/>
<circle cx="416.70" cy="23.24" r="2.6" fill="#fff" stroke="#111" stroke-width="0.8"/>
<circle cx="426.14" cy="26.08" r="2.6" fill="#fff" stroke="#111" stroke-width="0.8"/>
<circle cx="435.58" cy="27.50" r="2.6" fill="#fff" stroke="#111" stroke-width="0.8"/>
<circle cx="454.46" cy="27.97" r="2.6" fill="#fff" stroke="#111" stroke-width="0.8"/>
<circle cx="511.10" cy="27.97" r="2.6" fill="#fff" stroke="#111" stroke-width="0.8"/>
<polyline points="416.70,22.77 426.14,22.77 435.58,23.24 454.46,24.19 511.10,24.19" fill="none" stroke="#111" stroke-width="0.8"/>
<line x1="416.70" y1="20.88" x2="416.70" y2="24.66" stroke="#222" stroke-width="0.6"/>
<line x1="415.40" y1="20.88" x2="418.00" y2="20.88" stroke="#222" stroke-width="0.6"/>
<line x1="415.40" y1="24.66" x2="418.00" y2="24.66" stroke="#222" stroke-width="0.6"/>
<line x1="426.14" y1="20.88" x2="426.14" y2="24.66" stroke="#222" stroke-width="0.6"/>
<line x1="424.84" y1="20.88" x2="427.44" y2="20.88" stroke="#222" stroke-width="0.6"/>
<line x1="424.84" y1="24.66" x2="427.44" y2="24.66" stroke="#222" stroke-width="0.6"/>
<line x1="435.58" y1="21.35" x2="435.58" y2="25.13" stroke="#222" stroke-width="0.6"/>
<line x1="434.28" y1="21.35" x2="436.88" y2="21.35" stroke="#222" stroke-width="0.6"/>
<line x1="434.28" y1="25.13" x2="436.88" y2="25.13" stroke="#222" stroke-width="0.6"/>
<line x1="454.46" y1="21.35" x2="454.46" y2="27.02" stroke="#222" stroke-width="0.6"/>
<line x1="453.16" y1="21.35" x2="455.76" y2="21.35" stroke="#222" stroke-width="0.6"/>
<line x1="453.16" y1="27.02" x2="455.76" y2="27.02" stroke="#222" stroke-width="0.6"/>
<line x1="511.10" y1="21.35" x2="511.10" y2="27.02" stroke="#222" stroke-width="0.6"/>
<line x1="509.80" y1="21.35" x2="512.40" y2="21.35" stroke="#222" stroke-width="0.6"/>
<line x1="509.80" y1="27.02" x2="512.40" y2="27.02" stroke="#222" stroke-width="0.6"/>
<circle cx="416.70" cy="22.77" r="2.3" fill="#000" stroke="#000" stroke-width="0.5"/>
<circle cx="426.14" cy="22.77" r="2.3" fill="#000" stroke="#000" stroke-width="0.5"/>
<circle cx="435.58" cy="23.24" r="2.3" fill="#000" stroke="#000" stroke-width="0.5"/>
<circle cx="454.46" cy="24.19" r="2.3" fill="#000" stroke="#000" stroke-width="0.5"/>
<circle cx="511.10" cy="24.19" r="2.3" fill="#000" stroke="#000" stroke-width="0.5"/>
<rect x="427" y="81.3" width="29" height="17.2" fill="#fff" stroke="#222" stroke-width="0.7"/>
<circle cx="433.00" cy="85.90" r="2.6" fill="#fff" stroke="#111" stroke-width="0.8"/>
<text x="439.2" y="88.0" font-size="5.9" text-anchor="start" font-weight="bold">Jeko</text>
<circle cx="433.00" cy="93.30" r="2.3" fill="#000" stroke="#000" stroke-width="0.5"/>
<text x="439.2" y="95.4" font-size="5.9" text-anchor="start" font-weight="bold">Mino</text>
<text x="2.5" y="146.3" font-size="11.5" text-anchor="start" font-weight="bold">D</text>
<text x="47.6" y="145.3" font-size="6.9" text-anchor="start" font-weight="bold">Jurkat 48 h</text>
<text x="18.0" y="171.3" font-size="6.8" text-anchor="middle" font-weight="bold" transform="rotate(-90 18.0 171.3)">Cell number</text>
<line x1="22.40" y1="141.60" x2="22.40" y2="202.00" stroke="#111" stroke-width="1.0"/>
<line x1="22.40" y1="202.00" x2="100.40" y2="189.85" stroke="#222" stroke-width="0.55"/>
<line x1="26.40" y1="205.76" x2="104.40" y2="193.61" stroke="#222" stroke-width="0.55"/>
<line x1="30.40" y1="209.53" x2="108.40" y2="197.38" stroke="#222" stroke-width="0.55"/>
<line x1="34.40" y1="213.29" x2="112.40" y2="201.14" stroke="#222" stroke-width="0.55"/>
<line x1="38.40" y1="217.05" x2="116.40" y2="204.90" stroke="#222" stroke-width="0.55"/>
<line x1="42.40" y1="220.81" x2="120.40" y2="208.66" stroke="#222" stroke-width="0.55"/>
<line x1="46.40" y1="224.57" x2="124.40" y2="212.42" stroke="#222" stroke-width="0.55"/>
<line x1="50.40" y1="228.34" x2="128.40" y2="216.19" stroke="#222" stroke-width="0.55"/>
<line x1="54.40" y1="232.10" x2="132.40" y2="219.95" stroke="#222" stroke-width="0.55"/>
<line x1="22.40" y1="202.00" x2="54.40" y2="232.10" stroke="#111" stroke-width="0.9"/>
<polygon points="39.30,217.90 43.46,221.01 45.70,221.42 46.05,211.42 46.15,197.42 46.40,193.42 46.94,190.42 46.96,169.30 47.64,169.30 47.66,190.42 48.25,193.42 48.50,198.42 48.75,213.42 49.20,220.42 50.34,228.28 47.30,225.42" fill="#000"/>
<text x="53.8" y="232.8" font-size="6.9" text-anchor="start" font-weight="bold" transform="rotate(41 53.8 232.8)" dominant-baseline="hanging">Diluent</text>
<line x1="48.40" y1="197.95" x2="80.40" y2="228.05" stroke="#111" stroke-width="0.9"/>
<polygon points="54.90,204.06 59.70,207.78 64.50,211.29 68.66,214.01 70.90,214.11 71.25,206.62 71.35,201.62 71.60,197.62 72.14,194.62 72.16,165.00 72.84,165.00 72.86,194.62 73.45,197.62 73.70,202.62 73.95,208.62 74.40,215.62 75.54,223.48 72.50,220.62" fill="#000"/>
<text x="82.8" y="229.0" font-size="6.9" text-anchor="start" font-weight="bold" transform="rotate(41 82.8 229.0)" dominant-baseline="hanging">2.5 µM</text>
<line x1="74.40" y1="193.90" x2="106.40" y2="224.00" stroke="#111" stroke-width="0.9"/>
<polygon points="78.46,197.72 82.30,200.13 86.14,201.74 88.70,202.95 91.26,206.16 93.50,208.27 95.74,208.17 97.02,206.68 97.05,202.38 97.15,197.38 97.40,193.38 97.94,190.38 97.96,161.30 98.64,161.30 98.66,190.38 99.25,193.38 99.50,198.38 99.75,204.38 100.20,211.38 101.34,219.24 98.30,216.38" fill="#000"/>
<text x="107.3" y="225.0" font-size="6.9" text-anchor="start" font-weight="bold" transform="rotate(41 107.3 225.0)" dominant-baseline="hanging">5 µM</text>
<line x1="100.40" y1="189.85" x2="132.40" y2="219.95" stroke="#111" stroke-width="0.9"/>
<polygon points="99.52,189.02 104.00,192.24 108.80,195.15 112.32,196.26 115.20,196.77 117.76,196.78 120.00,196.79 121.60,194.79 121.90,194.30 122.20,185.30 122.50,177.30 122.80,167.30 122.86,156.50 123.54,156.50 123.65,167.30 124.00,179.30 124.40,191.30 124.80,201.30 125.20,207.30 126.24,214.16 123.20,211.30" fill="#000"/>
<text x="132.5" y="220.5" font-size="6.9" text-anchor="start" font-weight="bold" transform="rotate(41 132.5 220.5)" dominant-baseline="hanging">10 µM</text>
<line x1="23.50" y1="208.00" x2="38.50" y2="222.00" stroke="#111" stroke-width="0.8"/>
<polygon points="21.5,206.2 25.31,207.34 23.03,209.86" fill="#000"/>
<polygon points="40.5,223.8 36.69,222.64 38.97,220.12" fill="#000"/>
<text x="21.5" y="219.0" font-size="4.8" text-anchor="start" font-weight="bold" transform="rotate(-12 21.5 219.0)">&lt;2n</text>
<text x="31.3" y="226.5" font-size="4.6" text-anchor="start" font-weight="bold" transform="rotate(-8 31.3 226.5)">2n</text>
<text x="35.0" y="231.0" font-size="4.6" text-anchor="start" font-weight="bold" transform="rotate(-8 35.0 231.0)">4n</text>
<text x="13.0" y="214.3" font-size="7.2" text-anchor="start" font-weight="bold" transform="rotate(41.5 13.0 214.3)" dominant-baseline="hanging">DNA content</text>
<text x="161" y="146.2" font-size="11.5" text-anchor="start" font-weight="bold">E</text>
<line x1="194.30" y1="144.25" x2="194.30" y2="238.00" stroke="#111" stroke-width="0.9"/>
<line x1="194.30" y1="238.00" x2="288.05" y2="238.00" stroke="#111" stroke-width="0.9"/>
<line x1="194.30" y1="238.00" x2="194.30" y2="235.80" stroke="#111" stroke-width="0.7"/>
<text x="194.3" y="245.0" font-size="5.8" text-anchor="middle" font-weight="bold">0</text>
<line x1="213.05" y1="238.00" x2="213.05" y2="235.80" stroke="#111" stroke-width="0.7"/>
<text x="213.05" y="245.0" font-size="5.8" text-anchor="middle" font-weight="bold">2</text>
<line x1="231.80" y1="238.00" x2="231.80" y2="235.80" stroke="#111" stroke-width="0.7"/>
<text x="231.8" y="245.0" font-size="5.8" text-anchor="middle" font-weight="bold">4</text>
<line x1="250.55" y1="238.00" x2="250.55" y2="235.80" stroke="#111" stroke-width="0.7"/>
<text x="250.55" y="245.0" font-size="5.8" text-anchor="middle" font-weight="bold">6</text>
<line x1="269.30" y1="238.00" x2="269.30" y2="235.80" stroke="#111" stroke-width="0.7"/>
<text x="269.3" y="245.0" font-size="5.8" text-anchor="middle" font-weight="bold">8</text>
<line x1="288.05" y1="238.00" x2="288.05" y2="235.80" stroke="#111" stroke-width="0.7"/>
<text x="288.05" y="245.0" font-size="5.8" text-anchor="middle" font-weight="bold">10</text>
<line x1="194.30" y1="238.00" x2="196.50" y2="238.00" stroke="#111" stroke-width="0.7"/>
<text x="191.70000000000002" y="240.0" font-size="5.8" text-anchor="end" font-weight="bold">0</text>
<line x1="194.30" y1="219.25" x2="196.50" y2="219.25" stroke="#111" stroke-width="0.7"/>
<text x="191.70000000000002" y="221.25" font-size="5.8" text-anchor="end" font-weight="bold">10</text>
<line x1="194.30" y1="200.50" x2="196.50" y2="200.50" stroke="#111" stroke-width="0.7"/>
<text x="191.70000000000002" y="202.5" font-size="5.8" text-anchor="end" font-weight="bold">20</text>
<line x1="194.30" y1="181.75" x2="196.50" y2="181.75" stroke="#111" stroke-width="0.7"/>
<text x="191.70000000000002" y="183.75" font-size="5.8" text-anchor="end" font-weight="bold">30</text>
<line x1="194.30" y1="163.00" x2="196.50" y2="163.00" stroke="#111" stroke-width="0.7"/>
<text x="191.70000000000002" y="165.0" font-size="5.8" text-anchor="end" font-weight="bold">40</text>
<line x1="194.30" y1="144.25" x2="196.50" y2="144.25" stroke="#111" stroke-width="0.7"/>
<text x="191.70000000000002" y="146.25" font-size="5.8" text-anchor="end" font-weight="bold">50</text>
<text x="201" y="148.2" font-size="7" text-anchor="start" font-weight="bold">Jeko</text>
<text x="181.9" y="189.0" font-size="7" text-anchor="middle" font-weight="bold" transform="rotate(-90 181.9 189.0)">Subdiploid cells (% of total)</text>
<text x="242" y="253.4" font-size="7" text-anchor="middle" font-weight="bold">OSI-027 (µM)</text>
<polyline points="194.30,219.25 197.11,217.38 199.93,213.62 206.02,215.50 217.74,215.50 241.18,210.81 288.05,213.62" fill="none" stroke="#111" stroke-width="0.8"/>
<line x1="194.30" y1="217.38" x2="194.30" y2="221.12" stroke="#222" stroke-width="0.6"/>
<line x1="193.00" y1="217.38" x2="195.60" y2="217.38" stroke="#222" stroke-width="0.6"/>
<line x1="193.00" y1="221.12" x2="195.60" y2="221.12" stroke="#222" stroke-width="0.6"/>
<line x1="197.11" y1="215.50" x2="197.11" y2="219.25" stroke="#222" stroke-width="0.6"/>
<line x1="195.81" y1="215.50" x2="198.41" y2="215.50" stroke="#222" stroke-width="0.6"/>
<line x1="195.81" y1="219.25" x2="198.41" y2="219.25" stroke="#222" stroke-width="0.6"/>
<line x1="199.93" y1="211.75" x2="199.93" y2="215.50" stroke="#222" stroke-width="0.6"/>
<line x1="198.62" y1="211.75" x2="201.23" y2="211.75" stroke="#222" stroke-width="0.6"/>
<line x1="198.62" y1="215.50" x2="201.23" y2="215.50" stroke="#222" stroke-width="0.6"/>
<line x1="206.02" y1="213.62" x2="206.02" y2="217.38" stroke="#222" stroke-width="0.6"/>
<line x1="204.72" y1="213.62" x2="207.32" y2="213.62" stroke="#222" stroke-width="0.6"/>
<line x1="204.72" y1="217.38" x2="207.32" y2="217.38" stroke="#222" stroke-width="0.6"/>
<line x1="217.74" y1="213.62" x2="217.74" y2="217.38" stroke="#222" stroke-width="0.6"/>
<line x1="216.44" y1="213.62" x2="219.04" y2="213.62" stroke="#222" stroke-width="0.6"/>
<line x1="216.44" y1="217.38" x2="219.04" y2="217.38" stroke="#222" stroke-width="0.6"/>
<line x1="241.18" y1="205.19" x2="241.18" y2="216.44" stroke="#222" stroke-width="0.6"/>
<line x1="239.88" y1="205.19" x2="242.48" y2="205.19" stroke="#222" stroke-width="0.6"/>
<line x1="239.88" y1="216.44" x2="242.48" y2="216.44" stroke="#222" stroke-width="0.6"/>
<line x1="288.05" y1="211.75" x2="288.05" y2="215.50" stroke="#222" stroke-width="0.6"/>
<line x1="286.75" y1="211.75" x2="289.35" y2="211.75" stroke="#222" stroke-width="0.6"/>
<line x1="286.75" y1="215.50" x2="289.35" y2="215.50" stroke="#222" stroke-width="0.6"/>
<circle cx="194.30" cy="219.25" r="2.7" fill="#fff" stroke="#111" stroke-width="0.8"/>
<circle cx="197.11" cy="217.38" r="2.7" fill="#fff" stroke="#111" stroke-width="0.8"/>
<circle cx="199.93" cy="213.62" r="2.7" fill="#fff" stroke="#111" stroke-width="0.8"/>
<circle cx="206.02" cy="215.50" r="2.7" fill="#fff" stroke="#111" stroke-width="0.8"/>
<circle cx="217.74" cy="215.50" r="2.7" fill="#fff" stroke="#111" stroke-width="0.8"/>
<circle cx="241.18" cy="210.81" r="2.7" fill="#fff" stroke="#111" stroke-width="0.8"/>
<circle cx="288.05" cy="213.62" r="2.7" fill="#fff" stroke="#111" stroke-width="0.8"/>
<polyline points="194.30,223.00 197.11,221.12 199.93,219.25 206.02,215.50 217.74,192.06 241.18,186.44 288.05,181.75" fill="none" stroke="#111" stroke-width="0.8"/>
<line x1="194.30" y1="221.12" x2="194.30" y2="224.88" stroke="#222" stroke-width="0.6"/>
<line x1="193.00" y1="221.12" x2="195.60" y2="221.12" stroke="#222" stroke-width="0.6"/>
<line x1="193.00" y1="224.88" x2="195.60" y2="224.88" stroke="#222" stroke-width="0.6"/>
<line x1="197.11" y1="219.25" x2="197.11" y2="223.00" stroke="#222" stroke-width="0.6"/>
<line x1="195.81" y1="219.25" x2="198.41" y2="219.25" stroke="#222" stroke-width="0.6"/>
<line x1="195.81" y1="223.00" x2="198.41" y2="223.00" stroke="#222" stroke-width="0.6"/>
<line x1="199.93" y1="217.38" x2="199.93" y2="221.12" stroke="#222" stroke-width="0.6"/>
<line x1="198.62" y1="217.38" x2="201.23" y2="217.38" stroke="#222" stroke-width="0.6"/>
<line x1="198.62" y1="221.12" x2="201.23" y2="221.12" stroke="#222" stroke-width="0.6"/>
<line x1="206.02" y1="213.62" x2="206.02" y2="217.38" stroke="#222" stroke-width="0.6"/>
<line x1="204.72" y1="213.62" x2="207.32" y2="213.62" stroke="#222" stroke-width="0.6"/>
<line x1="204.72" y1="217.38" x2="207.32" y2="217.38" stroke="#222" stroke-width="0.6"/>
<line x1="217.74" y1="186.44" x2="217.74" y2="197.69" stroke="#222" stroke-width="0.6"/>
<line x1="216.44" y1="186.44" x2="219.04" y2="186.44" stroke="#222" stroke-width="0.6"/>
<line x1="216.44" y1="197.69" x2="219.04" y2="197.69" stroke="#222" stroke-width="0.6"/>
<line x1="241.18" y1="178.94" x2="241.18" y2="193.94" stroke="#222" stroke-width="0.6"/>
<line x1="239.88" y1="178.94" x2="242.48" y2="178.94" stroke="#222" stroke-width="0.6"/>
<line x1="239.88" y1="193.94" x2="242.48" y2="193.94" stroke="#222" stroke-width="0.6"/>
<line x1="288.05" y1="178.00" x2="288.05" y2="185.50" stroke="#222" stroke-width="0.6"/>
<line x1="286.75" y1="178.00" x2="289.35" y2="178.00" stroke="#222" stroke-width="0.6"/>
<line x1="286.75" y1="185.50" x2="289.35" y2="185.50" stroke="#222" stroke-width="0.6"/>
<polygon points="191.60,220.84 197.00,220.84 194.30,225.97" fill="#fff" stroke="#111" stroke-width="0.8"/>
<polygon points="194.41,218.97 199.81,218.97 197.11,224.09" fill="#fff" stroke="#111" stroke-width="0.8"/>
<polygon points="197.23,217.09 202.62,217.09 199.93,222.22" fill="#fff" stroke="#111" stroke-width="0.8"/>
<polygon points="203.32,213.34 208.72,213.34 206.02,218.47" fill="#fff" stroke="#111" stroke-width="0.8"/>
<polygon points="215.04,189.90 220.44,189.90 217.74,195.03" fill="#fff" stroke="#111" stroke-width="0.8"/>
<polygon points="238.48,184.28 243.88,184.28 241.18,189.41" fill="#fff" stroke="#111" stroke-width="0.8"/>
<polygon points="285.35,179.59 290.75,179.59 288.05,184.72" fill="#fff" stroke="#111" stroke-width="0.8"/>
<polyline points="194.30,224.88 197.11,223.94 199.93,222.06 206.02,212.69 217.74,203.31 241.18,200.50 288.05,196.75" fill="none" stroke="#111" stroke-width="0.8"/>
<line x1="194.30" y1="223.00" x2="194.30" y2="226.75" stroke="#222" stroke-width="0.6"/>
<line x1="193.00" y1="223.00" x2="195.60" y2="223.00" stroke="#222" stroke-width="0.6"/>
<line x1="193.00" y1="226.75" x2="195.60" y2="226.75" stroke="#222" stroke-width="0.6"/>
<line x1="197.11" y1="222.06" x2="197.11" y2="225.81" stroke="#222" stroke-width="0.6"/>
<line x1="195.81" y1="222.06" x2="198.41" y2="222.06" stroke="#222" stroke-width="0.6"/>
<line x1="195.81" y1="225.81" x2="198.41" y2="225.81" stroke="#222" stroke-width="0.6"/>
<line x1="199.93" y1="220.19" x2="199.93" y2="223.94" stroke="#222" stroke-width="0.6"/>
<line x1="198.62" y1="220.19" x2="201.23" y2="220.19" stroke="#222" stroke-width="0.6"/>
<line x1="198.62" y1="223.94" x2="201.23" y2="223.94" stroke="#222" stroke-width="0.6"/>
<line x1="206.02" y1="210.81" x2="206.02" y2="214.56" stroke="#222" stroke-width="0.6"/>
<line x1="204.72" y1="210.81" x2="207.32" y2="210.81" stroke="#222" stroke-width="0.6"/>
<line x1="204.72" y1="214.56" x2="207.32" y2="214.56" stroke="#222" stroke-width="0.6"/>
<line x1="217.74" y1="200.50" x2="217.74" y2="206.12" stroke="#222" stroke-width="0.6"/>
<line x1="216.44" y1="200.50" x2="219.04" y2="200.50" stroke="#222" stroke-width="0.6"/>
<line x1="216.44" y1="206.12" x2="219.04" y2="206.12" stroke="#222" stroke-width="0.6"/>
<line x1="241.18" y1="198.62" x2="241.18" y2="202.38" stroke="#222" stroke-width="0.6"/>
<line x1="239.88" y1="198.62" x2="242.48" y2="198.62" stroke="#222" stroke-width="0.6"/>
<line x1="239.88" y1="202.38" x2="242.48" y2="202.38" stroke="#222" stroke-width="0.6"/>
<line x1="288.05" y1="193.00" x2="288.05" y2="200.50" stroke="#222" stroke-width="0.6"/>
<line x1="286.75" y1="193.00" x2="289.35" y2="193.00" stroke="#222" stroke-width="0.6"/>
<line x1="286.75" y1="200.50" x2="289.35" y2="200.50" stroke="#222" stroke-width="0.6"/>
<circle cx="194.30" cy="224.88" r="2.3" fill="#000" stroke="#000" stroke-width="0.5"/>
<circle cx="197.11" cy="223.94" r="2.3" fill="#000" stroke="#000" stroke-width="0.5"/>
<circle cx="199.93" cy="222.06" r="2.3" fill="#000" stroke="#000" stroke-width="0.5"/>
<circle cx="206.02" cy="212.69" r="2.3" fill="#000" stroke="#000" stroke-width="0.5"/>
<circle cx="217.74" cy="203.31" r="2.3" fill="#000" stroke="#000" stroke-width="0.5"/>
<circle cx="241.18" cy="200.50" r="2.3" fill="#000" stroke="#000" stroke-width="0.5"/>
<circle cx="288.05" cy="196.75" r="2.3" fill="#000" stroke="#000" stroke-width="0.5"/>
<polyline points="194.30,224.88 197.11,223.94 199.93,222.06 206.02,212.69 217.74,178.00 241.18,172.38 288.05,162.44" fill="none" stroke="#111" stroke-width="0.8"/>
<line x1="194.30" y1="222.06" x2="194.30" y2="227.69" stroke="#222" stroke-width="0.6"/>
<line x1="193.00" y1="222.06" x2="195.60" y2="222.06" stroke="#222" stroke-width="0.6"/>
<line x1="193.00" y1="227.69" x2="195.60" y2="227.69" stroke="#222" stroke-width="0.6"/>
<line x1="197.11" y1="222.06" x2="197.11" y2="225.81" stroke="#222" stroke-width="0.6"/>
<line x1="195.81" y1="222.06" x2="198.41" y2="222.06" stroke="#222" stroke-width="0.6"/>
<line x1="195.81" y1="225.81" x2="198.41" y2="225.81" stroke="#222" stroke-width="0.6"/>
<line x1="199.93" y1="220.19" x2="199.93" y2="223.94" stroke="#222" stroke-width="0.6"/>
<line x1="198.62" y1="220.19" x2="201.23" y2="220.19" stroke="#222" stroke-width="0.6"/>
<line x1="198.62" y1="223.94" x2="201.23" y2="223.94" stroke="#222" stroke-width="0.6"/>
<line x1="206.02" y1="210.81" x2="206.02" y2="214.56" stroke="#222" stroke-width="0.6"/>
<line x1="204.72" y1="210.81" x2="207.32" y2="210.81" stroke="#222" stroke-width="0.6"/>
<line x1="204.72" y1="214.56" x2="207.32" y2="214.56" stroke="#222" stroke-width="0.6"/>
<line x1="217.74" y1="173.31" x2="217.74" y2="182.69" stroke="#222" stroke-width="0.6"/>
<line x1="216.44" y1="173.31" x2="219.04" y2="173.31" stroke="#222" stroke-width="0.6"/>
<line x1="216.44" y1="182.69" x2="219.04" y2="182.69" stroke="#222" stroke-width="0.6"/>
<line x1="241.18" y1="162.06" x2="241.18" y2="182.69" stroke="#222" stroke-width="0.6"/>
<line x1="239.88" y1="162.06" x2="242.48" y2="162.06" stroke="#222" stroke-width="0.6"/>
<line x1="239.88" y1="182.69" x2="242.48" y2="182.69" stroke="#222" stroke-width="0.6"/>
<line x1="288.05" y1="157.75" x2="288.05" y2="167.12" stroke="#222" stroke-width="0.6"/>
<line x1="286.75" y1="157.75" x2="289.35" y2="157.75" stroke="#222" stroke-width="0.6"/>
<line x1="286.75" y1="167.12" x2="289.35" y2="167.12" stroke="#222" stroke-width="0.6"/>
<polygon points="191.90,222.96 196.70,222.96 194.30,227.51" fill="#000" stroke="#000" stroke-width="0.6"/>
<polygon points="194.71,222.02 199.51,222.02 197.11,226.58" fill="#000" stroke="#000" stroke-width="0.6"/>
<polygon points="197.53,220.14 202.33,220.14 199.93,224.70" fill="#000" stroke="#000" stroke-width="0.6"/>
<polygon points="203.62,210.77 208.42,210.77 206.02,215.33" fill="#000" stroke="#000" stroke-width="0.6"/>
<polygon points="215.34,176.08 220.14,176.08 217.74,180.64" fill="#000" stroke="#000" stroke-width="0.6"/>
<polygon points="238.78,170.46 243.58,170.46 241.18,175.01" fill="#000" stroke="#000" stroke-width="0.6"/>
<polygon points="285.65,160.52 290.45,160.52 288.05,165.08" fill="#000" stroke="#000" stroke-width="0.6"/>
<rect x="296.0" y="203.2" width="20.5" height="28.8" fill="#fff" stroke="#222" stroke-width="0.7"/>
<circle cx="300.80" cy="207.80" r="2.5" fill="#fff" stroke="#111" stroke-width="0.8"/>
<text x="305.7" y="209.95000000000002" font-size="6.0" text-anchor="start" font-weight="bold">1 d</text>
<circle cx="300.80" cy="214.20" r="2.5" fill="#000" stroke="#000" stroke-width="0.5"/>
<text x="305.7" y="216.35" font-size="6.0" text-anchor="start" font-weight="bold">2 d</text>
<polygon points="298.80,218.80 302.80,218.80 300.80,222.60" fill="#fff" stroke="#111" stroke-width="0.8"/>
<text x="305.7" y="222.55" font-size="6.0" text-anchor="start" font-weight="bold">3 d</text>
<polygon points="298.80,225.40 302.80,225.40 300.80,229.20" fill="#000" stroke="#000" stroke-width="0.6"/>
<text x="305.7" y="229.15" font-size="6.0" text-anchor="start" font-weight="bold">4 d</text>
<text x="328.7" y="146.8" font-size="11.5" text-anchor="start" font-weight="bold">F</text>
<line x1="358.20" y1="145.10" x2="358.20" y2="238.30" stroke="#111" stroke-width="0.9"/>
<line x1="358.20" y1="238.30" x2="452.20" y2="238.30" stroke="#111" stroke-width="0.9"/>
<line x1="358.20" y1="238.30" x2="358.20" y2="236.10" stroke="#111" stroke-width="0.7"/>
<text x="358.2" y="245.3" font-size="5.8" text-anchor="middle" font-weight="bold">0</text>
<line x1="381.70" y1="238.30" x2="381.70" y2="236.10" stroke="#111" stroke-width="0.7"/>
<text x="381.7" y="245.3" font-size="5.8" text-anchor="middle" font-weight="bold">5</text>
<line x1="405.20" y1="238.30" x2="405.20" y2="236.10" stroke="#111" stroke-width="0.7"/>
<text x="405.2" y="245.3" font-size="5.8" text-anchor="middle" font-weight="bold">10</text>
<line x1="428.70" y1="238.30" x2="428.70" y2="236.10" stroke="#111" stroke-width="0.7"/>
<text x="428.7" y="245.3" font-size="5.8" text-anchor="middle" font-weight="bold">15</text>
<line x1="358.20" y1="238.30" x2="360.40" y2="238.30" stroke="#111" stroke-width="0.7"/>
<text x="355.59999999999997" y="240.3" font-size="5.8" text-anchor="end" font-weight="bold">0</text>
<line x1="358.20" y1="215.00" x2="360.40" y2="215.00" stroke="#111" stroke-width="0.7"/>
<text x="355.59999999999997" y="217.0" font-size="5.8" text-anchor="end" font-weight="bold">20</text>
<line x1="358.20" y1="191.70" x2="360.40" y2="191.70" stroke="#111" stroke-width="0.7"/>
<text x="355.59999999999997" y="193.70000000000002" font-size="5.8" text-anchor="end" font-weight="bold">40</text>
<line x1="358.20" y1="168.40" x2="360.40" y2="168.40" stroke="#111" stroke-width="0.7"/>
<text x="355.59999999999997" y="170.4" font-size="5.8" text-anchor="end" font-weight="bold">60</text>
<line x1="358.20" y1="145.10" x2="360.40" y2="145.10" stroke="#111" stroke-width="0.7"/>
<text x="355.59999999999997" y="147.10000000000002" font-size="5.8" text-anchor="end" font-weight="bold">80</text>
<text x="365" y="149.5" font-size="7" text-anchor="start" font-weight="bold">SeAx</text>
<text x="346.8" y="190.6" font-size="7" text-anchor="middle" font-weight="bold" transform="rotate(-90 346.8 190.6)">Subdiploid cells (% of total)</text>
<text x="406" y="254.6" font-size="7" text-anchor="middle" font-weight="bold">OSI-027 (µM)</text>
<polyline points="358.20,234.22 359.61,233.06 361.02,231.31 364.07,228.98 369.95,221.99 381.70,210.34 405.20,198.69 452.20,193.80" fill="none" stroke="#111" stroke-width="0.8"/>
<line x1="358.20" y1="233.06" x2="358.20" y2="235.39" stroke="#222" stroke-width="0.6"/>
<line x1="356.90" y1="233.06" x2="359.50" y2="233.06" stroke="#222" stroke-width="0.6"/>
<line x1="356.90" y1="235.39" x2="359.50" y2="235.39" stroke="#222" stroke-width="0.6"/>
<line x1="359.61" y1="230.73" x2="359.61" y2="235.39" stroke="#222" stroke-width="0.6"/>
<line x1="358.31" y1="230.73" x2="360.91" y2="230.73" stroke="#222" stroke-width="0.6"/>
<line x1="358.31" y1="235.39" x2="360.91" y2="235.39" stroke="#222" stroke-width="0.6"/>
<line x1="361.02" y1="228.98" x2="361.02" y2="233.64" stroke="#222" stroke-width="0.6"/>
<line x1="359.72" y1="228.98" x2="362.32" y2="228.98" stroke="#222" stroke-width="0.6"/>
<line x1="359.72" y1="233.64" x2="362.32" y2="233.64" stroke="#222" stroke-width="0.6"/>
<line x1="364.07" y1="225.49" x2="364.07" y2="232.48" stroke="#222" stroke-width="0.6"/>
<line x1="362.77" y1="225.49" x2="365.38" y2="225.49" stroke="#222" stroke-width="0.6"/>
<line x1="362.77" y1="232.48" x2="365.38" y2="232.48" stroke="#222" stroke-width="0.6"/>
<line x1="369.95" y1="217.33" x2="369.95" y2="226.65" stroke="#222" stroke-width="0.6"/>
<line x1="368.65" y1="217.33" x2="371.25" y2="217.33" stroke="#222" stroke-width="0.6"/>
<line x1="368.65" y1="226.65" x2="371.25" y2="226.65" stroke="#222" stroke-width="0.6"/>
<line x1="381.70" y1="204.52" x2="381.70" y2="216.16" stroke="#222" stroke-width="0.6"/>
<line x1="380.40" y1="204.52" x2="383.00" y2="204.52" stroke="#222" stroke-width="0.6"/>
<line x1="380.40" y1="216.16" x2="383.00" y2="216.16" stroke="#222" stroke-width="0.6"/>
<line x1="405.20" y1="190.53" x2="405.20" y2="206.84" stroke="#222" stroke-width="0.6"/>
<line x1="403.90" y1="190.53" x2="406.50" y2="190.53" stroke="#222" stroke-width="0.6"/>
<line x1="403.90" y1="206.84" x2="406.50" y2="206.84" stroke="#222" stroke-width="0.6"/>
<line x1="452.20" y1="190.30" x2="452.20" y2="197.29" stroke="#222" stroke-width="0.6"/>
<line x1="450.90" y1="190.30" x2="453.50" y2="190.30" stroke="#222" stroke-width="0.6"/>
<line x1="450.90" y1="197.29" x2="453.50" y2="197.29" stroke="#222" stroke-width="0.6"/>
<circle cx="358.20" cy="234.22" r="2.7" fill="#fff" stroke="#111" stroke-width="0.8"/>
<circle cx="359.61" cy="233.06" r="2.7" fill="#fff" stroke="#111" stroke-width="0.8"/>
<circle cx="361.02" cy="231.31" r="2.7" fill="#fff" stroke="#111" stroke-width="0.8"/>
<circle cx="364.07" cy="228.98" r="2.7" fill="#fff" stroke="#111" stroke-width="0.8"/>
<circle cx="369.95" cy="221.99" r="2.7" fill="#fff" stroke="#111" stroke-width="0.8"/>
<circle cx="381.70" cy="210.34" r="2.7" fill="#fff" stroke="#111" stroke-width="0.8"/>
<circle cx="405.20" cy="198.69" r="2.7" fill="#fff" stroke="#111" stroke-width="0.8"/>
<circle cx="452.20" cy="193.80" r="2.7" fill="#fff" stroke="#111" stroke-width="0.8"/>
<polyline points="358.20,233.64 359.61,232.48 361.02,230.15 364.07,227.81 369.95,220.83 381.70,205.68 405.20,168.98 452.20,163.27" fill="none" stroke="#111" stroke-width="0.8"/>
<line x1="358.20" y1="231.31" x2="358.20" y2="235.97" stroke="#222" stroke-width="0.6"/>
<line x1="356.90" y1="231.31" x2="359.50" y2="231.31" stroke="#222" stroke-width="0.6"/>
<line x1="356.90" y1="235.97" x2="359.50" y2="235.97" stroke="#222" stroke-width="0.6"/>
<line x1="359.61" y1="230.15" x2="359.61" y2="234.81" stroke="#222" stroke-width="0.6"/>
<line x1="358.31" y1="230.15" x2="360.91" y2="230.15" stroke="#222" stroke-width="0.6"/>
<line x1="358.31" y1="234.81" x2="360.91" y2="234.81" stroke="#222" stroke-width="0.6"/>
<line x1="361.02" y1="226.65" x2="361.02" y2="233.64" stroke="#222" stroke-width="0.6"/>
<line x1="359.72" y1="226.65" x2="362.32" y2="226.65" stroke="#222" stroke-width="0.6"/>
<line x1="359.72" y1="233.64" x2="362.32" y2="233.64" stroke="#222" stroke-width="0.6"/>
<line x1="364.07" y1="223.16" x2="364.07" y2="232.47" stroke="#222" stroke-width="0.6"/>
<line x1="362.77" y1="223.16" x2="365.38" y2="223.16" stroke="#222" stroke-width="0.6"/>
<line x1="362.77" y1="232.47" x2="365.38" y2="232.47" stroke="#222" stroke-width="0.6"/>
<line x1="369.95" y1="213.84" x2="369.95" y2="227.82" stroke="#222" stroke-width="0.6"/>
<line x1="368.65" y1="213.84" x2="371.25" y2="213.84" stroke="#222" stroke-width="0.6"/>
<line x1="368.65" y1="227.82" x2="371.25" y2="227.82" stroke="#222" stroke-width="0.6"/>
<line x1="381.70" y1="199.86" x2="381.70" y2="211.50" stroke="#222" stroke-width="0.6"/>
<line x1="380.40" y1="199.86" x2="383.00" y2="199.86" stroke="#222" stroke-width="0.6"/>
<line x1="380.40" y1="211.50" x2="383.00" y2="211.50" stroke="#222" stroke-width="0.6"/>
<line x1="405.20" y1="163.16" x2="405.20" y2="174.81" stroke="#222" stroke-width="0.6"/>
<line x1="403.90" y1="163.16" x2="406.50" y2="163.16" stroke="#222" stroke-width="0.6"/>
<line x1="403.90" y1="174.81" x2="406.50" y2="174.81" stroke="#222" stroke-width="0.6"/>
<line x1="452.20" y1="156.28" x2="452.20" y2="170.26" stroke="#222" stroke-width="0.6"/>
<line x1="450.90" y1="156.28" x2="453.50" y2="156.28" stroke="#222" stroke-width="0.6"/>
<line x1="450.90" y1="170.26" x2="453.50" y2="170.26" stroke="#222" stroke-width="0.6"/>
<polygon points="355.50,231.48 360.90,231.48 358.20,236.61" fill="#fff" stroke="#111" stroke-width="0.8"/>
<polygon points="356.91,230.32 362.31,230.32 359.61,235.45" fill="#fff" stroke="#111" stroke-width="0.8"/>
<polygon points="358.32,227.99 363.72,227.99 361.02,233.12" fill="#fff" stroke="#111" stroke-width="0.8"/>
<polygon points="361.38,225.66 366.77,225.66 364.07,230.78" fill="#fff" stroke="#111" stroke-width="0.8"/>
<polygon points="367.25,218.67 372.65,218.67 369.95,223.80" fill="#fff" stroke="#111" stroke-width="0.8"/>
<polygon points="379.00,203.52 384.40,203.52 381.70,208.65" fill="#fff" stroke="#111" stroke-width="0.8"/>
<polygon points="402.50,166.82 407.90,166.82 405.20,171.95" fill="#fff" stroke="#111" stroke-width="0.8"/>
<polygon points="449.50,161.11 454.90,161.11 452.20,166.24" fill="#fff" stroke="#111" stroke-width="0.8"/>
<polyline points="358.20,233.64 359.61,232.48 361.02,230.73 364.07,228.98 369.95,223.74 381.70,205.10 405.20,187.97 452.20,178.30" fill="none" stroke="#111" stroke-width="0.8"/>
<line x1="358.20" y1="231.31" x2="358.20" y2="235.97" stroke="#222" stroke-width="0.6"/>
<line x1="356.90" y1="231.31" x2="359.50" y2="231.31" stroke="#222" stroke-width="0.6"/>
<line x1="356.90" y1="235.97" x2="359.50" y2="235.97" stroke="#222" stroke-width="0.6"/>
<line x1="359.61" y1="230.15" x2="359.61" y2="234.81" stroke="#222" stroke-width="0.6"/>
<line x1="358.31" y1="230.15" x2="360.91" y2="230.15" stroke="#222" stroke-width="0.6"/>
<line x1="358.31" y1="234.81" x2="360.91" y2="234.81" stroke="#222" stroke-width="0.6"/>
<line x1="361.02" y1="228.40" x2="361.02" y2="233.06" stroke="#222" stroke-width="0.6"/>
<line x1="359.72" y1="228.40" x2="362.32" y2="228.40" stroke="#222" stroke-width="0.6"/>
<line x1="359.72" y1="233.06" x2="362.32" y2="233.06" stroke="#222" stroke-width="0.6"/>
<line x1="364.07" y1="225.49" x2="364.07" y2="232.48" stroke="#222" stroke-width="0.6"/>
<line x1="362.77" y1="225.49" x2="365.38" y2="225.49" stroke="#222" stroke-width="0.6"/>
<line x1="362.77" y1="232.48" x2="365.38" y2="232.48" stroke="#222" stroke-width="0.6"/>
<line x1="369.95" y1="217.91" x2="369.95" y2="229.56" stroke="#222" stroke-width="0.6"/>
<line x1="368.65" y1="217.91" x2="371.25" y2="217.91" stroke="#222" stroke-width="0.6"/>
<line x1="368.65" y1="229.56" x2="371.25" y2="229.56" stroke="#222" stroke-width="0.6"/>
<line x1="381.70" y1="199.27" x2="381.70" y2="210.92" stroke="#222" stroke-width="0.6"/>
<line x1="380.40" y1="199.27" x2="383.00" y2="199.27" stroke="#222" stroke-width="0.6"/>
<line x1="380.40" y1="210.92" x2="383.00" y2="210.92" stroke="#222" stroke-width="0.6"/>
<line x1="405.20" y1="180.98" x2="405.20" y2="194.96" stroke="#222" stroke-width="0.6"/>
<line x1="403.90" y1="180.98" x2="406.50" y2="180.98" stroke="#222" stroke-width="0.6"/>
<line x1="403.90" y1="194.96" x2="406.50" y2="194.96" stroke="#222" stroke-width="0.6"/>
<line x1="452.20" y1="167.82" x2="452.20" y2="188.79" stroke="#222" stroke-width="0.6"/>
<line x1="450.90" y1="167.82" x2="453.50" y2="167.82" stroke="#222" stroke-width="0.6"/>
<line x1="450.90" y1="188.79" x2="453.50" y2="188.79" stroke="#222" stroke-width="0.6"/>
<circle cx="358.20" cy="233.64" r="2.3" fill="#000" stroke="#000" stroke-width="0.5"/>
<circle cx="359.61" cy="232.48" r="2.3" fill="#000" stroke="#000" stroke-width="0.5"/>
<circle cx="361.02" cy="230.73" r="2.3" fill="#000" stroke="#000" stroke-width="0.5"/>
<circle cx="364.07" cy="228.98" r="2.3" fill="#000" stroke="#000" stroke-width="0.5"/>
<circle cx="369.95" cy="223.74" r="2.3" fill="#000" stroke="#000" stroke-width="0.5"/>
<circle cx="381.70" cy="205.10" r="2.3" fill="#000" stroke="#000" stroke-width="0.5"/>
<circle cx="405.20" cy="187.97" r="2.3" fill="#000" stroke="#000" stroke-width="0.5"/>
<circle cx="452.20" cy="178.30" r="2.3" fill="#000" stroke="#000" stroke-width="0.5"/>
<polyline points="358.20,233.64 359.61,231.31 361.02,228.98 364.07,226.65 369.95,216.17 381.70,192.87 405.20,160.25 452.20,151.27" fill="none" stroke="#111" stroke-width="0.8"/>
<line x1="358.20" y1="231.31" x2="358.20" y2="235.97" stroke="#222" stroke-width="0.6"/>
<line x1="356.90" y1="231.31" x2="359.50" y2="231.31" stroke="#222" stroke-width="0.6"/>
<line x1="356.90" y1="235.97" x2="359.50" y2="235.97" stroke="#222" stroke-width="0.6"/>
<line x1="359.61" y1="227.81" x2="359.61" y2="234.81" stroke="#222" stroke-width="0.6"/>
<line x1="358.31" y1="227.81" x2="360.91" y2="227.81" stroke="#222" stroke-width="0.6"/>
<line x1="358.31" y1="234.81" x2="360.91" y2="234.81" stroke="#222" stroke-width="0.6"/>
<line x1="361.02" y1="225.49" x2="361.02" y2="232.48" stroke="#222" stroke-width="0.6"/>
<line x1="359.72" y1="225.49" x2="362.32" y2="225.49" stroke="#222" stroke-width="0.6"/>
<line x1="359.72" y1="232.48" x2="362.32" y2="232.48" stroke="#222" stroke-width="0.6"/>
<line x1="364.07" y1="217.33" x2="364.07" y2="235.97" stroke="#222" stroke-width="0.6"/>
<line x1="362.77" y1="217.33" x2="365.38" y2="217.33" stroke="#222" stroke-width="0.6"/>
<line x1="362.77" y1="235.97" x2="365.38" y2="235.97" stroke="#222" stroke-width="0.6"/>
<line x1="369.95" y1="204.52" x2="369.95" y2="227.82" stroke="#222" stroke-width="0.6"/>
<line x1="368.65" y1="204.52" x2="371.25" y2="204.52" stroke="#222" stroke-width="0.6"/>
<line x1="368.65" y1="227.82" x2="371.25" y2="227.82" stroke="#222" stroke-width="0.6"/>
<line x1="381.70" y1="182.38" x2="381.70" y2="203.35" stroke="#222" stroke-width="0.6"/>
<line x1="380.40" y1="182.38" x2="383.00" y2="182.38" stroke="#222" stroke-width="0.6"/>
<line x1="380.40" y1="203.35" x2="383.00" y2="203.35" stroke="#222" stroke-width="0.6"/>
<line x1="405.20" y1="155.59" x2="405.20" y2="164.91" stroke="#222" stroke-width="0.6"/>
<line x1="403.90" y1="155.59" x2="406.50" y2="155.59" stroke="#222" stroke-width="0.6"/>
<line x1="403.90" y1="164.91" x2="406.50" y2="164.91" stroke="#222" stroke-width="0.6"/>
<line x1="452.20" y1="145.45" x2="452.20" y2="157.10" stroke="#222" stroke-width="0.6"/>
<line x1="450.90" y1="145.45" x2="453.50" y2="145.45" stroke="#222" stroke-width="0.6"/>
<line x1="450.90" y1="157.10" x2="453.50" y2="157.10" stroke="#222" stroke-width="0.6"/>
<polygon points="355.80,231.72 360.60,231.72 358.20,236.28" fill="#000" stroke="#000" stroke-width="0.6"/>
<polygon points="357.21,229.39 362.01,229.39 359.61,233.95" fill="#000" stroke="#000" stroke-width="0.6"/>
<polygon points="358.62,227.06 363.42,227.06 361.02,231.62" fill="#000" stroke="#000" stroke-width="0.6"/>
<polygon points="361.68,224.73 366.47,224.73 364.07,229.29" fill="#000" stroke="#000" stroke-width="0.6"/>
<polygon points="367.55,214.25 372.35,214.25 369.95,218.81" fill="#000" stroke="#000" stroke-width="0.6"/>
<polygon points="379.30,190.95 384.10,190.95 381.70,195.50" fill="#000" stroke="#000" stroke-width="0.6"/>
<polygon points="402.80,158.33 407.60,158.33 405.20,162.88" fill="#000" stroke="#000" stroke-width="0.6"/>
<polygon points="449.80,149.35 454.60,149.35 452.20,153.91" fill="#000" stroke="#000" stroke-width="0.6"/>
<rect x="443.3" y="205.2" width="21.2" height="28.8" fill="#fff" stroke="#222" stroke-width="0.7"/>
<circle cx="448.00" cy="209.70" r="2.5" fill="#fff" stroke="#111" stroke-width="0.8"/>
<text x="453.0" y="211.85" font-size="6.0" text-anchor="start" font-weight="bold">1 d</text>
<circle cx="448.00" cy="216.00" r="2.5" fill="#000" stroke="#000" stroke-width="0.5"/>
<text x="453.0" y="218.15" font-size="6.0" text-anchor="start" font-weight="bold">2 d</text>
<polygon points="446.00,220.60 450.00,220.60 448.00,224.40" fill="#fff" stroke="#111" stroke-width="0.8"/>
<text x="453.0" y="224.35" font-size="6.0" text-anchor="start" font-weight="bold">3 d</text>
<polygon points="446.00,227.00 450.00,227.00 448.00,230.80" fill="#000" stroke="#000" stroke-width="0.6"/>
<text x="453.0" y="230.75" font-size="6.0" text-anchor="start" font-weight="bold">4 d</text>
<text x="1.5" y="273" font-size="11.5" text-anchor="start" font-weight="bold">G</text>
<line x1="33.30" y1="269.00" x2="33.30" y2="362.50" stroke="#111" stroke-width="0.9"/>
<line x1="33.30" y1="362.50" x2="103.00" y2="362.50" stroke="#111" stroke-width="0.9"/>
<line x1="33.30" y1="362.50" x2="35.50" y2="362.50" stroke="#111" stroke-width="0.7"/>
<text x="31.799999999999997" y="364.5" font-size="5.8" text-anchor="end" font-weight="bold">0</text>
<line x1="33.30" y1="343.80" x2="35.50" y2="343.80" stroke="#111" stroke-width="0.7"/>
<text x="31.799999999999997" y="345.8" font-size="5.8" text-anchor="end" font-weight="bold">10</text>
<line x1="33.30" y1="325.10" x2="35.50" y2="325.10" stroke="#111" stroke-width="0.7"/>
<text x="31.799999999999997" y="327.1" font-size="5.8" text-anchor="end" font-weight="bold">20</text>
<line x1="33.30" y1="306.40" x2="35.50" y2="306.40" stroke="#111" stroke-width="0.7"/>
<text x="31.799999999999997" y="308.4" font-size="5.8" text-anchor="end" font-weight="bold">30</text>
<line x1="33.30" y1="287.70" x2="35.50" y2="287.70" stroke="#111" stroke-width="0.7"/>
<text x="31.799999999999997" y="289.7" font-size="5.8" text-anchor="end" font-weight="bold">40</text>
<line x1="33.30" y1="269.00" x2="35.50" y2="269.00" stroke="#111" stroke-width="0.7"/>
<text x="31.799999999999997" y="271.0" font-size="5.8" text-anchor="end" font-weight="bold">50</text>
<text x="38.2" y="271.8" font-size="6" text-anchor="start" font-weight="bold">Rap (10 nM)</text>
<text x="21.9" y="315" font-size="7" text-anchor="middle" font-weight="bold" transform="rotate(-90 21.9 315)">Subdiploid cells (% of total)</text>
<text x="44.8" y="369.8" font-size="5.8" text-anchor="middle" font-weight="bold">Jurkat</text>
<line x1="38.15" y1="355.02" x2="38.15" y2="354.08" stroke="#222" stroke-width="0.6"/>
<line x1="36.95" y1="354.08" x2="39.35" y2="354.08" stroke="#222" stroke-width="0.6"/>
<rect x="36.3" y="355.02" width="3.7" height="7.48" fill="#fff" stroke="#111" stroke-width="0.6"/>
<line x1="43.15" y1="348.66" x2="43.15" y2="343.05" stroke="#222" stroke-width="0.6"/>
<line x1="41.95" y1="343.05" x2="44.35" y2="343.05" stroke="#222" stroke-width="0.6"/>
<rect x="41.3" y="348.66" width="3.7" height="13.84" fill="#bdbdbd" stroke="#111" stroke-width="0.6"/>
<line x1="48.15" y1="348.66" x2="48.15" y2="343.05" stroke="#222" stroke-width="0.6"/>
<line x1="46.95" y1="343.05" x2="49.35" y2="343.05" stroke="#222" stroke-width="0.6"/>
<rect x="46.3" y="348.66" width="3.7" height="13.84" fill="#606060" stroke="#111" stroke-width="0.6"/>
<line x1="52.75" y1="356.14" x2="52.75" y2="354.83" stroke="#222" stroke-width="0.6"/>
<line x1="51.55" y1="354.83" x2="53.95" y2="354.83" stroke="#222" stroke-width="0.6"/>
<rect x="50.9" y="356.14" width="3.7" height="6.36" fill="#000" stroke="#111" stroke-width="0.6"/>
<text x="67.5" y="369.8" font-size="5.8" text-anchor="middle" font-weight="bold">Jeko</text>
<line x1="61.95" y1="345.67" x2="61.95" y2="343.43" stroke="#222" stroke-width="0.6"/>
<line x1="60.75" y1="343.43" x2="63.15" y2="343.43" stroke="#222" stroke-width="0.6"/>
<rect x="60.1" y="345.67" width="3.7" height="16.83" fill="#fff" stroke="#111" stroke-width="0.6"/>
<line x1="66.95" y1="347.17" x2="66.95" y2="342.49" stroke="#222" stroke-width="0.6"/>
<line x1="65.75" y1="342.49" x2="68.15" y2="342.49" stroke="#222" stroke-width="0.6"/>
<rect x="65.1" y="347.17" width="3.7" height="15.33" fill="#bdbdbd" stroke="#111" stroke-width="0.6"/>
<line x1="71.95" y1="349.41" x2="71.95" y2="343.80" stroke="#222" stroke-width="0.6"/>
<line x1="70.75" y1="343.80" x2="73.15" y2="343.80" stroke="#222" stroke-width="0.6"/>
<rect x="70.1" y="349.41" width="3.7" height="13.09" fill="#606060" stroke="#111" stroke-width="0.6"/>
<line x1="76.45" y1="353.15" x2="76.45" y2="352.21" stroke="#222" stroke-width="0.6"/>
<line x1="75.25" y1="352.21" x2="77.65" y2="352.21" stroke="#222" stroke-width="0.6"/>
<rect x="74.6" y="353.15" width="3.7" height="9.35" fill="#000" stroke="#111" stroke-width="0.6"/>
<text x="92.5" y="369.8" font-size="5.8" text-anchor="middle" font-weight="bold">SeAx</text>
<line x1="85.15" y1="322.67" x2="85.15" y2="313.32" stroke="#222" stroke-width="0.6"/>
<line x1="83.95" y1="313.32" x2="86.35" y2="313.32" stroke="#222" stroke-width="0.6"/>
<rect x="83.3" y="322.67" width="3.7" height="39.83" fill="#fff" stroke="#111" stroke-width="0.6"/>
<line x1="89.95" y1="325.10" x2="89.95" y2="322.30" stroke="#222" stroke-width="0.6"/>
<line x1="88.75" y1="322.30" x2="91.15" y2="322.30" stroke="#222" stroke-width="0.6"/>
<rect x="88.1" y="325.10" width="3.7" height="37.40" fill="#bdbdbd" stroke="#111" stroke-width="0.6"/>
<line x1="94.85" y1="306.96" x2="94.85" y2="302.66" stroke="#222" stroke-width="0.6"/>
<line x1="93.65" y1="302.66" x2="96.05" y2="302.66" stroke="#222" stroke-width="0.6"/>
<rect x="93.0" y="306.96" width="3.7" height="55.54" fill="#606060" stroke="#111" stroke-width="0.6"/>
<line x1="99.65" y1="296.12" x2="99.65" y2="284.89" stroke="#222" stroke-width="0.6"/>
<line x1="98.45" y1="284.89" x2="100.85" y2="284.89" stroke="#222" stroke-width="0.6"/>
<rect x="97.8" y="296.12" width="3.7" height="66.38" fill="#000" stroke="#111" stroke-width="0.6"/>
<rect x="40.8" y="278.8" width="20" height="29.5" fill="#fff" stroke="#222" stroke-width="0.7"/>
<rect x="43" y="280.60" width="4.5" height="5.4" fill="#fff" stroke="#111" stroke-width="0.6"/>
<text x="49.5" y="285.45000000000005" font-size="6.1" text-anchor="start" font-weight="bold">1 d</text>
<rect x="43" y="287.20" width="4.5" height="5.4" fill="#bdbdbd" stroke="#111" stroke-width="0.6"/>
<text x="49.5" y="292.05000000000007" font-size="6.1" text-anchor="start" font-weight="bold">2 d</text>
<rect x="43" y="293.80" width="4.5" height="5.4" fill="#606060" stroke="#111" stroke-width="0.6"/>
<text x="49.5" y="298.65000000000003" font-size="6.1" text-anchor="start" font-weight="bold">3 d</text>
<rect x="43" y="300.40" width="4.5" height="5.4" fill="#fff" stroke="#111" stroke-width="0.6"/>
<text x="49.5" y="305.25000000000006" font-size="6.1" text-anchor="start" font-weight="bold">4 d</text>
<text x="110.7" y="273" font-size="11.5" text-anchor="start" font-weight="bold">H</text>
<text x="115.6" y="289.4" font-size="6" text-anchor="start" font-weight="bold">OSI-027 (µM)</text>
<text x="166" y="279.2" font-size="6" text-anchor="middle" font-weight="bold">Jeko</text>
<line x1="155.00" y1="281.60" x2="176.80" y2="281.60" stroke="#111" stroke-width="1.0"/>
<text x="189.5" y="279.2" font-size="6" text-anchor="middle" font-weight="bold">Mino</text>
<line x1="179.20" y1="281.60" x2="199.50" y2="281.60" stroke="#111" stroke-width="1.0"/>
<text x="211.8" y="279.2" font-size="6" text-anchor="middle" font-weight="bold">Pt. 1</text>
<line x1="202.00" y1="281.60" x2="222.00" y2="281.60" stroke="#111" stroke-width="1.0"/>
<text x="234" y="279.2" font-size="6" text-anchor="middle" font-weight="bold">Pt. 2</text>
<line x1="224.30" y1="281.60" x2="245.00" y2="281.60" stroke="#111" stroke-width="1.0"/>
<text x="255.5" y="279.2" font-size="6" text-anchor="middle" font-weight="bold">Pt. 3</text>
<line x1="248.20" y1="281.60" x2="263.30" y2="281.60" stroke="#111" stroke-width="1.0"/>
<text x="157.5" y="290.2" font-size="4.6" text-anchor="middle" font-weight="bold">0</text>
<text x="165.2" y="290.2" font-size="4.6" text-anchor="middle" font-weight="bold">5</text>
<text x="172.9" y="290.2" font-size="4.6" text-anchor="middle" font-weight="bold">10</text>
<text x="180.7" y="290.2" font-size="4.6" text-anchor="middle" font-weight="bold">0</text>
<text x="188.6" y="290.2" font-size="4.6" text-anchor="middle" font-weight="bold">5</text>
<text x="196.3" y="290.2" font-size="4.6" text-anchor="middle" font-weight="bold">10</text>
<text x="204.0" y="290.2" font-size="4.6" text-anchor="middle" font-weight="bold">0</text>
<text x="211.8" y="290.2" font-size="4.6" text-anchor="middle" font-weight="bold">5</text>
<text x="219.5" y="290.2" font-size="4.6" text-anchor="middle" font-weight="bold">10</text>
<text x="226.9" y="290.2" font-size="4.6" text-anchor="middle" font-weight="bold">0</text>
<text x="234.5" y="290.2" font-size="4.6" text-anchor="middle" font-weight="bold">5</text>
<text x="242.2" y="290.2" font-size="4.6" text-anchor="middle" font-weight="bold">10</text>
<text x="250.6" y="290.2" font-size="4.6" text-anchor="middle" font-weight="bold">0</text>
<text x="257.8" y="290.2" font-size="4.6" text-anchor="middle" font-weight="bold">10</text>
<text x="146.3" y="305.6" font-size="5.8" text-anchor="end" font-weight="bold">100</text>
<line x1="147.80" y1="303.60" x2="151.50" y2="303.60" stroke="#111" stroke-width="0.8"/>
<text x="146.3" y="325.6" font-size="5.8" text-anchor="end" font-weight="bold">50</text>
<line x1="147.80" y1="323.60" x2="151.50" y2="323.60" stroke="#111" stroke-width="0.8"/>
<rect x="152.5" y="292.1" width="114.19999999999999" height="44.099999999999966" fill="#e2e2e2"/>
<g clip-path="url(#cpH)">
<rect x="152.5" y="290.1" width="114.19999999999999" height="14" fill="#9a9a9a" fill-opacity="0.45" filter="url(#b3)"/>
<rect x="152.5" y="323.5" width="114.19999999999999" height="9" fill="#999" fill-opacity="0.35" filter="url(#b3)"/>
<rect x="154.0" y="292.4" width="7.0" height="11.2" rx="1.2" fill="#000" fill-opacity="0.95" filter="url(#b2)"/>
<rect x="154.4" y="294.4" width="6.2" height="8.2" rx="1.5" fill="#000" fill-opacity="0.6" filter="url(#b2)"/>
<rect x="153.4" y="326.3" width="8.2" height="3.4" rx="1.6" fill="#000" fill-opacity="0.88" filter="url(#b4)"/>
<rect x="161.7" y="293.0" width="7.0" height="11.3" rx="1.2" fill="#000" fill-opacity="0.62" filter="url(#b2)"/>
<rect x="161.7" y="299.0" width="7.0" height="5.3" rx="1.5" fill="#000" fill-opacity="0.8" filter="url(#b2)"/>
<rect x="162.3" y="308.3" width="5.8" height="2.3" rx="1" fill="#000" fill-opacity="0.74" filter="url(#b4)"/>
<rect x="161.1" y="326.7" width="8.2" height="3.4" rx="1.6" fill="#000" fill-opacity="0.88" filter="url(#b4)"/>
<rect x="169.4" y="293.0" width="7.0" height="11.3" rx="1.2" fill="#000" fill-opacity="0.58" filter="url(#b2)"/>
<rect x="169.4" y="299.5" width="7.0" height="4.8" rx="1.5" fill="#000" fill-opacity="0.8" filter="url(#b2)"/>
<rect x="170.0" y="308.3" width="5.8" height="2.3" rx="1" fill="#000" fill-opacity="0.85" filter="url(#b4)"/>
<rect x="168.8" y="326.8" width="8.2" height="3.4" rx="1.6" fill="#000" fill-opacity="0.88" filter="url(#b4)"/>
<rect x="177.2" y="293.0" width="7.0" height="11.3" rx="1.2" fill="#000" fill-opacity="0.92" filter="url(#b2)"/>
<rect x="177.6" y="295.0" width="6.2" height="8.3" rx="1.5" fill="#000" fill-opacity="0.6" filter="url(#b2)"/>
<rect x="177.8" y="308.5" width="5.8" height="2.3" rx="1" fill="#000" fill-opacity="0.14" filter="url(#b4)"/>
<rect x="176.6" y="326.6" width="8.2" height="3.4" rx="1.6" fill="#000" fill-opacity="0.88" filter="url(#b4)"/>
<rect x="185.1" y="293.5" width="7.0" height="10.8" rx="1.2" fill="#000" fill-opacity="0.62" filter="url(#b2)"/>
<rect x="185.1" y="299.5" width="7.0" height="4.8" rx="1.5" fill="#000" fill-opacity="0.8" filter="url(#b2)"/>
<rect x="185.7" y="308.5" width="5.8" height="2.3" rx="1" fill="#000" fill-opacity="0.78" filter="url(#b4)"/>
<rect x="184.5" y="326.7" width="8.2" height="3.4" rx="1.6" fill="#000" fill-opacity="0.88" filter="url(#b4)"/>
<rect x="192.8" y="293.5" width="7.0" height="10.5" rx="1.2" fill="#000" fill-opacity="0.55" filter="url(#b2)"/>
<rect x="192.8" y="300.0" width="7.0" height="4.0" rx="1.5" fill="#000" fill-opacity="0.8" filter="url(#b2)"/>
<rect x="193.4" y="308.3" width="5.8" height="2.3" rx="1" fill="#000" fill-opacity="0.85" filter="url(#b4)"/>
<rect x="192.2" y="326.5" width="8.2" height="3.4" rx="1.6" fill="#000" fill-opacity="0.88" filter="url(#b4)"/>
<rect x="200.5" y="293.0" width="7.0" height="10.6" rx="1.2" fill="#000" fill-opacity="0.92" filter="url(#b2)"/>
<rect x="200.9" y="295.0" width="6.2" height="7.6" rx="1.5" fill="#000" fill-opacity="0.6" filter="url(#b2)"/>
<rect x="201.1" y="308.2" width="5.8" height="2.3" rx="1" fill="#000" fill-opacity="0.14" filter="url(#b4)"/>
<rect x="199.9" y="326.8" width="8.2" height="3.4" rx="1.6" fill="#000" fill-opacity="0.88" filter="url(#b4)"/>
<rect x="208.3" y="293.5" width="7.0" height="10.1" rx="1.2" fill="#000" fill-opacity="0.58" filter="url(#b2)"/>
<rect x="208.3" y="299.8" width="7.0" height="3.8" rx="1.5" fill="#000" fill-opacity="0.8" filter="url(#b2)"/>
<rect x="208.9" y="307.9" width="5.8" height="2.3" rx="1" fill="#000" fill-opacity="0.78" filter="url(#b4)"/>
<rect x="207.7" y="326.4" width="8.2" height="3.4" rx="1.6" fill="#000" fill-opacity="0.88" filter="url(#b4)"/>
<rect x="216.0" y="294.0" width="7.0" height="9.4" rx="1.2" fill="#000" fill-opacity="0.42" filter="url(#b2)"/>
<rect x="216.0" y="300.6" width="7.0" height="2.8" rx="1.5" fill="#000" fill-opacity="0.8" filter="url(#b2)"/>
<rect x="216.6" y="307.9" width="5.8" height="2.3" rx="1" fill="#000" fill-opacity="0.81" filter="url(#b4)"/>
<rect x="215.4" y="326.6" width="8.2" height="3.4" rx="1.6" fill="#000" fill-opacity="0.88" filter="url(#b4)"/>
<rect x="223.4" y="293.5" width="7.0" height="10.1" rx="1.2" fill="#000" fill-opacity="0.92" filter="url(#b2)"/>
<rect x="223.8" y="295.5" width="6.2" height="7.1" rx="1.5" fill="#000" fill-opacity="0.6" filter="url(#b2)"/>
<rect x="224.0" y="307.9" width="5.8" height="2.3" rx="1" fill="#000" fill-opacity="0.14" filter="url(#b4)"/>
<rect x="222.8" y="326.9" width="8.2" height="3.4" rx="1.6" fill="#000" fill-opacity="0.88" filter="url(#b4)"/>
<rect x="231.0" y="293.0" width="7.0" height="9.8" rx="1.2" fill="#000" fill-opacity="0.68" filter="url(#b2)"/>
<rect x="231.0" y="298.5" width="7.0" height="4.3" rx="1.5" fill="#000" fill-opacity="0.8" filter="url(#b2)"/>
<rect x="231.6" y="307.4" width="5.8" height="2.3" rx="1" fill="#000" fill-opacity="0.74" filter="url(#b4)"/>
<rect x="230.4" y="326.7" width="8.2" height="3.4" rx="1.6" fill="#000" fill-opacity="0.88" filter="url(#b4)"/>
<rect x="238.7" y="293.5" width="7.0" height="8.8" rx="1.2" fill="#000" fill-opacity="0.45" filter="url(#b2)"/>
<rect x="238.7" y="300.0" width="7.0" height="2.3" rx="1.5" fill="#000" fill-opacity="0.8" filter="url(#b2)"/>
<rect x="239.3" y="307.2" width="5.8" height="2.3" rx="1" fill="#000" fill-opacity="0.83" filter="url(#b4)"/>
<rect x="238.1" y="326.5" width="8.2" height="3.4" rx="1.6" fill="#000" fill-opacity="0.88" filter="url(#b4)"/>
<rect x="247.1" y="291.5" width="7.0" height="10.1" rx="1.2" fill="#000" fill-opacity="0.92" filter="url(#b2)"/>
<rect x="247.5" y="293.5" width="6.2" height="7.1" rx="1.5" fill="#000" fill-opacity="0.6" filter="url(#b2)"/>
<rect x="247.7" y="305.9" width="5.8" height="2.3" rx="1" fill="#000" fill-opacity="0.05" filter="url(#b4)"/>
<rect x="246.5" y="325.3" width="8.2" height="3.4" rx="1.6" fill="#000" fill-opacity="0.88" filter="url(#b4)"/>
<rect x="254.3" y="292.0" width="7.0" height="9.6" rx="1.2" fill="#000" fill-opacity="0.88" filter="url(#b2)"/>
<rect x="254.7" y="294.0" width="6.2" height="6.6" rx="1.5" fill="#000" fill-opacity="0.6" filter="url(#b2)"/>
<rect x="254.9" y="305.2" width="5.8" height="2.3" rx="1" fill="#000" fill-opacity="0.78" filter="url(#b4)"/>
<rect x="253.7" y="323.6" width="8.2" height="3.4" rx="1.6" fill="#000" fill-opacity="0.88" filter="url(#b4)"/>
</g>
<rect x="152.5" y="292.1" width="114.19999999999999" height="44.099999999999966" fill="none" stroke="#111" stroke-width="1"/>
<line x1="152.50" y1="316.10" x2="266.70" y2="316.10" stroke="#111" stroke-width="1.0"/>
<text x="270.6" y="301.5" font-size="6.95" text-anchor="start" font-weight="bold">PARP1</text>
<polygon points="268.9,307.7 273.6,305.6 273.6,309.8" fill="#000"/>
<line x1="274.10" y1="307.70" x2="276.40" y2="307.70" stroke="#111" stroke-width="1.2"/>
<text x="278.8" y="309.8" font-size="6.0" text-anchor="start" font-weight="bold">Cleaved PARP</text>
<text x="270.6" y="328.2" font-size="6.95" text-anchor="start" font-weight="bold"><tspan font-weight="normal" font-size="7.3" fill="#333">β</tspan>-Actin</text>
</svg>
</body></html>
